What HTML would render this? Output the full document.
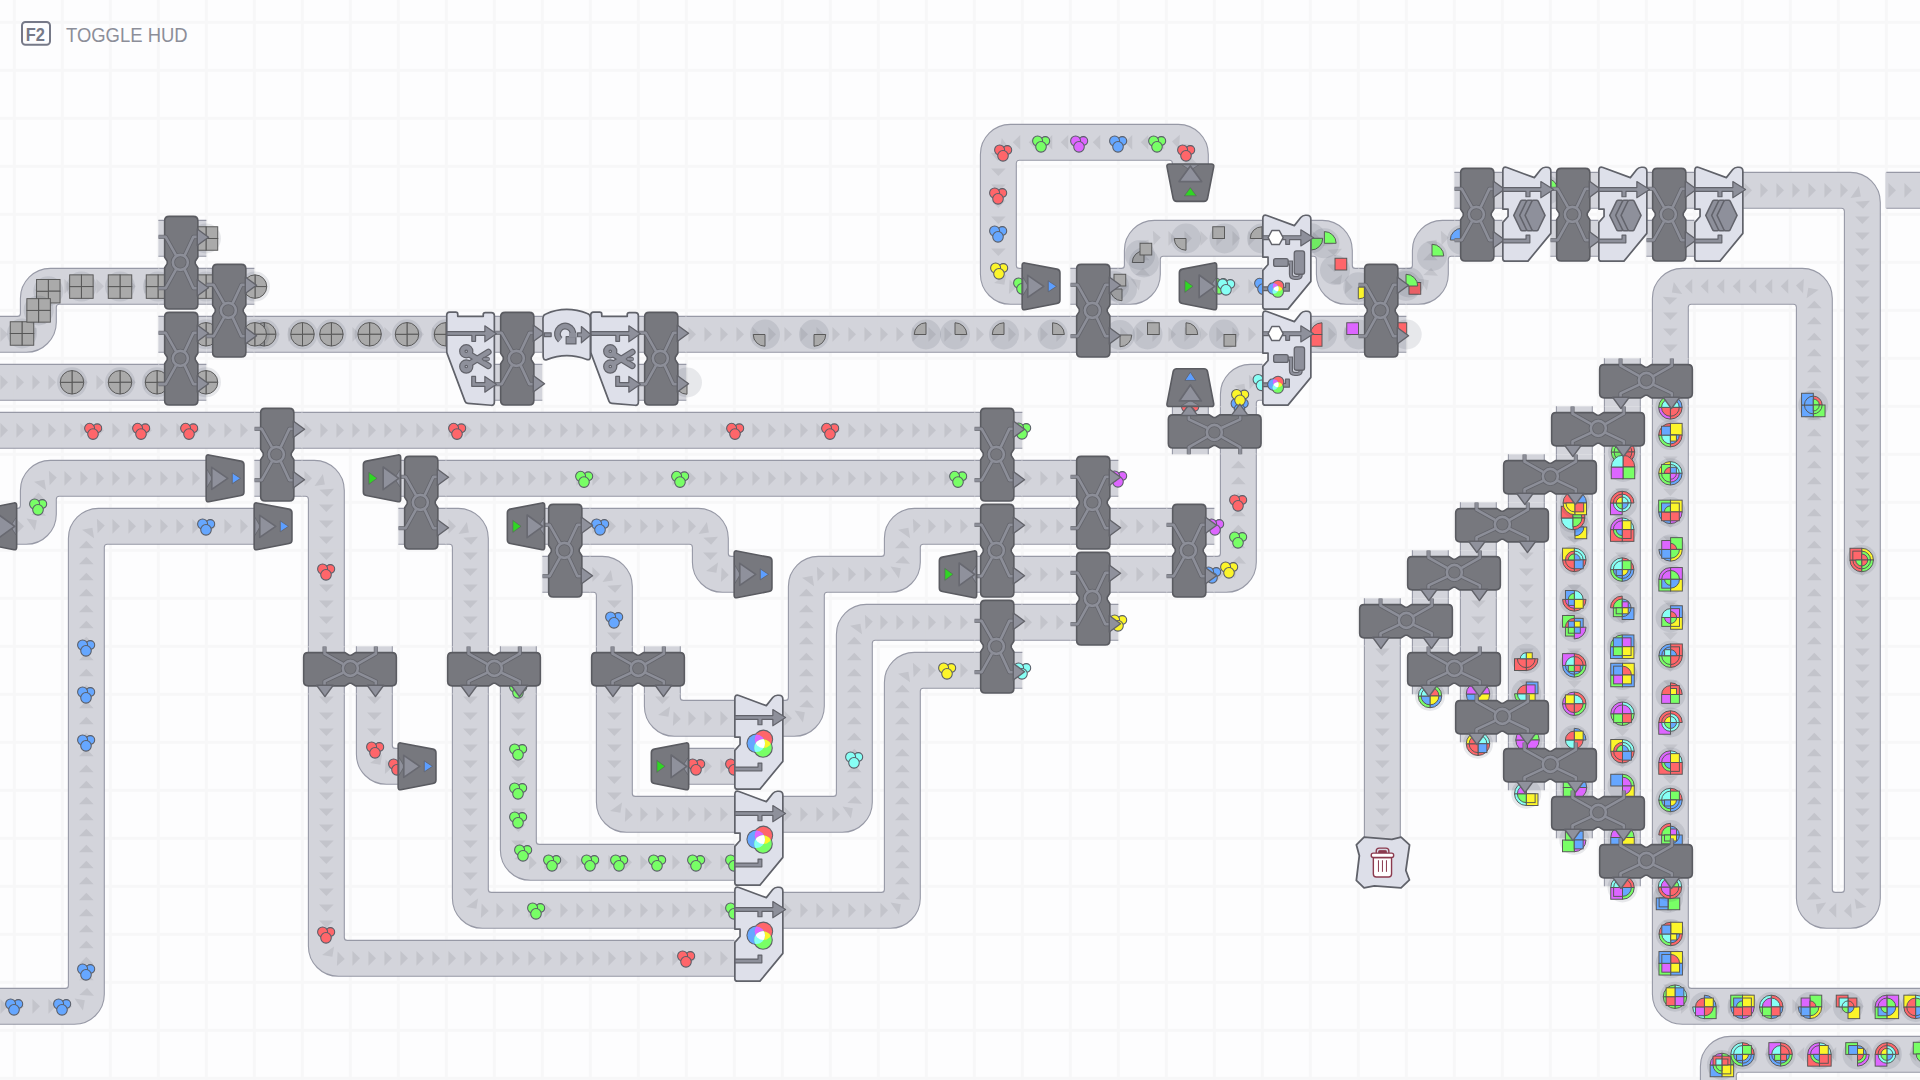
<!DOCTYPE html><html><head><meta charset="utf-8"><title>shapez</title><style>html,body{margin:0;padding:0;background:#fdfdfe;overflow:hidden}svg{display:block}</style></head><body>
<svg width="1920" height="1080" viewBox="0 0 1920 1080">

<defs>
<path id="a1" d="M0,-7.3 L7.5,0 L0,7.3 Z"/>
<g id="a3"><use href="#a1" x="-21.9"/><use href="#a1" x="-5.9"/><use href="#a1" x="10.1"/></g>
<g id="ac">
 <use href="#a1" x="-21.9"/>
 <use href="#a1" transform="translate(-7.65,1.75) rotate(35)"/>
 <use href="#a1" transform="translate(0.35,10.9) rotate(87)"/>
</g>
<g id="bal">
 <path d="M-13.2,-46 H11 Q15.5,-46 15.5,-41.5 V-5.2 L12.9,-1 V1.2 L15.5,5.4 V42.2 Q15.5,46.7 11,46.7 H-13.2 Q-17.7,46.7 -17.7,42.2 V5.4 L-15.1,1.2 V-1 L-17.7,-5.2 V-41.5 Q-17.7,-46 -13.2,-46 Z" fill="#77787e" stroke="#5a5b61" stroke-width="1.6"/>
 <g fill="none" stroke="#606168" stroke-width="4.2" stroke-linecap="butt" stroke-linejoin="round" opacity="0.8">
  <path d="M-23.8,-25.5 H-16.7 L-6.3,-7"/><path d="M-23.8,25.8 H-16.7 L-6.3,7"/>
  <path d="M2.3,-7 L11,-25.5 H15"/><path d="M2.3,7 L11,25.8 H15"/>
  <circle cx="-2" cy="0" r="7.5"/>
 </g>
 <g fill="none" stroke="#8c8e98" stroke-width="2.6" stroke-linecap="butt" stroke-linejoin="round">
  <path d="M-23.8,-25.5 H-16.7 L-6.3,-7"/><path d="M-23.8,25.8 H-16.7 L-6.3,7"/>
  <path d="M2.3,-7 L11,-25.5 H15"/><path d="M2.3,7 L11,25.8 H15"/>
  <circle cx="-2" cy="0" r="7.5"/>
 </g>
 <g fill="#8f919c" stroke="#62636a" stroke-width="1.4" stroke-linejoin="round">
  <path d="M14.9,-33.4 L26.2,-25.1 L14.9,-16.8 Z"/><path d="M14.9,17.1 L26.2,25.4 L14.9,33.7 Z"/>
 </g>
</g>
<g id="fR">
 <path d="M-21.6,-23.4 L10.6,-17.2 Q13.6,-16.6 13.6,-13.6 V13.6 Q13.6,16.6 10.6,17.2 L-21.6,23.4 Q-24.2,23.8 -24.2,21 V-21 Q-24.2,-23.8 -21.6,-23.4 Z" fill="#77787e" stroke="#5a5b61" stroke-width="1.6" stroke-linejoin="round"/>
 <path d="M-23.4,-9 L-18,0 L-23.4,9 Z" fill="#8f919c" stroke="#62636a" stroke-width="0.8"/>
 <path d="M-18.6,-11 V11 L-2.6,0 Z" fill="#8f919c" stroke="#686971" stroke-width="1.7" stroke-linejoin="round"/>
</g>
<path id="fRt" d="M1.9,-5.5 V5.5 L10.2,0 Z" stroke="#62646e" stroke-width="0.9" stroke-linejoin="round"/>
<g id="fL">
 <path d="M23.7,-23.4 L-8,-17.2 Q-11,-16.6 -11,-13.6 V13.6 Q-11,16.6 -8,17.2 L23.7,23.4 Q26.3,23.8 26.3,21 V-21 Q26.3,-23.8 23.7,-23.4 Z" fill="#77787e" stroke="#5a5b61" stroke-width="1.6" stroke-linejoin="round"/>
 <path d="M25.6,-8.5 L20,0 L25.6,8.5 Z" fill="#8f919c" stroke="#62636a" stroke-width="0.8"/>
 <path d="M8.8,-11.3 V11.3 L24.4,0 Z" fill="#8f919c" stroke="#686971" stroke-width="1.7" stroke-linejoin="round"/>
</g>
<path id="fLt" d="M-5.5,-6 V6 L2.7,0 Z" stroke="#5b6a5e" stroke-width="0.8" stroke-linejoin="round"/>
</defs>

<rect width="1920" height="1080" fill="#fdfdfe"/>
<g fill="#f7f7f8"><rect x="12.85" y="0" width="3" height="1080"/><rect x="60.85" y="0" width="3" height="1080"/><rect x="108.85" y="0" width="3" height="1080"/><rect x="156.85" y="0" width="3" height="1080"/><rect x="204.85" y="0" width="3" height="1080"/><rect x="252.85" y="0" width="3" height="1080"/><rect x="300.85" y="0" width="3" height="1080"/><rect x="348.85" y="0" width="3" height="1080"/><rect x="396.85" y="0" width="3" height="1080"/><rect x="444.85" y="0" width="3" height="1080"/><rect x="492.85" y="0" width="3" height="1080"/><rect x="540.85" y="0" width="3" height="1080"/><rect x="588.85" y="0" width="3" height="1080"/><rect x="636.85" y="0" width="3" height="1080"/><rect x="684.85" y="0" width="3" height="1080"/><rect x="732.85" y="0" width="3" height="1080"/><rect x="780.85" y="0" width="3" height="1080"/><rect x="828.85" y="0" width="3" height="1080"/><rect x="876.85" y="0" width="3" height="1080"/><rect x="924.85" y="0" width="3" height="1080"/><rect x="972.85" y="0" width="3" height="1080"/><rect x="1020.85" y="0" width="3" height="1080"/><rect x="1068.85" y="0" width="3" height="1080"/><rect x="1116.85" y="0" width="3" height="1080"/><rect x="1164.85" y="0" width="3" height="1080"/><rect x="1212.85" y="0" width="3" height="1080"/><rect x="1260.85" y="0" width="3" height="1080"/><rect x="1308.85" y="0" width="3" height="1080"/><rect x="1356.85" y="0" width="3" height="1080"/><rect x="1404.85" y="0" width="3" height="1080"/><rect x="1452.85" y="0" width="3" height="1080"/><rect x="1500.85" y="0" width="3" height="1080"/><rect x="1548.85" y="0" width="3" height="1080"/><rect x="1596.85" y="0" width="3" height="1080"/><rect x="1644.85" y="0" width="3" height="1080"/><rect x="1692.85" y="0" width="3" height="1080"/><rect x="1740.85" y="0" width="3" height="1080"/><rect x="1788.85" y="0" width="3" height="1080"/><rect x="1836.85" y="0" width="3" height="1080"/><rect x="1884.85" y="0" width="3" height="1080"/><rect x="1932.85" y="0" width="3" height="1080"/><rect x="0" y="20.85" width="1920" height="3"/><rect x="0" y="68.85" width="1920" height="3"/><rect x="0" y="116.85" width="1920" height="3"/><rect x="0" y="164.85" width="1920" height="3"/><rect x="0" y="212.85" width="1920" height="3"/><rect x="0" y="260.85" width="1920" height="3"/><rect x="0" y="308.85" width="1920" height="3"/><rect x="0" y="356.85" width="1920" height="3"/><rect x="0" y="404.85" width="1920" height="3"/><rect x="0" y="452.85" width="1920" height="3"/><rect x="0" y="500.85" width="1920" height="3"/><rect x="0" y="548.85" width="1920" height="3"/><rect x="0" y="596.85" width="1920" height="3"/><rect x="0" y="644.85" width="1920" height="3"/><rect x="0" y="692.85" width="1920" height="3"/><rect x="0" y="740.85" width="1920" height="3"/><rect x="0" y="788.85" width="1920" height="3"/><rect x="0" y="836.85" width="1920" height="3"/><rect x="0" y="884.85" width="1920" height="3"/><rect x="0" y="932.85" width="1920" height="3"/><rect x="0" y="980.85" width="1920" height="3"/><rect x="0" y="1028.85" width="1920" height="3"/><rect x="0" y="1076.85" width="1920" height="3"/></g>
<g transform="translate(182.35,238.35) rotate(0)"><rect x="-24" y="-17.95" width="48" height="35.9" fill="#d3d4db"/><path d="M-24,-17.95 H24 M-24,17.95 H24" stroke="#9799a6" stroke-width="1.1" fill="none"/></g>
<g transform="translate(182.35,286.35) rotate(0)"><rect x="-24" y="-17.95" width="48" height="35.9" fill="#d3d4db"/><path d="M-24,-17.95 H24 M-24,17.95 H24" stroke="#9799a6" stroke-width="1.1" fill="none"/></g>
<g transform="translate(230.35,286.35) rotate(0)"><rect x="-24" y="-17.95" width="48" height="35.9" fill="#d3d4db"/><path d="M-24,-17.95 H24 M-24,17.95 H24" stroke="#9799a6" stroke-width="1.1" fill="none"/></g>
<g transform="translate(230.35,334.35) rotate(0)"><rect x="-24" y="-17.95" width="48" height="35.9" fill="#d3d4db"/><path d="M-24,-17.95 H24 M-24,17.95 H24" stroke="#9799a6" stroke-width="1.1" fill="none"/></g>
<g transform="translate(182.35,334.35) rotate(0)"><rect x="-24" y="-17.95" width="48" height="35.9" fill="#d3d4db"/><path d="M-24,-17.95 H24 M-24,17.95 H24" stroke="#9799a6" stroke-width="1.1" fill="none"/></g>
<g transform="translate(182.35,382.35) rotate(0)"><rect x="-24" y="-17.95" width="48" height="35.9" fill="#d3d4db"/><path d="M-24,-17.95 H24 M-24,17.95 H24" stroke="#9799a6" stroke-width="1.1" fill="none"/></g>
<g transform="translate(518.35,334.35) rotate(0)"><rect x="-24" y="-17.95" width="48" height="35.9" fill="#d3d4db"/><path d="M-24,-17.95 H24 M-24,17.95 H24" stroke="#9799a6" stroke-width="1.1" fill="none"/></g>
<g transform="translate(518.35,382.35) rotate(0)"><rect x="-24" y="-17.95" width="48" height="35.9" fill="#d3d4db"/><path d="M-24,-17.95 H24 M-24,17.95 H24" stroke="#9799a6" stroke-width="1.1" fill="none"/></g>
<g transform="translate(662.35,334.35) rotate(0)"><rect x="-24" y="-17.95" width="48" height="35.9" fill="#d3d4db"/><path d="M-24,-17.95 H24 M-24,17.95 H24" stroke="#9799a6" stroke-width="1.1" fill="none"/></g>
<g transform="translate(662.35,382.35) rotate(0)"><rect x="-24" y="-17.95" width="48" height="35.9" fill="#d3d4db"/><path d="M-24,-17.95 H24 M-24,17.95 H24" stroke="#9799a6" stroke-width="1.1" fill="none"/></g>
<g transform="translate(278.35,430.35) rotate(0)"><rect x="-24" y="-17.95" width="48" height="35.9" fill="#d3d4db"/><path d="M-24,-17.95 H24 M-24,17.95 H24" stroke="#9799a6" stroke-width="1.1" fill="none"/></g>
<g transform="translate(278.35,478.35) rotate(0)"><rect x="-24" y="-17.95" width="48" height="35.9" fill="#d3d4db"/><path d="M-24,-17.95 H24 M-24,17.95 H24" stroke="#9799a6" stroke-width="1.1" fill="none"/></g>
<g transform="translate(422.35,478.35) rotate(0)"><rect x="-24" y="-17.95" width="48" height="35.9" fill="#d3d4db"/><path d="M-24,-17.95 H24 M-24,17.95 H24" stroke="#9799a6" stroke-width="1.1" fill="none"/></g>
<g transform="translate(422.35,526.35) rotate(0)"><rect x="-24" y="-17.95" width="48" height="35.9" fill="#d3d4db"/><path d="M-24,-17.95 H24 M-24,17.95 H24" stroke="#9799a6" stroke-width="1.1" fill="none"/></g>
<g transform="translate(566.35,526.35) rotate(0)"><rect x="-24" y="-17.95" width="48" height="35.9" fill="#d3d4db"/><path d="M-24,-17.95 H24 M-24,17.95 H24" stroke="#9799a6" stroke-width="1.1" fill="none"/></g>
<g transform="translate(566.35,574.35) rotate(0)"><rect x="-24" y="-17.95" width="48" height="35.9" fill="#d3d4db"/><path d="M-24,-17.95 H24 M-24,17.95 H24" stroke="#9799a6" stroke-width="1.1" fill="none"/></g>
<g transform="translate(998.35,430.35) rotate(0)"><rect x="-24" y="-17.95" width="48" height="35.9" fill="#d3d4db"/><path d="M-24,-17.95 H24 M-24,17.95 H24" stroke="#9799a6" stroke-width="1.1" fill="none"/></g>
<g transform="translate(998.35,478.35) rotate(0)"><rect x="-24" y="-17.95" width="48" height="35.9" fill="#d3d4db"/><path d="M-24,-17.95 H24 M-24,17.95 H24" stroke="#9799a6" stroke-width="1.1" fill="none"/></g>
<g transform="translate(998.35,526.35) rotate(0)"><rect x="-24" y="-17.95" width="48" height="35.9" fill="#d3d4db"/><path d="M-24,-17.95 H24 M-24,17.95 H24" stroke="#9799a6" stroke-width="1.1" fill="none"/></g>
<g transform="translate(998.35,574.35) rotate(0)"><rect x="-24" y="-17.95" width="48" height="35.9" fill="#d3d4db"/><path d="M-24,-17.95 H24 M-24,17.95 H24" stroke="#9799a6" stroke-width="1.1" fill="none"/></g>
<g transform="translate(998.35,622.35) rotate(0)"><rect x="-24" y="-17.95" width="48" height="35.9" fill="#d3d4db"/><path d="M-24,-17.95 H24 M-24,17.95 H24" stroke="#9799a6" stroke-width="1.1" fill="none"/></g>
<g transform="translate(998.35,670.35) rotate(0)"><rect x="-24" y="-17.95" width="48" height="35.9" fill="#d3d4db"/><path d="M-24,-17.95 H24 M-24,17.95 H24" stroke="#9799a6" stroke-width="1.1" fill="none"/></g>
<g transform="translate(1094.35,286.35) rotate(0)"><rect x="-24" y="-17.95" width="48" height="35.9" fill="#d3d4db"/><path d="M-24,-17.95 H24 M-24,17.95 H24" stroke="#9799a6" stroke-width="1.1" fill="none"/></g>
<g transform="translate(1094.35,334.35) rotate(0)"><rect x="-24" y="-17.95" width="48" height="35.9" fill="#d3d4db"/><path d="M-24,-17.95 H24 M-24,17.95 H24" stroke="#9799a6" stroke-width="1.1" fill="none"/></g>
<g transform="translate(1094.35,478.35) rotate(0)"><rect x="-24" y="-17.95" width="48" height="35.9" fill="#d3d4db"/><path d="M-24,-17.95 H24 M-24,17.95 H24" stroke="#9799a6" stroke-width="1.1" fill="none"/></g>
<g transform="translate(1094.35,526.35) rotate(0)"><rect x="-24" y="-17.95" width="48" height="35.9" fill="#d3d4db"/><path d="M-24,-17.95 H24 M-24,17.95 H24" stroke="#9799a6" stroke-width="1.1" fill="none"/></g>
<g transform="translate(1094.35,574.35) rotate(0)"><rect x="-24" y="-17.95" width="48" height="35.9" fill="#d3d4db"/><path d="M-24,-17.95 H24 M-24,17.95 H24" stroke="#9799a6" stroke-width="1.1" fill="none"/></g>
<g transform="translate(1094.35,622.35) rotate(0)"><rect x="-24" y="-17.95" width="48" height="35.9" fill="#d3d4db"/><path d="M-24,-17.95 H24 M-24,17.95 H24" stroke="#9799a6" stroke-width="1.1" fill="none"/></g>
<g transform="translate(1190.35,526.35) rotate(0)"><rect x="-24" y="-17.95" width="48" height="35.9" fill="#d3d4db"/><path d="M-24,-17.95 H24 M-24,17.95 H24" stroke="#9799a6" stroke-width="1.1" fill="none"/></g>
<g transform="translate(1190.35,574.35) rotate(0)"><rect x="-24" y="-17.95" width="48" height="35.9" fill="#d3d4db"/><path d="M-24,-17.95 H24 M-24,17.95 H24" stroke="#9799a6" stroke-width="1.1" fill="none"/></g>
<g transform="translate(1382.35,286.35) rotate(0)"><rect x="-24" y="-17.95" width="48" height="35.9" fill="#d3d4db"/><path d="M-24,-17.95 H24 M-24,17.95 H24" stroke="#9799a6" stroke-width="1.1" fill="none"/></g>
<g transform="translate(1382.35,334.35) rotate(0)"><rect x="-24" y="-17.95" width="48" height="35.9" fill="#d3d4db"/><path d="M-24,-17.95 H24 M-24,17.95 H24" stroke="#9799a6" stroke-width="1.1" fill="none"/></g>
<g transform="translate(1478.35,190.35) rotate(0)"><rect x="-24" y="-17.95" width="48" height="35.9" fill="#d3d4db"/><path d="M-24,-17.95 H24 M-24,17.95 H24" stroke="#9799a6" stroke-width="1.1" fill="none"/></g>
<g transform="translate(1478.35,238.35) rotate(0)"><rect x="-24" y="-17.95" width="48" height="35.9" fill="#d3d4db"/><path d="M-24,-17.95 H24 M-24,17.95 H24" stroke="#9799a6" stroke-width="1.1" fill="none"/></g>
<g transform="translate(1574.35,190.35) rotate(0)"><rect x="-24" y="-17.95" width="48" height="35.9" fill="#d3d4db"/><path d="M-24,-17.95 H24 M-24,17.95 H24" stroke="#9799a6" stroke-width="1.1" fill="none"/></g>
<g transform="translate(1574.35,238.35) rotate(0)"><rect x="-24" y="-17.95" width="48" height="35.9" fill="#d3d4db"/><path d="M-24,-17.95 H24 M-24,17.95 H24" stroke="#9799a6" stroke-width="1.1" fill="none"/></g>
<g transform="translate(1670.35,190.35) rotate(0)"><rect x="-24" y="-17.95" width="48" height="35.9" fill="#d3d4db"/><path d="M-24,-17.95 H24 M-24,17.95 H24" stroke="#9799a6" stroke-width="1.1" fill="none"/></g>
<g transform="translate(1670.35,238.35) rotate(0)"><rect x="-24" y="-17.95" width="48" height="35.9" fill="#d3d4db"/><path d="M-24,-17.95 H24 M-24,17.95 H24" stroke="#9799a6" stroke-width="1.1" fill="none"/></g>
<g transform="translate(326.35,670.35) rotate(90)"><rect x="-24" y="-17.95" width="48" height="35.9" fill="#d3d4db"/><path d="M-24,-17.95 H24 M-24,17.95 H24" stroke="#9799a6" stroke-width="1.1" fill="none"/></g>
<g transform="translate(374.35,670.35) rotate(90)"><rect x="-24" y="-17.95" width="48" height="35.9" fill="#d3d4db"/><path d="M-24,-17.95 H24 M-24,17.95 H24" stroke="#9799a6" stroke-width="1.1" fill="none"/></g>
<g transform="translate(470.35,670.35) rotate(90)"><rect x="-24" y="-17.95" width="48" height="35.9" fill="#d3d4db"/><path d="M-24,-17.95 H24 M-24,17.95 H24" stroke="#9799a6" stroke-width="1.1" fill="none"/></g>
<g transform="translate(518.35,670.35) rotate(90)"><rect x="-24" y="-17.95" width="48" height="35.9" fill="#d3d4db"/><path d="M-24,-17.95 H24 M-24,17.95 H24" stroke="#9799a6" stroke-width="1.1" fill="none"/></g>
<g transform="translate(614.35,670.35) rotate(90)"><rect x="-24" y="-17.95" width="48" height="35.9" fill="#d3d4db"/><path d="M-24,-17.95 H24 M-24,17.95 H24" stroke="#9799a6" stroke-width="1.1" fill="none"/></g>
<g transform="translate(662.35,670.35) rotate(90)"><rect x="-24" y="-17.95" width="48" height="35.9" fill="#d3d4db"/><path d="M-24,-17.95 H24 M-24,17.95 H24" stroke="#9799a6" stroke-width="1.1" fill="none"/></g>
<g transform="translate(1622.35,382.35) rotate(90)"><rect x="-24" y="-17.95" width="48" height="35.9" fill="#d3d4db"/><path d="M-24,-17.95 H24 M-24,17.95 H24" stroke="#9799a6" stroke-width="1.1" fill="none"/></g>
<g transform="translate(1670.35,382.35) rotate(90)"><rect x="-24" y="-17.95" width="48" height="35.9" fill="#d3d4db"/><path d="M-24,-17.95 H24 M-24,17.95 H24" stroke="#9799a6" stroke-width="1.1" fill="none"/></g>
<g transform="translate(1574.35,430.35) rotate(90)"><rect x="-24" y="-17.95" width="48" height="35.9" fill="#d3d4db"/><path d="M-24,-17.95 H24 M-24,17.95 H24" stroke="#9799a6" stroke-width="1.1" fill="none"/></g>
<g transform="translate(1622.35,430.35) rotate(90)"><rect x="-24" y="-17.95" width="48" height="35.9" fill="#d3d4db"/><path d="M-24,-17.95 H24 M-24,17.95 H24" stroke="#9799a6" stroke-width="1.1" fill="none"/></g>
<g transform="translate(1526.35,478.35) rotate(90)"><rect x="-24" y="-17.95" width="48" height="35.9" fill="#d3d4db"/><path d="M-24,-17.95 H24 M-24,17.95 H24" stroke="#9799a6" stroke-width="1.1" fill="none"/></g>
<g transform="translate(1574.35,478.35) rotate(90)"><rect x="-24" y="-17.95" width="48" height="35.9" fill="#d3d4db"/><path d="M-24,-17.95 H24 M-24,17.95 H24" stroke="#9799a6" stroke-width="1.1" fill="none"/></g>
<g transform="translate(1478.35,526.35) rotate(90)"><rect x="-24" y="-17.95" width="48" height="35.9" fill="#d3d4db"/><path d="M-24,-17.95 H24 M-24,17.95 H24" stroke="#9799a6" stroke-width="1.1" fill="none"/></g>
<g transform="translate(1526.35,526.35) rotate(90)"><rect x="-24" y="-17.95" width="48" height="35.9" fill="#d3d4db"/><path d="M-24,-17.95 H24 M-24,17.95 H24" stroke="#9799a6" stroke-width="1.1" fill="none"/></g>
<g transform="translate(1430.35,574.35) rotate(90)"><rect x="-24" y="-17.95" width="48" height="35.9" fill="#d3d4db"/><path d="M-24,-17.95 H24 M-24,17.95 H24" stroke="#9799a6" stroke-width="1.1" fill="none"/></g>
<g transform="translate(1478.35,574.35) rotate(90)"><rect x="-24" y="-17.95" width="48" height="35.9" fill="#d3d4db"/><path d="M-24,-17.95 H24 M-24,17.95 H24" stroke="#9799a6" stroke-width="1.1" fill="none"/></g>
<g transform="translate(1382.35,622.35) rotate(90)"><rect x="-24" y="-17.95" width="48" height="35.9" fill="#d3d4db"/><path d="M-24,-17.95 H24 M-24,17.95 H24" stroke="#9799a6" stroke-width="1.1" fill="none"/></g>
<g transform="translate(1430.35,622.35) rotate(90)"><rect x="-24" y="-17.95" width="48" height="35.9" fill="#d3d4db"/><path d="M-24,-17.95 H24 M-24,17.95 H24" stroke="#9799a6" stroke-width="1.1" fill="none"/></g>
<g transform="translate(1430.35,670.35) rotate(90)"><rect x="-24" y="-17.95" width="48" height="35.9" fill="#d3d4db"/><path d="M-24,-17.95 H24 M-24,17.95 H24" stroke="#9799a6" stroke-width="1.1" fill="none"/></g>
<g transform="translate(1478.35,670.35) rotate(90)"><rect x="-24" y="-17.95" width="48" height="35.9" fill="#d3d4db"/><path d="M-24,-17.95 H24 M-24,17.95 H24" stroke="#9799a6" stroke-width="1.1" fill="none"/></g>
<g transform="translate(1478.35,718.35) rotate(90)"><rect x="-24" y="-17.95" width="48" height="35.9" fill="#d3d4db"/><path d="M-24,-17.95 H24 M-24,17.95 H24" stroke="#9799a6" stroke-width="1.1" fill="none"/></g>
<g transform="translate(1526.35,718.35) rotate(90)"><rect x="-24" y="-17.95" width="48" height="35.9" fill="#d3d4db"/><path d="M-24,-17.95 H24 M-24,17.95 H24" stroke="#9799a6" stroke-width="1.1" fill="none"/></g>
<g transform="translate(1526.35,766.35) rotate(90)"><rect x="-24" y="-17.95" width="48" height="35.9" fill="#d3d4db"/><path d="M-24,-17.95 H24 M-24,17.95 H24" stroke="#9799a6" stroke-width="1.1" fill="none"/></g>
<g transform="translate(1574.35,766.35) rotate(90)"><rect x="-24" y="-17.95" width="48" height="35.9" fill="#d3d4db"/><path d="M-24,-17.95 H24 M-24,17.95 H24" stroke="#9799a6" stroke-width="1.1" fill="none"/></g>
<g transform="translate(1574.35,814.35) rotate(90)"><rect x="-24" y="-17.95" width="48" height="35.9" fill="#d3d4db"/><path d="M-24,-17.95 H24 M-24,17.95 H24" stroke="#9799a6" stroke-width="1.1" fill="none"/></g>
<g transform="translate(1622.35,814.35) rotate(90)"><rect x="-24" y="-17.95" width="48" height="35.9" fill="#d3d4db"/><path d="M-24,-17.95 H24 M-24,17.95 H24" stroke="#9799a6" stroke-width="1.1" fill="none"/></g>
<g transform="translate(1622.35,862.35) rotate(90)"><rect x="-24" y="-17.95" width="48" height="35.9" fill="#d3d4db"/><path d="M-24,-17.95 H24 M-24,17.95 H24" stroke="#9799a6" stroke-width="1.1" fill="none"/></g>
<g transform="translate(1670.35,862.35) rotate(90)"><rect x="-24" y="-17.95" width="48" height="35.9" fill="#d3d4db"/><path d="M-24,-17.95 H24 M-24,17.95 H24" stroke="#9799a6" stroke-width="1.1" fill="none"/></g>
<g transform="translate(1190.35,430.35) rotate(270)"><rect x="-24" y="-17.95" width="48" height="35.9" fill="#d3d4db"/><path d="M-24,-17.95 H24 M-24,17.95 H24" stroke="#9799a6" stroke-width="1.1" fill="none"/></g>
<g transform="translate(1238.35,430.35) rotate(270)"><rect x="-24" y="-17.95" width="48" height="35.9" fill="#d3d4db"/><path d="M-24,-17.95 H24 M-24,17.95 H24" stroke="#9799a6" stroke-width="1.1" fill="none"/></g>
<g fill="#d3d4db"><rect transform="translate(-9.65,334.35) rotate(0)" x="-25" y="-17.95" width="50" height="35.9"/><path transform="translate(38.35,334.35) rotate(0) scale(1,-1)" d="M-25,-17.95 L-12.05,-17.95 A30,30 0 0 1 17.95,12.05 L17.95,25 L-17.95,25 L-17.95,20.95 Q-17.95,17.95 -20.95,17.95 L-25,17.95 Z"/><path transform="translate(38.35,286.35) rotate(270)" d="M-25,-17.95 L-12.05,-17.95 A30,30 0 0 1 17.95,12.05 L17.95,25 L-17.95,25 L-17.95,20.95 Q-17.95,17.95 -20.95,17.95 L-25,17.95 Z"/><rect transform="translate(86.35,286.35) rotate(0)" x="-25" y="-17.95" width="50" height="35.9"/><rect transform="translate(134.35,286.35) rotate(0)" x="-25" y="-17.95" width="50" height="35.9"/><rect transform="translate(-9.65,382.35) rotate(0)" x="-25" y="-17.95" width="50" height="35.9"/><rect transform="translate(38.35,382.35) rotate(0)" x="-25" y="-17.95" width="50" height="35.9"/><rect transform="translate(86.35,382.35) rotate(0)" x="-25" y="-17.95" width="50" height="35.9"/><rect transform="translate(134.35,382.35) rotate(0)" x="-25" y="-17.95" width="50" height="35.9"/><rect transform="translate(278.35,334.35) rotate(0)" x="-25" y="-17.95" width="50" height="35.9"/><rect transform="translate(326.35,334.35) rotate(0)" x="-25" y="-17.95" width="50" height="35.9"/><rect transform="translate(374.35,334.35) rotate(0)" x="-25" y="-17.95" width="50" height="35.9"/><rect transform="translate(422.35,334.35) rotate(0)" x="-25" y="-17.95" width="50" height="35.9"/><rect transform="translate(710.35,334.35) rotate(0)" x="-25" y="-17.95" width="50" height="35.9"/><rect transform="translate(758.35,334.35) rotate(0)" x="-25" y="-17.95" width="50" height="35.9"/><rect transform="translate(806.35,334.35) rotate(0)" x="-25" y="-17.95" width="50" height="35.9"/><rect transform="translate(854.35,334.35) rotate(0)" x="-25" y="-17.95" width="50" height="35.9"/><rect transform="translate(902.35,334.35) rotate(0)" x="-25" y="-17.95" width="50" height="35.9"/><rect transform="translate(950.35,334.35) rotate(0)" x="-25" y="-17.95" width="50" height="35.9"/><rect transform="translate(998.35,334.35) rotate(0)" x="-25" y="-17.95" width="50" height="35.9"/><rect transform="translate(1046.35,334.35) rotate(0)" x="-25" y="-17.95" width="50" height="35.9"/><rect transform="translate(1142.35,334.35) rotate(0)" x="-25" y="-17.95" width="50" height="35.9"/><rect transform="translate(1190.35,334.35) rotate(0)" x="-25" y="-17.95" width="50" height="35.9"/><rect transform="translate(1238.35,334.35) rotate(0)" x="-25" y="-17.95" width="50" height="35.9"/><rect transform="translate(1334.35,334.35) rotate(0)" x="-25" y="-17.95" width="50" height="35.9"/><rect transform="translate(-9.65,430.35) rotate(0)" x="-25" y="-17.95" width="50" height="35.9"/><rect transform="translate(38.35,430.35) rotate(0)" x="-25" y="-17.95" width="50" height="35.9"/><rect transform="translate(86.35,430.35) rotate(0)" x="-25" y="-17.95" width="50" height="35.9"/><rect transform="translate(134.35,430.35) rotate(0)" x="-25" y="-17.95" width="50" height="35.9"/><rect transform="translate(182.35,430.35) rotate(0)" x="-25" y="-17.95" width="50" height="35.9"/><rect transform="translate(230.35,430.35) rotate(0)" x="-25" y="-17.95" width="50" height="35.9"/><rect transform="translate(326.35,430.35) rotate(0)" x="-25" y="-17.95" width="50" height="35.9"/><rect transform="translate(374.35,430.35) rotate(0)" x="-25" y="-17.95" width="50" height="35.9"/><rect transform="translate(422.35,430.35) rotate(0)" x="-25" y="-17.95" width="50" height="35.9"/><rect transform="translate(470.35,430.35) rotate(0)" x="-25" y="-17.95" width="50" height="35.9"/><rect transform="translate(518.35,430.35) rotate(0)" x="-25" y="-17.95" width="50" height="35.9"/><rect transform="translate(566.35,430.35) rotate(0)" x="-25" y="-17.95" width="50" height="35.9"/><rect transform="translate(614.35,430.35) rotate(0)" x="-25" y="-17.95" width="50" height="35.9"/><rect transform="translate(662.35,430.35) rotate(0)" x="-25" y="-17.95" width="50" height="35.9"/><rect transform="translate(710.35,430.35) rotate(0)" x="-25" y="-17.95" width="50" height="35.9"/><rect transform="translate(758.35,430.35) rotate(0)" x="-25" y="-17.95" width="50" height="35.9"/><rect transform="translate(806.35,430.35) rotate(0)" x="-25" y="-17.95" width="50" height="35.9"/><rect transform="translate(854.35,430.35) rotate(0)" x="-25" y="-17.95" width="50" height="35.9"/><rect transform="translate(902.35,430.35) rotate(0)" x="-25" y="-17.95" width="50" height="35.9"/><rect transform="translate(950.35,430.35) rotate(0)" x="-25" y="-17.95" width="50" height="35.9"/><path transform="translate(38.35,526.35) rotate(0) scale(1,-1)" d="M-25,-17.95 L-12.05,-17.95 A30,30 0 0 1 17.95,12.05 L17.95,25 L-17.95,25 L-17.95,20.95 Q-17.95,17.95 -20.95,17.95 L-25,17.95 Z"/><path transform="translate(38.35,478.35) rotate(270)" d="M-25,-17.95 L-12.05,-17.95 A30,30 0 0 1 17.95,12.05 L17.95,25 L-17.95,25 L-17.95,20.95 Q-17.95,17.95 -20.95,17.95 L-25,17.95 Z"/><rect transform="translate(86.35,478.35) rotate(0)" x="-25" y="-17.95" width="50" height="35.9"/><rect transform="translate(134.35,478.35) rotate(0)" x="-25" y="-17.95" width="50" height="35.9"/><rect transform="translate(182.35,478.35) rotate(0)" x="-25" y="-17.95" width="50" height="35.9"/><path transform="translate(326.35,478.35) rotate(0)" d="M-25,-17.95 L-12.05,-17.95 A30,30 0 0 1 17.95,12.05 L17.95,25 L-17.95,25 L-17.95,20.95 Q-17.95,17.95 -20.95,17.95 L-25,17.95 Z"/><rect transform="translate(326.35,526.35) rotate(90)" x="-25" y="-17.95" width="50" height="35.9"/><rect transform="translate(326.35,574.35) rotate(90)" x="-25" y="-17.95" width="50" height="35.9"/><rect transform="translate(326.35,622.35) rotate(90)" x="-25" y="-17.95" width="50" height="35.9"/><rect transform="translate(326.35,718.35) rotate(90)" x="-25" y="-17.95" width="50" height="35.9"/><rect transform="translate(326.35,766.35) rotate(90)" x="-25" y="-17.95" width="50" height="35.9"/><rect transform="translate(326.35,814.35) rotate(90)" x="-25" y="-17.95" width="50" height="35.9"/><rect transform="translate(326.35,862.35) rotate(90)" x="-25" y="-17.95" width="50" height="35.9"/><rect transform="translate(326.35,910.35) rotate(90)" x="-25" y="-17.95" width="50" height="35.9"/><path transform="translate(326.35,958.35) rotate(90) scale(1,-1)" d="M-25,-17.95 L-12.05,-17.95 A30,30 0 0 1 17.95,12.05 L17.95,25 L-17.95,25 L-17.95,20.95 Q-17.95,17.95 -20.95,17.95 L-25,17.95 Z"/><rect transform="translate(374.35,958.35) rotate(0)" x="-25" y="-17.95" width="50" height="35.9"/><rect transform="translate(422.35,958.35) rotate(0)" x="-25" y="-17.95" width="50" height="35.9"/><rect transform="translate(470.35,958.35) rotate(0)" x="-25" y="-17.95" width="50" height="35.9"/><rect transform="translate(518.35,958.35) rotate(0)" x="-25" y="-17.95" width="50" height="35.9"/><rect transform="translate(566.35,958.35) rotate(0)" x="-25" y="-17.95" width="50" height="35.9"/><rect transform="translate(614.35,958.35) rotate(0)" x="-25" y="-17.95" width="50" height="35.9"/><rect transform="translate(662.35,958.35) rotate(0)" x="-25" y="-17.95" width="50" height="35.9"/><rect transform="translate(710.35,958.35) rotate(0)" x="-25" y="-17.95" width="50" height="35.9"/><rect transform="translate(374.35,718.35) rotate(90)" x="-25" y="-17.95" width="50" height="35.9"/><path transform="translate(374.35,766.35) rotate(90) scale(1,-1)" d="M-25,-17.95 L-12.05,-17.95 A30,30 0 0 1 17.95,12.05 L17.95,25 L-17.95,25 L-17.95,20.95 Q-17.95,17.95 -20.95,17.95 L-25,17.95 Z"/><rect transform="translate(-9.65,1006.35) rotate(0)" x="-25" y="-17.95" width="50" height="35.9"/><rect transform="translate(38.35,1006.35) rotate(0)" x="-25" y="-17.95" width="50" height="35.9"/><path transform="translate(86.35,1006.35) rotate(0) scale(1,-1)" d="M-25,-17.95 L-12.05,-17.95 A30,30 0 0 1 17.95,12.05 L17.95,25 L-17.95,25 L-17.95,20.95 Q-17.95,17.95 -20.95,17.95 L-25,17.95 Z"/><rect transform="translate(86.35,958.35) rotate(270)" x="-25" y="-17.95" width="50" height="35.9"/><rect transform="translate(86.35,910.35) rotate(270)" x="-25" y="-17.95" width="50" height="35.9"/><rect transform="translate(86.35,862.35) rotate(270)" x="-25" y="-17.95" width="50" height="35.9"/><rect transform="translate(86.35,814.35) rotate(270)" x="-25" y="-17.95" width="50" height="35.9"/><rect transform="translate(86.35,766.35) rotate(270)" x="-25" y="-17.95" width="50" height="35.9"/><rect transform="translate(86.35,718.35) rotate(270)" x="-25" y="-17.95" width="50" height="35.9"/><rect transform="translate(86.35,670.35) rotate(270)" x="-25" y="-17.95" width="50" height="35.9"/><rect transform="translate(86.35,622.35) rotate(270)" x="-25" y="-17.95" width="50" height="35.9"/><rect transform="translate(86.35,574.35) rotate(270)" x="-25" y="-17.95" width="50" height="35.9"/><path transform="translate(86.35,526.35) rotate(270)" d="M-25,-17.95 L-12.05,-17.95 A30,30 0 0 1 17.95,12.05 L17.95,25 L-17.95,25 L-17.95,20.95 Q-17.95,17.95 -20.95,17.95 L-25,17.95 Z"/><rect transform="translate(134.35,526.35) rotate(0)" x="-25" y="-17.95" width="50" height="35.9"/><rect transform="translate(182.35,526.35) rotate(0)" x="-25" y="-17.95" width="50" height="35.9"/><rect transform="translate(230.35,526.35) rotate(0)" x="-25" y="-17.95" width="50" height="35.9"/><rect transform="translate(470.35,478.35) rotate(0)" x="-25" y="-17.95" width="50" height="35.9"/><rect transform="translate(518.35,478.35) rotate(0)" x="-25" y="-17.95" width="50" height="35.9"/><rect transform="translate(566.35,478.35) rotate(0)" x="-25" y="-17.95" width="50" height="35.9"/><rect transform="translate(614.35,478.35) rotate(0)" x="-25" y="-17.95" width="50" height="35.9"/><rect transform="translate(662.35,478.35) rotate(0)" x="-25" y="-17.95" width="50" height="35.9"/><rect transform="translate(710.35,478.35) rotate(0)" x="-25" y="-17.95" width="50" height="35.9"/><rect transform="translate(758.35,478.35) rotate(0)" x="-25" y="-17.95" width="50" height="35.9"/><rect transform="translate(806.35,478.35) rotate(0)" x="-25" y="-17.95" width="50" height="35.9"/><rect transform="translate(854.35,478.35) rotate(0)" x="-25" y="-17.95" width="50" height="35.9"/><rect transform="translate(902.35,478.35) rotate(0)" x="-25" y="-17.95" width="50" height="35.9"/><rect transform="translate(950.35,478.35) rotate(0)" x="-25" y="-17.95" width="50" height="35.9"/><path transform="translate(470.35,526.35) rotate(0)" d="M-25,-17.95 L-12.05,-17.95 A30,30 0 0 1 17.95,12.05 L17.95,25 L-17.95,25 L-17.95,20.95 Q-17.95,17.95 -20.95,17.95 L-25,17.95 Z"/><rect transform="translate(470.35,574.35) rotate(90)" x="-25" y="-17.95" width="50" height="35.9"/><rect transform="translate(470.35,622.35) rotate(90)" x="-25" y="-17.95" width="50" height="35.9"/><rect transform="translate(470.35,718.35) rotate(90)" x="-25" y="-17.95" width="50" height="35.9"/><rect transform="translate(470.35,766.35) rotate(90)" x="-25" y="-17.95" width="50" height="35.9"/><rect transform="translate(470.35,814.35) rotate(90)" x="-25" y="-17.95" width="50" height="35.9"/><rect transform="translate(470.35,862.35) rotate(90)" x="-25" y="-17.95" width="50" height="35.9"/><path transform="translate(470.35,910.35) rotate(90) scale(1,-1)" d="M-25,-17.95 L-12.05,-17.95 A30,30 0 0 1 17.95,12.05 L17.95,25 L-17.95,25 L-17.95,20.95 Q-17.95,17.95 -20.95,17.95 L-25,17.95 Z"/><rect transform="translate(518.35,910.35) rotate(0)" x="-25" y="-17.95" width="50" height="35.9"/><rect transform="translate(566.35,910.35) rotate(0)" x="-25" y="-17.95" width="50" height="35.9"/><rect transform="translate(614.35,910.35) rotate(0)" x="-25" y="-17.95" width="50" height="35.9"/><rect transform="translate(662.35,910.35) rotate(0)" x="-25" y="-17.95" width="50" height="35.9"/><rect transform="translate(710.35,910.35) rotate(0)" x="-25" y="-17.95" width="50" height="35.9"/><rect transform="translate(518.35,718.35) rotate(90)" x="-25" y="-17.95" width="50" height="35.9"/><rect transform="translate(518.35,766.35) rotate(90)" x="-25" y="-17.95" width="50" height="35.9"/><rect transform="translate(518.35,814.35) rotate(90)" x="-25" y="-17.95" width="50" height="35.9"/><path transform="translate(518.35,862.35) rotate(90) scale(1,-1)" d="M-25,-17.95 L-12.05,-17.95 A30,30 0 0 1 17.95,12.05 L17.95,25 L-17.95,25 L-17.95,20.95 Q-17.95,17.95 -20.95,17.95 L-25,17.95 Z"/><rect transform="translate(566.35,862.35) rotate(0)" x="-25" y="-17.95" width="50" height="35.9"/><rect transform="translate(614.35,862.35) rotate(0)" x="-25" y="-17.95" width="50" height="35.9"/><rect transform="translate(662.35,862.35) rotate(0)" x="-25" y="-17.95" width="50" height="35.9"/><rect transform="translate(710.35,862.35) rotate(0)" x="-25" y="-17.95" width="50" height="35.9"/><rect transform="translate(614.35,526.35) rotate(0)" x="-25" y="-17.95" width="50" height="35.9"/><rect transform="translate(662.35,526.35) rotate(0)" x="-25" y="-17.95" width="50" height="35.9"/><path transform="translate(710.35,526.35) rotate(0)" d="M-25,-17.95 L-12.05,-17.95 A30,30 0 0 1 17.95,12.05 L17.95,25 L-17.95,25 L-17.95,20.95 Q-17.95,17.95 -20.95,17.95 L-25,17.95 Z"/><path transform="translate(710.35,574.35) rotate(90) scale(1,-1)" d="M-25,-17.95 L-12.05,-17.95 A30,30 0 0 1 17.95,12.05 L17.95,25 L-17.95,25 L-17.95,20.95 Q-17.95,17.95 -20.95,17.95 L-25,17.95 Z"/><path transform="translate(614.35,574.35) rotate(0)" d="M-25,-17.95 L-12.05,-17.95 A30,30 0 0 1 17.95,12.05 L17.95,25 L-17.95,25 L-17.95,20.95 Q-17.95,17.95 -20.95,17.95 L-25,17.95 Z"/><rect transform="translate(614.35,622.35) rotate(90)" x="-25" y="-17.95" width="50" height="35.9"/><rect transform="translate(614.35,718.35) rotate(90)" x="-25" y="-17.95" width="50" height="35.9"/><rect transform="translate(614.35,766.35) rotate(90)" x="-25" y="-17.95" width="50" height="35.9"/><path transform="translate(614.35,814.35) rotate(90) scale(1,-1)" d="M-25,-17.95 L-12.05,-17.95 A30,30 0 0 1 17.95,12.05 L17.95,25 L-17.95,25 L-17.95,20.95 Q-17.95,17.95 -20.95,17.95 L-25,17.95 Z"/><rect transform="translate(662.35,814.35) rotate(0)" x="-25" y="-17.95" width="50" height="35.9"/><rect transform="translate(710.35,814.35) rotate(0)" x="-25" y="-17.95" width="50" height="35.9"/><path transform="translate(662.35,718.35) rotate(90) scale(1,-1)" d="M-25,-17.95 L-12.05,-17.95 A30,30 0 0 1 17.95,12.05 L17.95,25 L-17.95,25 L-17.95,20.95 Q-17.95,17.95 -20.95,17.95 L-25,17.95 Z"/><rect transform="translate(710.35,718.35) rotate(0)" x="-25" y="-17.95" width="50" height="35.9"/><rect transform="translate(710.35,766.35) rotate(0)" x="-25" y="-17.95" width="50" height="35.9"/><path transform="translate(806.35,718.35) rotate(0) scale(1,-1)" d="M-25,-17.95 L-12.05,-17.95 A30,30 0 0 1 17.95,12.05 L17.95,25 L-17.95,25 L-17.95,20.95 Q-17.95,17.95 -20.95,17.95 L-25,17.95 Z"/><rect transform="translate(806.35,670.35) rotate(270)" x="-25" y="-17.95" width="50" height="35.9"/><rect transform="translate(806.35,622.35) rotate(270)" x="-25" y="-17.95" width="50" height="35.9"/><path transform="translate(806.35,574.35) rotate(270)" d="M-25,-17.95 L-12.05,-17.95 A30,30 0 0 1 17.95,12.05 L17.95,25 L-17.95,25 L-17.95,20.95 Q-17.95,17.95 -20.95,17.95 L-25,17.95 Z"/><rect transform="translate(854.35,574.35) rotate(0)" x="-25" y="-17.95" width="50" height="35.9"/><path transform="translate(902.35,574.35) rotate(0) scale(1,-1)" d="M-25,-17.95 L-12.05,-17.95 A30,30 0 0 1 17.95,12.05 L17.95,25 L-17.95,25 L-17.95,20.95 Q-17.95,17.95 -20.95,17.95 L-25,17.95 Z"/><path transform="translate(902.35,526.35) rotate(270)" d="M-25,-17.95 L-12.05,-17.95 A30,30 0 0 1 17.95,12.05 L17.95,25 L-17.95,25 L-17.95,20.95 Q-17.95,17.95 -20.95,17.95 L-25,17.95 Z"/><rect transform="translate(950.35,526.35) rotate(0)" x="-25" y="-17.95" width="50" height="35.9"/><rect transform="translate(806.35,814.35) rotate(0)" x="-25" y="-17.95" width="50" height="35.9"/><path transform="translate(854.35,814.35) rotate(0) scale(1,-1)" d="M-25,-17.95 L-12.05,-17.95 A30,30 0 0 1 17.95,12.05 L17.95,25 L-17.95,25 L-17.95,20.95 Q-17.95,17.95 -20.95,17.95 L-25,17.95 Z"/><rect transform="translate(854.35,766.35) rotate(270)" x="-25" y="-17.95" width="50" height="35.9"/><rect transform="translate(854.35,718.35) rotate(270)" x="-25" y="-17.95" width="50" height="35.9"/><rect transform="translate(854.35,670.35) rotate(270)" x="-25" y="-17.95" width="50" height="35.9"/><path transform="translate(854.35,622.35) rotate(270)" d="M-25,-17.95 L-12.05,-17.95 A30,30 0 0 1 17.95,12.05 L17.95,25 L-17.95,25 L-17.95,20.95 Q-17.95,17.95 -20.95,17.95 L-25,17.95 Z"/><rect transform="translate(902.35,622.35) rotate(0)" x="-25" y="-17.95" width="50" height="35.9"/><rect transform="translate(950.35,622.35) rotate(0)" x="-25" y="-17.95" width="50" height="35.9"/><rect transform="translate(806.35,910.35) rotate(0)" x="-25" y="-17.95" width="50" height="35.9"/><rect transform="translate(854.35,910.35) rotate(0)" x="-25" y="-17.95" width="50" height="35.9"/><path transform="translate(902.35,910.35) rotate(0) scale(1,-1)" d="M-25,-17.95 L-12.05,-17.95 A30,30 0 0 1 17.95,12.05 L17.95,25 L-17.95,25 L-17.95,20.95 Q-17.95,17.95 -20.95,17.95 L-25,17.95 Z"/><rect transform="translate(902.35,862.35) rotate(270)" x="-25" y="-17.95" width="50" height="35.9"/><rect transform="translate(902.35,814.35) rotate(270)" x="-25" y="-17.95" width="50" height="35.9"/><rect transform="translate(902.35,766.35) rotate(270)" x="-25" y="-17.95" width="50" height="35.9"/><rect transform="translate(902.35,718.35) rotate(270)" x="-25" y="-17.95" width="50" height="35.9"/><path transform="translate(902.35,670.35) rotate(270)" d="M-25,-17.95 L-12.05,-17.95 A30,30 0 0 1 17.95,12.05 L17.95,25 L-17.95,25 L-17.95,20.95 Q-17.95,17.95 -20.95,17.95 L-25,17.95 Z"/><rect transform="translate(950.35,670.35) rotate(0)" x="-25" y="-17.95" width="50" height="35.9"/><rect transform="translate(1046.35,478.35) rotate(0)" x="-25" y="-17.95" width="50" height="35.9"/><rect transform="translate(1046.35,526.35) rotate(0)" x="-25" y="-17.95" width="50" height="35.9"/><rect transform="translate(1046.35,574.35) rotate(0)" x="-25" y="-17.95" width="50" height="35.9"/><rect transform="translate(1046.35,622.35) rotate(0)" x="-25" y="-17.95" width="50" height="35.9"/><rect transform="translate(1142.35,526.35) rotate(0)" x="-25" y="-17.95" width="50" height="35.9"/><rect transform="translate(1142.35,574.35) rotate(0)" x="-25" y="-17.95" width="50" height="35.9"/><path transform="translate(1238.35,574.35) rotate(0) scale(1,-1)" d="M-25,-17.95 L-12.05,-17.95 A30,30 0 0 1 17.95,12.05 L17.95,25 L-17.95,25 L-17.95,20.95 Q-17.95,17.95 -20.95,17.95 L-25,17.95 Z"/><rect transform="translate(1238.35,526.35) rotate(270)" x="-25" y="-17.95" width="50" height="35.9"/><rect transform="translate(1238.35,478.35) rotate(270)" x="-25" y="-17.95" width="50" height="35.9"/><path transform="translate(1238.35,382.35) rotate(270)" d="M-25,-17.95 L-12.05,-17.95 A30,30 0 0 1 17.95,12.05 L17.95,25 L-17.95,25 L-17.95,20.95 Q-17.95,17.95 -20.95,17.95 L-25,17.95 Z"/><path transform="translate(1190.35,142.35) rotate(270) scale(1,-1)" d="M-25,-17.95 L-12.05,-17.95 A30,30 0 0 1 17.95,12.05 L17.95,25 L-17.95,25 L-17.95,20.95 Q-17.95,17.95 -20.95,17.95 L-25,17.95 Z"/><rect transform="translate(1142.35,142.35) rotate(180)" x="-25" y="-17.95" width="50" height="35.9"/><rect transform="translate(1094.35,142.35) rotate(180)" x="-25" y="-17.95" width="50" height="35.9"/><rect transform="translate(1046.35,142.35) rotate(180)" x="-25" y="-17.95" width="50" height="35.9"/><path transform="translate(998.35,142.35) rotate(180) scale(1,-1)" d="M-25,-17.95 L-12.05,-17.95 A30,30 0 0 1 17.95,12.05 L17.95,25 L-17.95,25 L-17.95,20.95 Q-17.95,17.95 -20.95,17.95 L-25,17.95 Z"/><rect transform="translate(998.35,190.35) rotate(90)" x="-25" y="-17.95" width="50" height="35.9"/><rect transform="translate(998.35,238.35) rotate(90)" x="-25" y="-17.95" width="50" height="35.9"/><path transform="translate(998.35,286.35) rotate(90) scale(1,-1)" d="M-25,-17.95 L-12.05,-17.95 A30,30 0 0 1 17.95,12.05 L17.95,25 L-17.95,25 L-17.95,20.95 Q-17.95,17.95 -20.95,17.95 L-25,17.95 Z"/><path transform="translate(1142.35,286.35) rotate(0) scale(1,-1)" d="M-25,-17.95 L-12.05,-17.95 A30,30 0 0 1 17.95,12.05 L17.95,25 L-17.95,25 L-17.95,20.95 Q-17.95,17.95 -20.95,17.95 L-25,17.95 Z"/><path transform="translate(1142.35,238.35) rotate(270)" d="M-25,-17.95 L-12.05,-17.95 A30,30 0 0 1 17.95,12.05 L17.95,25 L-17.95,25 L-17.95,20.95 Q-17.95,17.95 -20.95,17.95 L-25,17.95 Z"/><rect transform="translate(1190.35,238.35) rotate(0)" x="-25" y="-17.95" width="50" height="35.9"/><rect transform="translate(1238.35,238.35) rotate(0)" x="-25" y="-17.95" width="50" height="35.9"/><rect transform="translate(1238.35,286.35) rotate(0)" x="-25" y="-17.95" width="50" height="35.9"/><path transform="translate(1334.35,238.35) rotate(0)" d="M-25,-17.95 L-12.05,-17.95 A30,30 0 0 1 17.95,12.05 L17.95,25 L-17.95,25 L-17.95,20.95 Q-17.95,17.95 -20.95,17.95 L-25,17.95 Z"/><path transform="translate(1334.35,286.35) rotate(90) scale(1,-1)" d="M-25,-17.95 L-12.05,-17.95 A30,30 0 0 1 17.95,12.05 L17.95,25 L-17.95,25 L-17.95,20.95 Q-17.95,17.95 -20.95,17.95 L-25,17.95 Z"/><path transform="translate(1430.35,286.35) rotate(0) scale(1,-1)" d="M-25,-17.95 L-12.05,-17.95 A30,30 0 0 1 17.95,12.05 L17.95,25 L-17.95,25 L-17.95,20.95 Q-17.95,17.95 -20.95,17.95 L-25,17.95 Z"/><path transform="translate(1430.35,238.35) rotate(270)" d="M-25,-17.95 L-12.05,-17.95 A30,30 0 0 1 17.95,12.05 L17.95,25 L-17.95,25 L-17.95,20.95 Q-17.95,17.95 -20.95,17.95 L-25,17.95 Z"/><rect transform="translate(1766.35,190.35) rotate(0)" x="-25" y="-17.95" width="50" height="35.9"/><rect transform="translate(1814.35,190.35) rotate(0)" x="-25" y="-17.95" width="50" height="35.9"/><path transform="translate(1862.35,190.35) rotate(0)" d="M-25,-17.95 L-12.05,-17.95 A30,30 0 0 1 17.95,12.05 L17.95,25 L-17.95,25 L-17.95,20.95 Q-17.95,17.95 -20.95,17.95 L-25,17.95 Z"/><rect transform="translate(1862.35,238.35) rotate(90)" x="-25" y="-17.95" width="50" height="35.9"/><rect transform="translate(1862.35,286.35) rotate(90)" x="-25" y="-17.95" width="50" height="35.9"/><rect transform="translate(1862.35,334.35) rotate(90)" x="-25" y="-17.95" width="50" height="35.9"/><rect transform="translate(1862.35,382.35) rotate(90)" x="-25" y="-17.95" width="50" height="35.9"/><rect transform="translate(1862.35,430.35) rotate(90)" x="-25" y="-17.95" width="50" height="35.9"/><rect transform="translate(1862.35,478.35) rotate(90)" x="-25" y="-17.95" width="50" height="35.9"/><rect transform="translate(1862.35,526.35) rotate(90)" x="-25" y="-17.95" width="50" height="35.9"/><rect transform="translate(1862.35,574.35) rotate(90)" x="-25" y="-17.95" width="50" height="35.9"/><rect transform="translate(1862.35,622.35) rotate(90)" x="-25" y="-17.95" width="50" height="35.9"/><rect transform="translate(1862.35,670.35) rotate(90)" x="-25" y="-17.95" width="50" height="35.9"/><rect transform="translate(1862.35,718.35) rotate(90)" x="-25" y="-17.95" width="50" height="35.9"/><rect transform="translate(1862.35,766.35) rotate(90)" x="-25" y="-17.95" width="50" height="35.9"/><rect transform="translate(1862.35,814.35) rotate(90)" x="-25" y="-17.95" width="50" height="35.9"/><rect transform="translate(1862.35,862.35) rotate(90)" x="-25" y="-17.95" width="50" height="35.9"/><path transform="translate(1862.35,910.35) rotate(90)" d="M-25,-17.95 L-12.05,-17.95 A30,30 0 0 1 17.95,12.05 L17.95,25 L-17.95,25 L-17.95,20.95 Q-17.95,17.95 -20.95,17.95 L-25,17.95 Z"/><path transform="translate(1814.35,910.35) rotate(180)" d="M-25,-17.95 L-12.05,-17.95 A30,30 0 0 1 17.95,12.05 L17.95,25 L-17.95,25 L-17.95,20.95 Q-17.95,17.95 -20.95,17.95 L-25,17.95 Z"/><rect transform="translate(1814.35,862.35) rotate(270)" x="-25" y="-17.95" width="50" height="35.9"/><rect transform="translate(1814.35,814.35) rotate(270)" x="-25" y="-17.95" width="50" height="35.9"/><rect transform="translate(1814.35,766.35) rotate(270)" x="-25" y="-17.95" width="50" height="35.9"/><rect transform="translate(1814.35,718.35) rotate(270)" x="-25" y="-17.95" width="50" height="35.9"/><rect transform="translate(1814.35,670.35) rotate(270)" x="-25" y="-17.95" width="50" height="35.9"/><rect transform="translate(1814.35,622.35) rotate(270)" x="-25" y="-17.95" width="50" height="35.9"/><rect transform="translate(1814.35,574.35) rotate(270)" x="-25" y="-17.95" width="50" height="35.9"/><rect transform="translate(1814.35,526.35) rotate(270)" x="-25" y="-17.95" width="50" height="35.9"/><rect transform="translate(1814.35,478.35) rotate(270)" x="-25" y="-17.95" width="50" height="35.9"/><rect transform="translate(1814.35,430.35) rotate(270)" x="-25" y="-17.95" width="50" height="35.9"/><rect transform="translate(1814.35,382.35) rotate(270)" x="-25" y="-17.95" width="50" height="35.9"/><rect transform="translate(1814.35,334.35) rotate(270)" x="-25" y="-17.95" width="50" height="35.9"/><path transform="translate(1814.35,286.35) rotate(270) scale(1,-1)" d="M-25,-17.95 L-12.05,-17.95 A30,30 0 0 1 17.95,12.05 L17.95,25 L-17.95,25 L-17.95,20.95 Q-17.95,17.95 -20.95,17.95 L-25,17.95 Z"/><rect transform="translate(1766.35,286.35) rotate(180)" x="-25" y="-17.95" width="50" height="35.9"/><rect transform="translate(1718.35,286.35) rotate(180)" x="-25" y="-17.95" width="50" height="35.9"/><path transform="translate(1670.35,286.35) rotate(180) scale(1,-1)" d="M-25,-17.95 L-12.05,-17.95 A30,30 0 0 1 17.95,12.05 L17.95,25 L-17.95,25 L-17.95,20.95 Q-17.95,17.95 -20.95,17.95 L-25,17.95 Z"/><rect transform="translate(1670.35,334.35) rotate(90)" x="-25" y="-17.95" width="50" height="35.9"/><rect transform="translate(1670.35,430.35) rotate(90)" x="-25" y="-17.95" width="50" height="35.9"/><rect transform="translate(1670.35,478.35) rotate(90)" x="-25" y="-17.95" width="50" height="35.9"/><rect transform="translate(1670.35,526.35) rotate(90)" x="-25" y="-17.95" width="50" height="35.9"/><rect transform="translate(1670.35,574.35) rotate(90)" x="-25" y="-17.95" width="50" height="35.9"/><rect transform="translate(1670.35,622.35) rotate(90)" x="-25" y="-17.95" width="50" height="35.9"/><rect transform="translate(1670.35,670.35) rotate(90)" x="-25" y="-17.95" width="50" height="35.9"/><rect transform="translate(1670.35,718.35) rotate(90)" x="-25" y="-17.95" width="50" height="35.9"/><rect transform="translate(1670.35,766.35) rotate(90)" x="-25" y="-17.95" width="50" height="35.9"/><rect transform="translate(1670.35,814.35) rotate(90)" x="-25" y="-17.95" width="50" height="35.9"/><rect transform="translate(1670.35,910.35) rotate(90)" x="-25" y="-17.95" width="50" height="35.9"/><rect transform="translate(1670.35,958.35) rotate(90)" x="-25" y="-17.95" width="50" height="35.9"/><path transform="translate(1670.35,1006.35) rotate(90) scale(1,-1)" d="M-25,-17.95 L-12.05,-17.95 A30,30 0 0 1 17.95,12.05 L17.95,25 L-17.95,25 L-17.95,20.95 Q-17.95,17.95 -20.95,17.95 L-25,17.95 Z"/><rect transform="translate(1718.35,1006.35) rotate(0)" x="-25" y="-17.95" width="50" height="35.9"/><rect transform="translate(1766.35,1006.35) rotate(0)" x="-25" y="-17.95" width="50" height="35.9"/><rect transform="translate(1814.35,1006.35) rotate(0)" x="-25" y="-17.95" width="50" height="35.9"/><rect transform="translate(1862.35,1006.35) rotate(0)" x="-25" y="-17.95" width="50" height="35.9"/><rect transform="translate(1910.35,1006.35) rotate(0)" x="-25" y="-17.95" width="50" height="35.9"/><rect transform="translate(1622.35,478.35) rotate(90)" x="-25" y="-17.95" width="50" height="35.9"/><rect transform="translate(1622.35,526.35) rotate(90)" x="-25" y="-17.95" width="50" height="35.9"/><rect transform="translate(1622.35,574.35) rotate(90)" x="-25" y="-17.95" width="50" height="35.9"/><rect transform="translate(1622.35,622.35) rotate(90)" x="-25" y="-17.95" width="50" height="35.9"/><rect transform="translate(1622.35,670.35) rotate(90)" x="-25" y="-17.95" width="50" height="35.9"/><rect transform="translate(1622.35,718.35) rotate(90)" x="-25" y="-17.95" width="50" height="35.9"/><rect transform="translate(1622.35,766.35) rotate(90)" x="-25" y="-17.95" width="50" height="35.9"/><rect transform="translate(1574.35,526.35) rotate(90)" x="-25" y="-17.95" width="50" height="35.9"/><rect transform="translate(1574.35,574.35) rotate(90)" x="-25" y="-17.95" width="50" height="35.9"/><rect transform="translate(1574.35,622.35) rotate(90)" x="-25" y="-17.95" width="50" height="35.9"/><rect transform="translate(1574.35,670.35) rotate(90)" x="-25" y="-17.95" width="50" height="35.9"/><rect transform="translate(1574.35,718.35) rotate(90)" x="-25" y="-17.95" width="50" height="35.9"/><rect transform="translate(1526.35,574.35) rotate(90)" x="-25" y="-17.95" width="50" height="35.9"/><rect transform="translate(1526.35,622.35) rotate(90)" x="-25" y="-17.95" width="50" height="35.9"/><rect transform="translate(1526.35,670.35) rotate(90)" x="-25" y="-17.95" width="50" height="35.9"/><rect transform="translate(1478.35,622.35) rotate(90)" x="-25" y="-17.95" width="50" height="35.9"/><rect transform="translate(1382.35,670.35) rotate(90)" x="-25" y="-17.95" width="50" height="35.9"/><rect transform="translate(1382.35,718.35) rotate(90)" x="-25" y="-17.95" width="50" height="35.9"/><rect transform="translate(1382.35,766.35) rotate(90)" x="-25" y="-17.95" width="50" height="35.9"/><rect transform="translate(1382.35,814.35) rotate(90)" x="-25" y="-17.95" width="50" height="35.9"/><rect transform="translate(1910.35,190.35) rotate(0)" x="-25" y="-17.95" width="50" height="35.9"/><rect transform="translate(1958.35,1054.35) rotate(180)" x="-25" y="-17.95" width="50" height="35.9"/><rect transform="translate(1910.35,1054.35) rotate(180)" x="-25" y="-17.95" width="50" height="35.9"/><rect transform="translate(1862.35,1054.35) rotate(180)" x="-25" y="-17.95" width="50" height="35.9"/><rect transform="translate(1814.35,1054.35) rotate(180)" x="-25" y="-17.95" width="50" height="35.9"/><rect transform="translate(1766.35,1054.35) rotate(180)" x="-25" y="-17.95" width="50" height="35.9"/><path transform="translate(1718.35,1054.35) rotate(180) scale(1,-1)" d="M-25,-17.95 L-12.05,-17.95 A30,30 0 0 1 17.95,12.05 L17.95,25 L-17.95,25 L-17.95,20.95 Q-17.95,17.95 -20.95,17.95 L-25,17.95 Z"/><rect transform="translate(1718.35,1102.35) rotate(90)" x="-25" y="-17.95" width="50" height="35.9"/></g>
<g fill="#c3c4cb"><use href="#a3" transform="translate(-9.65,334.35) rotate(0)"/><use href="#ac" transform="translate(38.35,334.35) rotate(0) scale(1,-1)"/><use href="#ac" transform="translate(38.35,286.35) rotate(270)"/><use href="#a3" transform="translate(86.35,286.35) rotate(0)"/><use href="#a3" transform="translate(134.35,286.35) rotate(0)"/><use href="#a3" transform="translate(-9.65,382.35) rotate(0)"/><use href="#a3" transform="translate(38.35,382.35) rotate(0)"/><use href="#a3" transform="translate(86.35,382.35) rotate(0)"/><use href="#a3" transform="translate(134.35,382.35) rotate(0)"/><use href="#a3" transform="translate(278.35,334.35) rotate(0)"/><use href="#a3" transform="translate(326.35,334.35) rotate(0)"/><use href="#a3" transform="translate(374.35,334.35) rotate(0)"/><use href="#a3" transform="translate(422.35,334.35) rotate(0)"/><use href="#a3" transform="translate(710.35,334.35) rotate(0)"/><use href="#a3" transform="translate(758.35,334.35) rotate(0)"/><use href="#a3" transform="translate(806.35,334.35) rotate(0)"/><use href="#a3" transform="translate(854.35,334.35) rotate(0)"/><use href="#a3" transform="translate(902.35,334.35) rotate(0)"/><use href="#a3" transform="translate(950.35,334.35) rotate(0)"/><use href="#a3" transform="translate(998.35,334.35) rotate(0)"/><use href="#a3" transform="translate(1046.35,334.35) rotate(0)"/><use href="#a3" transform="translate(1142.35,334.35) rotate(0)"/><use href="#a3" transform="translate(1190.35,334.35) rotate(0)"/><use href="#a3" transform="translate(1238.35,334.35) rotate(0)"/><use href="#a3" transform="translate(1334.35,334.35) rotate(0)"/><use href="#a3" transform="translate(-9.65,430.35) rotate(0)"/><use href="#a3" transform="translate(38.35,430.35) rotate(0)"/><use href="#a3" transform="translate(86.35,430.35) rotate(0)"/><use href="#a3" transform="translate(134.35,430.35) rotate(0)"/><use href="#a3" transform="translate(182.35,430.35) rotate(0)"/><use href="#a3" transform="translate(230.35,430.35) rotate(0)"/><use href="#a3" transform="translate(326.35,430.35) rotate(0)"/><use href="#a3" transform="translate(374.35,430.35) rotate(0)"/><use href="#a3" transform="translate(422.35,430.35) rotate(0)"/><use href="#a3" transform="translate(470.35,430.35) rotate(0)"/><use href="#a3" transform="translate(518.35,430.35) rotate(0)"/><use href="#a3" transform="translate(566.35,430.35) rotate(0)"/><use href="#a3" transform="translate(614.35,430.35) rotate(0)"/><use href="#a3" transform="translate(662.35,430.35) rotate(0)"/><use href="#a3" transform="translate(710.35,430.35) rotate(0)"/><use href="#a3" transform="translate(758.35,430.35) rotate(0)"/><use href="#a3" transform="translate(806.35,430.35) rotate(0)"/><use href="#a3" transform="translate(854.35,430.35) rotate(0)"/><use href="#a3" transform="translate(902.35,430.35) rotate(0)"/><use href="#a3" transform="translate(950.35,430.35) rotate(0)"/><use href="#ac" transform="translate(38.35,526.35) rotate(0) scale(1,-1)"/><use href="#ac" transform="translate(38.35,478.35) rotate(270)"/><use href="#a3" transform="translate(86.35,478.35) rotate(0)"/><use href="#a3" transform="translate(134.35,478.35) rotate(0)"/><use href="#a3" transform="translate(182.35,478.35) rotate(0)"/><use href="#ac" transform="translate(326.35,478.35) rotate(0)"/><use href="#a3" transform="translate(326.35,526.35) rotate(90)"/><use href="#a3" transform="translate(326.35,574.35) rotate(90)"/><use href="#a3" transform="translate(326.35,622.35) rotate(90)"/><use href="#a3" transform="translate(326.35,718.35) rotate(90)"/><use href="#a3" transform="translate(326.35,766.35) rotate(90)"/><use href="#a3" transform="translate(326.35,814.35) rotate(90)"/><use href="#a3" transform="translate(326.35,862.35) rotate(90)"/><use href="#a3" transform="translate(326.35,910.35) rotate(90)"/><use href="#ac" transform="translate(326.35,958.35) rotate(90) scale(1,-1)"/><use href="#a3" transform="translate(374.35,958.35) rotate(0)"/><use href="#a3" transform="translate(422.35,958.35) rotate(0)"/><use href="#a3" transform="translate(470.35,958.35) rotate(0)"/><use href="#a3" transform="translate(518.35,958.35) rotate(0)"/><use href="#a3" transform="translate(566.35,958.35) rotate(0)"/><use href="#a3" transform="translate(614.35,958.35) rotate(0)"/><use href="#a3" transform="translate(662.35,958.35) rotate(0)"/><use href="#a3" transform="translate(710.35,958.35) rotate(0)"/><use href="#a3" transform="translate(374.35,718.35) rotate(90)"/><use href="#ac" transform="translate(374.35,766.35) rotate(90) scale(1,-1)"/><use href="#a3" transform="translate(-9.65,1006.35) rotate(0)"/><use href="#a3" transform="translate(38.35,1006.35) rotate(0)"/><use href="#ac" transform="translate(86.35,1006.35) rotate(0) scale(1,-1)"/><use href="#a3" transform="translate(86.35,958.35) rotate(270)"/><use href="#a3" transform="translate(86.35,910.35) rotate(270)"/><use href="#a3" transform="translate(86.35,862.35) rotate(270)"/><use href="#a3" transform="translate(86.35,814.35) rotate(270)"/><use href="#a3" transform="translate(86.35,766.35) rotate(270)"/><use href="#a3" transform="translate(86.35,718.35) rotate(270)"/><use href="#a3" transform="translate(86.35,670.35) rotate(270)"/><use href="#a3" transform="translate(86.35,622.35) rotate(270)"/><use href="#a3" transform="translate(86.35,574.35) rotate(270)"/><use href="#ac" transform="translate(86.35,526.35) rotate(270)"/><use href="#a3" transform="translate(134.35,526.35) rotate(0)"/><use href="#a3" transform="translate(182.35,526.35) rotate(0)"/><use href="#a3" transform="translate(230.35,526.35) rotate(0)"/><use href="#a3" transform="translate(470.35,478.35) rotate(0)"/><use href="#a3" transform="translate(518.35,478.35) rotate(0)"/><use href="#a3" transform="translate(566.35,478.35) rotate(0)"/><use href="#a3" transform="translate(614.35,478.35) rotate(0)"/><use href="#a3" transform="translate(662.35,478.35) rotate(0)"/><use href="#a3" transform="translate(710.35,478.35) rotate(0)"/><use href="#a3" transform="translate(758.35,478.35) rotate(0)"/><use href="#a3" transform="translate(806.35,478.35) rotate(0)"/><use href="#a3" transform="translate(854.35,478.35) rotate(0)"/><use href="#a3" transform="translate(902.35,478.35) rotate(0)"/><use href="#a3" transform="translate(950.35,478.35) rotate(0)"/><use href="#ac" transform="translate(470.35,526.35) rotate(0)"/><use href="#a3" transform="translate(470.35,574.35) rotate(90)"/><use href="#a3" transform="translate(470.35,622.35) rotate(90)"/><use href="#a3" transform="translate(470.35,718.35) rotate(90)"/><use href="#a3" transform="translate(470.35,766.35) rotate(90)"/><use href="#a3" transform="translate(470.35,814.35) rotate(90)"/><use href="#a3" transform="translate(470.35,862.35) rotate(90)"/><use href="#ac" transform="translate(470.35,910.35) rotate(90) scale(1,-1)"/><use href="#a3" transform="translate(518.35,910.35) rotate(0)"/><use href="#a3" transform="translate(566.35,910.35) rotate(0)"/><use href="#a3" transform="translate(614.35,910.35) rotate(0)"/><use href="#a3" transform="translate(662.35,910.35) rotate(0)"/><use href="#a3" transform="translate(710.35,910.35) rotate(0)"/><use href="#a3" transform="translate(518.35,718.35) rotate(90)"/><use href="#a3" transform="translate(518.35,766.35) rotate(90)"/><use href="#a3" transform="translate(518.35,814.35) rotate(90)"/><use href="#ac" transform="translate(518.35,862.35) rotate(90) scale(1,-1)"/><use href="#a3" transform="translate(566.35,862.35) rotate(0)"/><use href="#a3" transform="translate(614.35,862.35) rotate(0)"/><use href="#a3" transform="translate(662.35,862.35) rotate(0)"/><use href="#a3" transform="translate(710.35,862.35) rotate(0)"/><use href="#a3" transform="translate(614.35,526.35) rotate(0)"/><use href="#a3" transform="translate(662.35,526.35) rotate(0)"/><use href="#ac" transform="translate(710.35,526.35) rotate(0)"/><use href="#ac" transform="translate(710.35,574.35) rotate(90) scale(1,-1)"/><use href="#ac" transform="translate(614.35,574.35) rotate(0)"/><use href="#a3" transform="translate(614.35,622.35) rotate(90)"/><use href="#a3" transform="translate(614.35,718.35) rotate(90)"/><use href="#a3" transform="translate(614.35,766.35) rotate(90)"/><use href="#ac" transform="translate(614.35,814.35) rotate(90) scale(1,-1)"/><use href="#a3" transform="translate(662.35,814.35) rotate(0)"/><use href="#a3" transform="translate(710.35,814.35) rotate(0)"/><use href="#ac" transform="translate(662.35,718.35) rotate(90) scale(1,-1)"/><use href="#a3" transform="translate(710.35,718.35) rotate(0)"/><use href="#a3" transform="translate(710.35,766.35) rotate(0)"/><use href="#ac" transform="translate(806.35,718.35) rotate(0) scale(1,-1)"/><use href="#a3" transform="translate(806.35,670.35) rotate(270)"/><use href="#a3" transform="translate(806.35,622.35) rotate(270)"/><use href="#ac" transform="translate(806.35,574.35) rotate(270)"/><use href="#a3" transform="translate(854.35,574.35) rotate(0)"/><use href="#ac" transform="translate(902.35,574.35) rotate(0) scale(1,-1)"/><use href="#ac" transform="translate(902.35,526.35) rotate(270)"/><use href="#a3" transform="translate(950.35,526.35) rotate(0)"/><use href="#a3" transform="translate(806.35,814.35) rotate(0)"/><use href="#ac" transform="translate(854.35,814.35) rotate(0) scale(1,-1)"/><use href="#a3" transform="translate(854.35,766.35) rotate(270)"/><use href="#a3" transform="translate(854.35,718.35) rotate(270)"/><use href="#a3" transform="translate(854.35,670.35) rotate(270)"/><use href="#ac" transform="translate(854.35,622.35) rotate(270)"/><use href="#a3" transform="translate(902.35,622.35) rotate(0)"/><use href="#a3" transform="translate(950.35,622.35) rotate(0)"/><use href="#a3" transform="translate(806.35,910.35) rotate(0)"/><use href="#a3" transform="translate(854.35,910.35) rotate(0)"/><use href="#ac" transform="translate(902.35,910.35) rotate(0) scale(1,-1)"/><use href="#a3" transform="translate(902.35,862.35) rotate(270)"/><use href="#a3" transform="translate(902.35,814.35) rotate(270)"/><use href="#a3" transform="translate(902.35,766.35) rotate(270)"/><use href="#a3" transform="translate(902.35,718.35) rotate(270)"/><use href="#ac" transform="translate(902.35,670.35) rotate(270)"/><use href="#a3" transform="translate(950.35,670.35) rotate(0)"/><use href="#a3" transform="translate(1046.35,478.35) rotate(0)"/><use href="#a3" transform="translate(1046.35,526.35) rotate(0)"/><use href="#a3" transform="translate(1046.35,574.35) rotate(0)"/><use href="#a3" transform="translate(1046.35,622.35) rotate(0)"/><use href="#a3" transform="translate(1142.35,526.35) rotate(0)"/><use href="#a3" transform="translate(1142.35,574.35) rotate(0)"/><use href="#ac" transform="translate(1238.35,574.35) rotate(0) scale(1,-1)"/><use href="#a3" transform="translate(1238.35,526.35) rotate(270)"/><use href="#a3" transform="translate(1238.35,478.35) rotate(270)"/><use href="#ac" transform="translate(1238.35,382.35) rotate(270)"/><use href="#ac" transform="translate(1190.35,142.35) rotate(270) scale(1,-1)"/><use href="#a3" transform="translate(1142.35,142.35) rotate(180)"/><use href="#a3" transform="translate(1094.35,142.35) rotate(180)"/><use href="#a3" transform="translate(1046.35,142.35) rotate(180)"/><use href="#ac" transform="translate(998.35,142.35) rotate(180) scale(1,-1)"/><use href="#a3" transform="translate(998.35,190.35) rotate(90)"/><use href="#a3" transform="translate(998.35,238.35) rotate(90)"/><use href="#ac" transform="translate(998.35,286.35) rotate(90) scale(1,-1)"/><use href="#ac" transform="translate(1142.35,286.35) rotate(0) scale(1,-1)"/><use href="#ac" transform="translate(1142.35,238.35) rotate(270)"/><use href="#a3" transform="translate(1190.35,238.35) rotate(0)"/><use href="#a3" transform="translate(1238.35,238.35) rotate(0)"/><use href="#a3" transform="translate(1238.35,286.35) rotate(0)"/><use href="#ac" transform="translate(1334.35,238.35) rotate(0)"/><use href="#ac" transform="translate(1334.35,286.35) rotate(90) scale(1,-1)"/><use href="#ac" transform="translate(1430.35,286.35) rotate(0) scale(1,-1)"/><use href="#ac" transform="translate(1430.35,238.35) rotate(270)"/><use href="#a3" transform="translate(1766.35,190.35) rotate(0)"/><use href="#a3" transform="translate(1814.35,190.35) rotate(0)"/><use href="#ac" transform="translate(1862.35,190.35) rotate(0)"/><use href="#a3" transform="translate(1862.35,238.35) rotate(90)"/><use href="#a3" transform="translate(1862.35,286.35) rotate(90)"/><use href="#a3" transform="translate(1862.35,334.35) rotate(90)"/><use href="#a3" transform="translate(1862.35,382.35) rotate(90)"/><use href="#a3" transform="translate(1862.35,430.35) rotate(90)"/><use href="#a3" transform="translate(1862.35,478.35) rotate(90)"/><use href="#a3" transform="translate(1862.35,526.35) rotate(90)"/><use href="#a3" transform="translate(1862.35,574.35) rotate(90)"/><use href="#a3" transform="translate(1862.35,622.35) rotate(90)"/><use href="#a3" transform="translate(1862.35,670.35) rotate(90)"/><use href="#a3" transform="translate(1862.35,718.35) rotate(90)"/><use href="#a3" transform="translate(1862.35,766.35) rotate(90)"/><use href="#a3" transform="translate(1862.35,814.35) rotate(90)"/><use href="#a3" transform="translate(1862.35,862.35) rotate(90)"/><use href="#ac" transform="translate(1862.35,910.35) rotate(90)"/><use href="#ac" transform="translate(1814.35,910.35) rotate(180)"/><use href="#a3" transform="translate(1814.35,862.35) rotate(270)"/><use href="#a3" transform="translate(1814.35,814.35) rotate(270)"/><use href="#a3" transform="translate(1814.35,766.35) rotate(270)"/><use href="#a3" transform="translate(1814.35,718.35) rotate(270)"/><use href="#a3" transform="translate(1814.35,670.35) rotate(270)"/><use href="#a3" transform="translate(1814.35,622.35) rotate(270)"/><use href="#a3" transform="translate(1814.35,574.35) rotate(270)"/><use href="#a3" transform="translate(1814.35,526.35) rotate(270)"/><use href="#a3" transform="translate(1814.35,478.35) rotate(270)"/><use href="#a3" transform="translate(1814.35,430.35) rotate(270)"/><use href="#a3" transform="translate(1814.35,382.35) rotate(270)"/><use href="#a3" transform="translate(1814.35,334.35) rotate(270)"/><use href="#ac" transform="translate(1814.35,286.35) rotate(270) scale(1,-1)"/><use href="#a3" transform="translate(1766.35,286.35) rotate(180)"/><use href="#a3" transform="translate(1718.35,286.35) rotate(180)"/><use href="#ac" transform="translate(1670.35,286.35) rotate(180) scale(1,-1)"/><use href="#a3" transform="translate(1670.35,334.35) rotate(90)"/><use href="#a3" transform="translate(1670.35,430.35) rotate(90)"/><use href="#a3" transform="translate(1670.35,478.35) rotate(90)"/><use href="#a3" transform="translate(1670.35,526.35) rotate(90)"/><use href="#a3" transform="translate(1670.35,574.35) rotate(90)"/><use href="#a3" transform="translate(1670.35,622.35) rotate(90)"/><use href="#a3" transform="translate(1670.35,670.35) rotate(90)"/><use href="#a3" transform="translate(1670.35,718.35) rotate(90)"/><use href="#a3" transform="translate(1670.35,766.35) rotate(90)"/><use href="#a3" transform="translate(1670.35,814.35) rotate(90)"/><use href="#a3" transform="translate(1670.35,910.35) rotate(90)"/><use href="#a3" transform="translate(1670.35,958.35) rotate(90)"/><use href="#ac" transform="translate(1670.35,1006.35) rotate(90) scale(1,-1)"/><use href="#a3" transform="translate(1718.35,1006.35) rotate(0)"/><use href="#a3" transform="translate(1766.35,1006.35) rotate(0)"/><use href="#a3" transform="translate(1814.35,1006.35) rotate(0)"/><use href="#a3" transform="translate(1862.35,1006.35) rotate(0)"/><use href="#a3" transform="translate(1910.35,1006.35) rotate(0)"/><use href="#a3" transform="translate(1622.35,478.35) rotate(90)"/><use href="#a3" transform="translate(1622.35,526.35) rotate(90)"/><use href="#a3" transform="translate(1622.35,574.35) rotate(90)"/><use href="#a3" transform="translate(1622.35,622.35) rotate(90)"/><use href="#a3" transform="translate(1622.35,670.35) rotate(90)"/><use href="#a3" transform="translate(1622.35,718.35) rotate(90)"/><use href="#a3" transform="translate(1622.35,766.35) rotate(90)"/><use href="#a3" transform="translate(1574.35,526.35) rotate(90)"/><use href="#a3" transform="translate(1574.35,574.35) rotate(90)"/><use href="#a3" transform="translate(1574.35,622.35) rotate(90)"/><use href="#a3" transform="translate(1574.35,670.35) rotate(90)"/><use href="#a3" transform="translate(1574.35,718.35) rotate(90)"/><use href="#a3" transform="translate(1526.35,574.35) rotate(90)"/><use href="#a3" transform="translate(1526.35,622.35) rotate(90)"/><use href="#a3" transform="translate(1526.35,670.35) rotate(90)"/><use href="#a3" transform="translate(1478.35,622.35) rotate(90)"/><use href="#a3" transform="translate(1382.35,670.35) rotate(90)"/><use href="#a3" transform="translate(1382.35,718.35) rotate(90)"/><use href="#a3" transform="translate(1382.35,766.35) rotate(90)"/><use href="#a3" transform="translate(1382.35,814.35) rotate(90)"/><use href="#a3" transform="translate(1910.35,190.35) rotate(0)"/><use href="#a3" transform="translate(1958.35,1054.35) rotate(180)"/><use href="#a3" transform="translate(1910.35,1054.35) rotate(180)"/><use href="#a3" transform="translate(1862.35,1054.35) rotate(180)"/><use href="#a3" transform="translate(1814.35,1054.35) rotate(180)"/><use href="#a3" transform="translate(1766.35,1054.35) rotate(180)"/><use href="#ac" transform="translate(1718.35,1054.35) rotate(180) scale(1,-1)"/><use href="#a3" transform="translate(1718.35,1102.35) rotate(90)"/></g>
<g fill="none" stroke="#9799a6" stroke-width="1.1" stroke-linejoin="round"><path d="M-33.65,316.40L14.35,316.40L17.40,316.40Q20.40,316.40 20.40,313.40L20.40,310.35L20.40,298.40A30,30 0 0 1 50.40,268.40L62.35,268.40L110.35,268.40L158.35,268.40"/><path d="M-33.65,352.30L14.35,352.30L26.30,352.30A30,30 0 0 0 56.30,322.30L56.30,310.35L56.30,307.30Q56.30,304.30 59.30,304.30L62.35,304.30L110.35,304.30L158.35,304.30"/><path d="M-33.65,364.40L14.35,364.40L62.35,364.40L110.35,364.40L158.35,364.40"/><path d="M-33.65,400.30L14.35,400.30L62.35,400.30L110.35,400.30L158.35,400.30"/><path d="M254.35,316.40L302.35,316.40L350.35,316.40L398.35,316.40L446.35,316.40"/><path d="M254.35,352.30L302.35,352.30L350.35,352.30L398.35,352.30L446.35,352.30"/><path d="M686.35,316.40L734.35,316.40L782.35,316.40L830.35,316.40L878.35,316.40L926.35,316.40L974.35,316.40L1022.35,316.40L1070.35,316.40"/><path d="M686.35,352.30L734.35,352.30L782.35,352.30L830.35,352.30L878.35,352.30L926.35,352.30L974.35,352.30L1022.35,352.30L1070.35,352.30"/><path d="M1118.35,316.40L1166.35,316.40L1214.35,316.40L1262.35,316.40"/><path d="M1118.35,352.30L1166.35,352.30L1214.35,352.30L1262.35,352.30"/><path d="M1310.35,316.40L1358.35,316.40"/><path d="M1310.35,352.30L1358.35,352.30"/><path d="M-33.65,412.40L14.35,412.40L62.35,412.40L110.35,412.40L158.35,412.40L206.35,412.40L254.35,412.40"/><path d="M-33.65,448.30L14.35,448.30L62.35,448.30L110.35,448.30L158.35,448.30L206.35,448.30L254.35,448.30"/><path d="M302.35,412.40L350.35,412.40L398.35,412.40L446.35,412.40L494.35,412.40L542.35,412.40L590.35,412.40L638.35,412.40L686.35,412.40L734.35,412.40L782.35,412.40L830.35,412.40L878.35,412.40L926.35,412.40L974.35,412.40"/><path d="M302.35,448.30L350.35,448.30L398.35,448.30L446.35,448.30L494.35,448.30L542.35,448.30L590.35,448.30L638.35,448.30L686.35,448.30L734.35,448.30L782.35,448.30L830.35,448.30L878.35,448.30L926.35,448.30L974.35,448.30"/><path d="M14.35,508.40L17.40,508.40Q20.40,508.40 20.40,505.40L20.40,502.35L20.40,490.40A30,30 0 0 1 50.40,460.40L62.35,460.40L110.35,460.40L158.35,460.40L206.35,460.40"/><path d="M14.35,544.30L26.30,544.30A30,30 0 0 0 56.30,514.30L56.30,502.35L56.30,499.30Q56.30,496.30 59.30,496.30L62.35,496.30L110.35,496.30L158.35,496.30L206.35,496.30"/><path d="M302.35,460.40L314.30,460.40A30,30 0 0 1 344.30,490.40L344.30,502.35L344.30,550.35L344.30,598.35L344.30,646.35"/><path d="M302.35,496.30L305.40,496.30Q308.40,496.30 308.40,499.30L308.40,502.35L308.40,550.35L308.40,598.35L308.40,646.35"/><path d="M344.30,694.35L344.30,742.35L344.30,790.35L344.30,838.35L344.30,886.35L344.30,934.35L344.30,937.40Q344.30,940.40 347.30,940.40L350.35,940.40L398.35,940.40L446.35,940.40L494.35,940.40L542.35,940.40L590.35,940.40L638.35,940.40L686.35,940.40L734.35,940.40"/><path d="M308.40,694.35L308.40,742.35L308.40,790.35L308.40,838.35L308.40,886.35L308.40,934.35L308.40,946.30A30,30 0 0 0 338.40,976.30L350.35,976.30L398.35,976.30L446.35,976.30L494.35,976.30L542.35,976.30L590.35,976.30L638.35,976.30L686.35,976.30L734.35,976.30"/><path d="M392.30,694.35L392.30,742.35L392.30,745.40Q392.30,748.40 395.30,748.40L398.35,748.40"/><path d="M356.40,694.35L356.40,742.35L356.40,754.30A30,30 0 0 0 386.40,784.30L398.35,784.30"/><path d="M-33.65,988.40L14.35,988.40L62.35,988.40L65.40,988.40Q68.40,988.40 68.40,985.40L68.40,982.35L68.40,934.35L68.40,886.35L68.40,838.35L68.40,790.35L68.40,742.35L68.40,694.35L68.40,646.35L68.40,598.35L68.40,550.35L68.40,538.40A30,30 0 0 1 98.40,508.40L110.35,508.40L158.35,508.40L206.35,508.40L254.35,508.40"/><path d="M-33.65,1024.30L14.35,1024.30L62.35,1024.30L74.30,1024.30A30,30 0 0 0 104.30,994.30L104.30,982.35L104.30,934.35L104.30,886.35L104.30,838.35L104.30,790.35L104.30,742.35L104.30,694.35L104.30,646.35L104.30,598.35L104.30,550.35L104.30,547.30Q104.30,544.30 107.30,544.30L110.35,544.30L158.35,544.30L206.35,544.30L254.35,544.30"/><path d="M446.35,460.40L494.35,460.40L542.35,460.40L590.35,460.40L638.35,460.40L686.35,460.40L734.35,460.40L782.35,460.40L830.35,460.40L878.35,460.40L926.35,460.40L974.35,460.40"/><path d="M446.35,496.30L494.35,496.30L542.35,496.30L590.35,496.30L638.35,496.30L686.35,496.30L734.35,496.30L782.35,496.30L830.35,496.30L878.35,496.30L926.35,496.30L974.35,496.30"/><path d="M446.35,508.40L458.30,508.40A30,30 0 0 1 488.30,538.40L488.30,550.35L488.30,598.35L488.30,646.35"/><path d="M446.35,544.30L449.40,544.30Q452.40,544.30 452.40,547.30L452.40,550.35L452.40,598.35L452.40,646.35"/><path d="M488.30,694.35L488.30,742.35L488.30,790.35L488.30,838.35L488.30,886.35L488.30,889.40Q488.30,892.40 491.30,892.40L494.35,892.40L542.35,892.40L590.35,892.40L638.35,892.40L686.35,892.40L734.35,892.40"/><path d="M452.40,694.35L452.40,742.35L452.40,790.35L452.40,838.35L452.40,886.35L452.40,898.30A30,30 0 0 0 482.40,928.30L494.35,928.30L542.35,928.30L590.35,928.30L638.35,928.30L686.35,928.30L734.35,928.30"/><path d="M536.30,694.35L536.30,742.35L536.30,790.35L536.30,838.35L536.30,841.40Q536.30,844.40 539.30,844.40L542.35,844.40L590.35,844.40L638.35,844.40L686.35,844.40L734.35,844.40"/><path d="M500.40,694.35L500.40,742.35L500.40,790.35L500.40,838.35L500.40,850.30A30,30 0 0 0 530.40,880.30L542.35,880.30L590.35,880.30L638.35,880.30L686.35,880.30L734.35,880.30"/><path d="M590.35,508.40L638.35,508.40L686.35,508.40L698.30,508.40A30,30 0 0 1 728.30,538.40L728.30,550.35L728.30,553.40Q728.30,556.40 731.30,556.40L734.35,556.40"/><path d="M590.35,544.30L638.35,544.30L686.35,544.30L689.40,544.30Q692.40,544.30 692.40,547.30L692.40,550.35L692.40,562.30A30,30 0 0 0 722.40,592.30L734.35,592.30"/><path d="M590.35,556.40L602.30,556.40A30,30 0 0 1 632.30,586.40L632.30,598.35L632.30,646.35"/><path d="M590.35,592.30L593.40,592.30Q596.40,592.30 596.40,595.30L596.40,598.35L596.40,646.35"/><path d="M632.30,694.35L632.30,742.35L632.30,790.35L632.30,793.40Q632.30,796.40 635.30,796.40L638.35,796.40L686.35,796.40L734.35,796.40"/><path d="M596.40,694.35L596.40,742.35L596.40,790.35L596.40,802.30A30,30 0 0 0 626.40,832.30L638.35,832.30L686.35,832.30L734.35,832.30"/><path d="M680.30,694.35L680.30,697.40Q680.30,700.40 683.30,700.40L686.35,700.40L734.35,700.40"/><path d="M644.40,694.35L644.40,706.30A30,30 0 0 0 674.40,736.30L686.35,736.30L734.35,736.30"/><path d="M686.35,748.40L734.35,748.40"/><path d="M686.35,784.30L734.35,784.30"/><path d="M782.35,700.40L785.40,700.40Q788.40,700.40 788.40,697.40L788.40,694.35L788.40,646.35L788.40,598.35L788.40,586.40A30,30 0 0 1 818.40,556.40L830.35,556.40L878.35,556.40L881.40,556.40Q884.40,556.40 884.40,553.40L884.40,550.35L884.40,538.40A30,30 0 0 1 914.40,508.40L926.35,508.40L974.35,508.40"/><path d="M782.35,736.30L794.30,736.30A30,30 0 0 0 824.30,706.30L824.30,694.35L824.30,646.35L824.30,598.35L824.30,595.30Q824.30,592.30 827.30,592.30L830.35,592.30L878.35,592.30L890.30,592.30A30,30 0 0 0 920.30,562.30L920.30,550.35L920.30,547.30Q920.30,544.30 923.30,544.30L926.35,544.30L974.35,544.30"/><path d="M782.35,796.40L830.35,796.40L833.40,796.40Q836.40,796.40 836.40,793.40L836.40,790.35L836.40,742.35L836.40,694.35L836.40,646.35L836.40,634.40A30,30 0 0 1 866.40,604.40L878.35,604.40L926.35,604.40L974.35,604.40"/><path d="M782.35,832.30L830.35,832.30L842.30,832.30A30,30 0 0 0 872.30,802.30L872.30,790.35L872.30,742.35L872.30,694.35L872.30,646.35L872.30,643.30Q872.30,640.30 875.30,640.30L878.35,640.30L926.35,640.30L974.35,640.30"/><path d="M782.35,892.40L830.35,892.40L878.35,892.40L881.40,892.40Q884.40,892.40 884.40,889.40L884.40,886.35L884.40,838.35L884.40,790.35L884.40,742.35L884.40,694.35L884.40,682.40A30,30 0 0 1 914.40,652.40L926.35,652.40L974.35,652.40"/><path d="M782.35,928.30L830.35,928.30L878.35,928.30L890.30,928.30A30,30 0 0 0 920.30,898.30L920.30,886.35L920.30,838.35L920.30,790.35L920.30,742.35L920.30,694.35L920.30,691.30Q920.30,688.30 923.30,688.30L926.35,688.30L974.35,688.30"/><path d="M1022.35,460.40L1070.35,460.40"/><path d="M1022.35,496.30L1070.35,496.30"/><path d="M1022.35,508.40L1070.35,508.40"/><path d="M1022.35,544.30L1070.35,544.30"/><path d="M1022.35,556.40L1070.35,556.40"/><path d="M1022.35,592.30L1070.35,592.30"/><path d="M1022.35,604.40L1070.35,604.40"/><path d="M1022.35,640.30L1070.35,640.30"/><path d="M1118.35,508.40L1166.35,508.40"/><path d="M1118.35,544.30L1166.35,544.30"/><path d="M1118.35,556.40L1166.35,556.40"/><path d="M1118.35,592.30L1166.35,592.30"/><path d="M1214.35,556.40L1217.40,556.40Q1220.40,556.40 1220.40,553.40L1220.40,550.35L1220.40,502.35L1220.40,454.35"/><path d="M1214.35,592.30L1226.30,592.30A30,30 0 0 0 1256.30,562.30L1256.30,550.35L1256.30,502.35L1256.30,454.35"/><path d="M1220.40,406.35L1220.40,394.40A30,30 0 0 1 1250.40,364.40L1262.35,364.40"/><path d="M1256.30,406.35L1256.30,403.30Q1256.30,400.30 1259.30,400.30L1262.35,400.30"/><path d="M1172.40,166.35L1172.40,163.30Q1172.40,160.30 1169.40,160.30L1166.35,160.30L1118.35,160.30L1070.35,160.30L1022.35,160.30L1019.30,160.30Q1016.30,160.30 1016.30,163.30L1016.30,166.35L1016.30,214.35L1016.30,262.35L1016.30,265.40Q1016.30,268.40 1019.30,268.40L1022.35,268.40"/><path d="M1208.30,166.35L1208.30,154.40A30,30 0 0 0 1178.30,124.40L1166.35,124.40L1118.35,124.40L1070.35,124.40L1022.35,124.40L1010.40,124.40A30,30 0 0 0 980.40,154.40L980.40,166.35L980.40,214.35L980.40,262.35L980.40,274.30A30,30 0 0 0 1010.40,304.30L1022.35,304.30"/><path d="M1118.35,268.40L1121.40,268.40Q1124.40,268.40 1124.40,265.40L1124.40,262.35L1124.40,250.40A30,30 0 0 1 1154.40,220.40L1166.35,220.40L1214.35,220.40L1262.35,220.40"/><path d="M1118.35,304.30L1130.30,304.30A30,30 0 0 0 1160.30,274.30L1160.30,262.35L1160.30,259.30Q1160.30,256.30 1163.30,256.30L1166.35,256.30L1214.35,256.30L1262.35,256.30"/><path d="M1214.35,268.40L1262.35,268.40"/><path d="M1214.35,304.30L1262.35,304.30"/><path d="M1310.35,220.40L1322.30,220.40A30,30 0 0 1 1352.30,250.40L1352.30,262.35L1352.30,265.40Q1352.30,268.40 1355.30,268.40L1358.35,268.40"/><path d="M1310.35,256.30L1313.40,256.30Q1316.40,256.30 1316.40,259.30L1316.40,262.35L1316.40,274.30A30,30 0 0 0 1346.40,304.30L1358.35,304.30"/><path d="M1406.35,268.40L1409.40,268.40Q1412.40,268.40 1412.40,265.40L1412.40,262.35L1412.40,250.40A30,30 0 0 1 1442.40,220.40L1454.35,220.40"/><path d="M1406.35,304.30L1418.30,304.30A30,30 0 0 0 1448.30,274.30L1448.30,262.35L1448.30,259.30Q1448.30,256.30 1451.30,256.30L1454.35,256.30"/><path d="M1742.35,172.40L1790.35,172.40L1838.35,172.40L1850.30,172.40A30,30 0 0 1 1880.30,202.40L1880.30,214.35L1880.30,262.35L1880.30,310.35L1880.30,358.35L1880.30,406.35L1880.30,454.35L1880.30,502.35L1880.30,550.35L1880.30,598.35L1880.30,646.35L1880.30,694.35L1880.30,742.35L1880.30,790.35L1880.30,838.35L1880.30,886.35L1880.30,898.30A30,30 0 0 1 1850.30,928.30L1838.35,928.30L1826.40,928.30A30,30 0 0 1 1796.40,898.30L1796.40,886.35L1796.40,838.35L1796.40,790.35L1796.40,742.35L1796.40,694.35L1796.40,646.35L1796.40,598.35L1796.40,550.35L1796.40,502.35L1796.40,454.35L1796.40,406.35L1796.40,358.35L1796.40,310.35L1796.40,307.30Q1796.40,304.30 1793.40,304.30L1790.35,304.30L1742.35,304.30L1694.35,304.30L1691.30,304.30Q1688.30,304.30 1688.30,307.30L1688.30,310.35L1688.30,358.35"/><path d="M1742.35,208.30L1790.35,208.30L1838.35,208.30L1841.40,208.30Q1844.40,208.30 1844.40,211.30L1844.40,214.35L1844.40,262.35L1844.40,310.35L1844.40,358.35L1844.40,406.35L1844.40,454.35L1844.40,502.35L1844.40,550.35L1844.40,598.35L1844.40,646.35L1844.40,694.35L1844.40,742.35L1844.40,790.35L1844.40,838.35L1844.40,886.35L1844.40,889.40Q1844.40,892.40 1841.40,892.40L1838.35,892.40L1835.30,892.40Q1832.30,892.40 1832.30,889.40L1832.30,886.35L1832.30,838.35L1832.30,790.35L1832.30,742.35L1832.30,694.35L1832.30,646.35L1832.30,598.35L1832.30,550.35L1832.30,502.35L1832.30,454.35L1832.30,406.35L1832.30,358.35L1832.30,310.35L1832.30,298.40A30,30 0 0 0 1802.30,268.40L1790.35,268.40L1742.35,268.40L1694.35,268.40L1682.40,268.40A30,30 0 0 0 1652.40,298.40L1652.40,310.35L1652.40,358.35"/><path d="M1688.30,406.35L1688.30,454.35L1688.30,502.35L1688.30,550.35L1688.30,598.35L1688.30,646.35L1688.30,694.35L1688.30,742.35L1688.30,790.35L1688.30,838.35"/><path d="M1652.40,406.35L1652.40,454.35L1652.40,502.35L1652.40,550.35L1652.40,598.35L1652.40,646.35L1652.40,694.35L1652.40,742.35L1652.40,790.35L1652.40,838.35"/><path d="M1688.30,886.35L1688.30,934.35L1688.30,982.35L1688.30,985.40Q1688.30,988.40 1691.30,988.40L1694.35,988.40L1742.35,988.40L1790.35,988.40L1838.35,988.40L1886.35,988.40L1934.35,988.40"/><path d="M1652.40,886.35L1652.40,934.35L1652.40,982.35L1652.40,994.30A30,30 0 0 0 1682.40,1024.30L1694.35,1024.30L1742.35,1024.30L1790.35,1024.30L1838.35,1024.30L1886.35,1024.30L1934.35,1024.30"/><path d="M1640.30,454.35L1640.30,502.35L1640.30,550.35L1640.30,598.35L1640.30,646.35L1640.30,694.35L1640.30,742.35L1640.30,790.35"/><path d="M1604.40,454.35L1604.40,502.35L1604.40,550.35L1604.40,598.35L1604.40,646.35L1604.40,694.35L1604.40,742.35L1604.40,790.35"/><path d="M1592.30,502.35L1592.30,550.35L1592.30,598.35L1592.30,646.35L1592.30,694.35L1592.30,742.35"/><path d="M1556.40,502.35L1556.40,550.35L1556.40,598.35L1556.40,646.35L1556.40,694.35L1556.40,742.35"/><path d="M1544.30,550.35L1544.30,598.35L1544.30,646.35L1544.30,694.35"/><path d="M1508.40,550.35L1508.40,598.35L1508.40,646.35L1508.40,694.35"/><path d="M1496.30,598.35L1496.30,646.35"/><path d="M1460.40,598.35L1460.40,646.35"/><path d="M1400.30,646.35L1400.30,694.35L1400.30,742.35L1400.30,790.35L1400.30,838.35"/><path d="M1364.40,646.35L1364.40,694.35L1364.40,742.35L1364.40,790.35L1364.40,838.35"/><path d="M1886.35,172.40L1934.35,172.40"/><path d="M1886.35,208.30L1934.35,208.30"/><path d="M1982.35,1072.30L1934.35,1072.30L1886.35,1072.30L1838.35,1072.30L1790.35,1072.30L1742.35,1072.30L1739.30,1072.30Q1736.30,1072.30 1736.30,1075.30L1736.30,1078.35L1736.30,1126.35"/><path d="M1982.35,1036.40L1934.35,1036.40L1886.35,1036.40L1838.35,1036.40L1790.35,1036.40L1742.35,1036.40L1730.40,1036.40A30,30 0 0 0 1700.40,1066.40L1700.40,1078.35L1700.40,1126.35"/></g>
<g transform="translate(22,333.5)"><circle r="15" fill="rgba(40,50,65,0.1)"/><g stroke="#555" stroke-width="0.95" stroke-linejoin="miter"><rect transform="rotate(0)" x="0" y="-11.74" width="11.74" height="11.74" fill="#aaaaaa"/><rect transform="rotate(90)" x="0" y="-11.74" width="11.74" height="11.74" fill="#aaaaaa"/><rect transform="rotate(180)" x="0" y="-11.74" width="11.74" height="11.74" fill="#aaaaaa"/><rect transform="rotate(270)" x="0" y="-11.74" width="11.74" height="11.74" fill="#aaaaaa"/></g></g>
<g transform="translate(48.3,291.2)"><circle r="15" fill="rgba(40,50,65,0.1)"/><g stroke="#555" stroke-width="0.95" stroke-linejoin="miter"><rect transform="rotate(0)" x="0" y="-11.74" width="11.74" height="11.74" fill="#aaaaaa"/><rect transform="rotate(90)" x="0" y="-11.74" width="11.74" height="11.74" fill="#aaaaaa"/><rect transform="rotate(180)" x="0" y="-11.74" width="11.74" height="11.74" fill="#aaaaaa"/><rect transform="rotate(270)" x="0" y="-11.74" width="11.74" height="11.74" fill="#aaaaaa"/></g></g>
<g transform="translate(38.6,310.4)"><circle r="15" fill="rgba(40,50,65,0.1)"/><g stroke="#555" stroke-width="0.95" stroke-linejoin="miter"><rect transform="rotate(0)" x="0" y="-11.74" width="11.74" height="11.74" fill="#aaaaaa"/><rect transform="rotate(90)" x="0" y="-11.74" width="11.74" height="11.74" fill="#aaaaaa"/><rect transform="rotate(180)" x="0" y="-11.74" width="11.74" height="11.74" fill="#aaaaaa"/><rect transform="rotate(270)" x="0" y="-11.74" width="11.74" height="11.74" fill="#aaaaaa"/></g></g>
<g transform="translate(81.4,286.6)"><circle r="15" fill="rgba(40,50,65,0.1)"/><g stroke="#555" stroke-width="0.95" stroke-linejoin="miter"><rect transform="rotate(0)" x="0" y="-11.74" width="11.74" height="11.74" fill="#aaaaaa"/><rect transform="rotate(90)" x="0" y="-11.74" width="11.74" height="11.74" fill="#aaaaaa"/><rect transform="rotate(180)" x="0" y="-11.74" width="11.74" height="11.74" fill="#aaaaaa"/><rect transform="rotate(270)" x="0" y="-11.74" width="11.74" height="11.74" fill="#aaaaaa"/></g></g>
<g transform="translate(120,286.6)"><circle r="15" fill="rgba(40,50,65,0.1)"/><g stroke="#555" stroke-width="0.95" stroke-linejoin="miter"><rect transform="rotate(0)" x="0" y="-11.74" width="11.74" height="11.74" fill="#aaaaaa"/><rect transform="rotate(90)" x="0" y="-11.74" width="11.74" height="11.74" fill="#aaaaaa"/><rect transform="rotate(180)" x="0" y="-11.74" width="11.74" height="11.74" fill="#aaaaaa"/><rect transform="rotate(270)" x="0" y="-11.74" width="11.74" height="11.74" fill="#aaaaaa"/></g></g>
<g transform="translate(158,286.6)"><circle r="15" fill="rgba(40,50,65,0.1)"/><g stroke="#555" stroke-width="0.95" stroke-linejoin="miter"><rect transform="rotate(0)" x="0" y="-11.74" width="11.74" height="11.74" fill="#aaaaaa"/><rect transform="rotate(90)" x="0" y="-11.74" width="11.74" height="11.74" fill="#aaaaaa"/><rect transform="rotate(180)" x="0" y="-11.74" width="11.74" height="11.74" fill="#aaaaaa"/><rect transform="rotate(270)" x="0" y="-11.74" width="11.74" height="11.74" fill="#aaaaaa"/></g></g>
<g transform="translate(206,238.5)"><circle r="15" fill="rgba(40,50,65,0.1)"/><g stroke="#555" stroke-width="0.95" stroke-linejoin="miter"><rect transform="rotate(0)" x="0" y="-11.74" width="11.74" height="11.74" fill="#aaaaaa"/><rect transform="rotate(90)" x="0" y="-11.74" width="11.74" height="11.74" fill="#aaaaaa"/><rect transform="rotate(180)" x="0" y="-11.74" width="11.74" height="11.74" fill="#aaaaaa"/><rect transform="rotate(270)" x="0" y="-11.74" width="11.74" height="11.74" fill="#aaaaaa"/></g></g>
<g transform="translate(206,286.6)"><circle r="15" fill="rgba(40,50,65,0.1)"/><g stroke="#555" stroke-width="0.95" stroke-linejoin="miter"><rect transform="rotate(0)" x="0" y="-11.74" width="11.74" height="11.74" fill="#aaaaaa"/><rect transform="rotate(90)" x="0" y="-11.74" width="11.74" height="11.74" fill="#aaaaaa"/><rect transform="rotate(180)" x="0" y="-11.74" width="11.74" height="11.74" fill="#aaaaaa"/><rect transform="rotate(270)" x="0" y="-11.74" width="11.74" height="11.74" fill="#aaaaaa"/></g></g>
<g transform="translate(255,286.6)"><circle r="15" fill="rgba(40,50,65,0.1)"/><g stroke="#555" stroke-width="0.95" stroke-linejoin="miter"><path transform="rotate(0)" d="M0,0 L0,-11.74 A11.74,11.74 0 0 1 11.74,0 Z" fill="#aaaaaa"/><path transform="rotate(90)" d="M0,0 L0,-11.74 A11.74,11.74 0 0 1 11.74,0 Z" fill="#aaaaaa"/><path transform="rotate(180)" d="M0,0 L0,-11.74 A11.74,11.74 0 0 1 11.74,0 Z" fill="#aaaaaa"/><path transform="rotate(270)" d="M0,0 L0,-11.74 A11.74,11.74 0 0 1 11.74,0 Z" fill="#aaaaaa"/></g></g>
<g transform="translate(206,334.3)"><circle r="15" fill="rgba(40,50,65,0.1)"/><g stroke="#555" stroke-width="0.95" stroke-linejoin="miter"><path transform="rotate(0)" d="M0,0 L0,-11.74 A11.74,11.74 0 0 1 11.74,0 Z" fill="#aaaaaa"/><path transform="rotate(90)" d="M0,0 L0,-11.74 A11.74,11.74 0 0 1 11.74,0 Z" fill="#aaaaaa"/><path transform="rotate(180)" d="M0,0 L0,-11.74 A11.74,11.74 0 0 1 11.74,0 Z" fill="#aaaaaa"/><path transform="rotate(270)" d="M0,0 L0,-11.74 A11.74,11.74 0 0 1 11.74,0 Z" fill="#aaaaaa"/></g></g>
<g transform="translate(264.2,334.3)"><circle r="15" fill="rgba(40,50,65,0.1)"/><g stroke="#555" stroke-width="0.95" stroke-linejoin="miter"><path transform="rotate(0)" d="M0,0 L0,-11.74 A11.74,11.74 0 0 1 11.74,0 Z" fill="#aaaaaa"/><path transform="rotate(90)" d="M0,0 L0,-11.74 A11.74,11.74 0 0 1 11.74,0 Z" fill="#aaaaaa"/><path transform="rotate(180)" d="M0,0 L0,-11.74 A11.74,11.74 0 0 1 11.74,0 Z" fill="#aaaaaa"/><path transform="rotate(270)" d="M0,0 L0,-11.74 A11.74,11.74 0 0 1 11.74,0 Z" fill="#aaaaaa"/></g></g>
<g transform="translate(254.8,334.3)"><circle r="15" fill="rgba(40,50,65,0.1)"/><g stroke="#555" stroke-width="0.95" stroke-linejoin="miter"><path transform="rotate(0)" d="M0,0 L0,-11.74 A11.74,11.74 0 0 1 11.74,0 Z" fill="#aaaaaa"/><path transform="rotate(90)" d="M0,0 L0,-11.74 A11.74,11.74 0 0 1 11.74,0 Z" fill="#aaaaaa"/><path transform="rotate(180)" d="M0,0 L0,-11.74 A11.74,11.74 0 0 1 11.74,0 Z" fill="#aaaaaa"/><path transform="rotate(270)" d="M0,0 L0,-11.74 A11.74,11.74 0 0 1 11.74,0 Z" fill="#aaaaaa"/></g></g>
<g transform="translate(302.5,334.3)"><circle r="15" fill="rgba(40,50,65,0.1)"/><g stroke="#555" stroke-width="0.95" stroke-linejoin="miter"><path transform="rotate(0)" d="M0,0 L0,-11.74 A11.74,11.74 0 0 1 11.74,0 Z" fill="#aaaaaa"/><path transform="rotate(90)" d="M0,0 L0,-11.74 A11.74,11.74 0 0 1 11.74,0 Z" fill="#aaaaaa"/><path transform="rotate(180)" d="M0,0 L0,-11.74 A11.74,11.74 0 0 1 11.74,0 Z" fill="#aaaaaa"/><path transform="rotate(270)" d="M0,0 L0,-11.74 A11.74,11.74 0 0 1 11.74,0 Z" fill="#aaaaaa"/></g></g>
<g transform="translate(331.4,334.3)"><circle r="15" fill="rgba(40,50,65,0.1)"/><g stroke="#555" stroke-width="0.95" stroke-linejoin="miter"><path transform="rotate(0)" d="M0,0 L0,-11.74 A11.74,11.74 0 0 1 11.74,0 Z" fill="#aaaaaa"/><path transform="rotate(90)" d="M0,0 L0,-11.74 A11.74,11.74 0 0 1 11.74,0 Z" fill="#aaaaaa"/><path transform="rotate(180)" d="M0,0 L0,-11.74 A11.74,11.74 0 0 1 11.74,0 Z" fill="#aaaaaa"/><path transform="rotate(270)" d="M0,0 L0,-11.74 A11.74,11.74 0 0 1 11.74,0 Z" fill="#aaaaaa"/></g></g>
<g transform="translate(369.6,334.3)"><circle r="15" fill="rgba(40,50,65,0.1)"/><g stroke="#555" stroke-width="0.95" stroke-linejoin="miter"><path transform="rotate(0)" d="M0,0 L0,-11.74 A11.74,11.74 0 0 1 11.74,0 Z" fill="#aaaaaa"/><path transform="rotate(90)" d="M0,0 L0,-11.74 A11.74,11.74 0 0 1 11.74,0 Z" fill="#aaaaaa"/><path transform="rotate(180)" d="M0,0 L0,-11.74 A11.74,11.74 0 0 1 11.74,0 Z" fill="#aaaaaa"/><path transform="rotate(270)" d="M0,0 L0,-11.74 A11.74,11.74 0 0 1 11.74,0 Z" fill="#aaaaaa"/></g></g>
<g transform="translate(407,334.3)"><circle r="15" fill="rgba(40,50,65,0.1)"/><g stroke="#555" stroke-width="0.95" stroke-linejoin="miter"><path transform="rotate(0)" d="M0,0 L0,-11.74 A11.74,11.74 0 0 1 11.74,0 Z" fill="#aaaaaa"/><path transform="rotate(90)" d="M0,0 L0,-11.74 A11.74,11.74 0 0 1 11.74,0 Z" fill="#aaaaaa"/><path transform="rotate(180)" d="M0,0 L0,-11.74 A11.74,11.74 0 0 1 11.74,0 Z" fill="#aaaaaa"/><path transform="rotate(270)" d="M0,0 L0,-11.74 A11.74,11.74 0 0 1 11.74,0 Z" fill="#aaaaaa"/></g></g>
<g transform="translate(446,334.3)"><circle r="15" fill="rgba(40,50,65,0.1)"/><g stroke="#555" stroke-width="0.95" stroke-linejoin="miter"><path transform="rotate(0)" d="M0,0 L0,-11.74 A11.74,11.74 0 0 1 11.74,0 Z" fill="#aaaaaa"/><path transform="rotate(90)" d="M0,0 L0,-11.74 A11.74,11.74 0 0 1 11.74,0 Z" fill="#aaaaaa"/><path transform="rotate(180)" d="M0,0 L0,-11.74 A11.74,11.74 0 0 1 11.74,0 Z" fill="#aaaaaa"/><path transform="rotate(270)" d="M0,0 L0,-11.74 A11.74,11.74 0 0 1 11.74,0 Z" fill="#aaaaaa"/></g></g>
<g transform="translate(72,382.3)"><circle r="15" fill="rgba(40,50,65,0.1)"/><g stroke="#555" stroke-width="0.95" stroke-linejoin="miter"><path transform="rotate(0)" d="M0,0 L0,-11.74 A11.74,11.74 0 0 1 11.74,0 Z" fill="#aaaaaa"/><path transform="rotate(90)" d="M0,0 L0,-11.74 A11.74,11.74 0 0 1 11.74,0 Z" fill="#aaaaaa"/><path transform="rotate(180)" d="M0,0 L0,-11.74 A11.74,11.74 0 0 1 11.74,0 Z" fill="#aaaaaa"/><path transform="rotate(270)" d="M0,0 L0,-11.74 A11.74,11.74 0 0 1 11.74,0 Z" fill="#aaaaaa"/></g></g>
<g transform="translate(120,382.3)"><circle r="15" fill="rgba(40,50,65,0.1)"/><g stroke="#555" stroke-width="0.95" stroke-linejoin="miter"><path transform="rotate(0)" d="M0,0 L0,-11.74 A11.74,11.74 0 0 1 11.74,0 Z" fill="#aaaaaa"/><path transform="rotate(90)" d="M0,0 L0,-11.74 A11.74,11.74 0 0 1 11.74,0 Z" fill="#aaaaaa"/><path transform="rotate(180)" d="M0,0 L0,-11.74 A11.74,11.74 0 0 1 11.74,0 Z" fill="#aaaaaa"/><path transform="rotate(270)" d="M0,0 L0,-11.74 A11.74,11.74 0 0 1 11.74,0 Z" fill="#aaaaaa"/></g></g>
<g transform="translate(157,382.3)"><circle r="15" fill="rgba(40,50,65,0.1)"/><g stroke="#555" stroke-width="0.95" stroke-linejoin="miter"><path transform="rotate(0)" d="M0,0 L0,-11.74 A11.74,11.74 0 0 1 11.74,0 Z" fill="#aaaaaa"/><path transform="rotate(90)" d="M0,0 L0,-11.74 A11.74,11.74 0 0 1 11.74,0 Z" fill="#aaaaaa"/><path transform="rotate(180)" d="M0,0 L0,-11.74 A11.74,11.74 0 0 1 11.74,0 Z" fill="#aaaaaa"/><path transform="rotate(270)" d="M0,0 L0,-11.74 A11.74,11.74 0 0 1 11.74,0 Z" fill="#aaaaaa"/></g></g>
<g transform="translate(206,382.3)"><circle r="15" fill="rgba(40,50,65,0.1)"/><g stroke="#555" stroke-width="0.95" stroke-linejoin="miter"><path transform="rotate(0)" d="M0,0 L0,-11.74 A11.74,11.74 0 0 1 11.74,0 Z" fill="#aaaaaa"/><path transform="rotate(90)" d="M0,0 L0,-11.74 A11.74,11.74 0 0 1 11.74,0 Z" fill="#aaaaaa"/><path transform="rotate(180)" d="M0,0 L0,-11.74 A11.74,11.74 0 0 1 11.74,0 Z" fill="#aaaaaa"/><path transform="rotate(270)" d="M0,0 L0,-11.74 A11.74,11.74 0 0 1 11.74,0 Z" fill="#aaaaaa"/></g></g>
<g transform="translate(765,334.5)"><circle r="15" fill="rgba(40,50,65,0.1)"/><g stroke="#555" stroke-width="0.95" stroke-linejoin="miter"><path transform="rotate(180)" d="M0,0 L0,-11.74 A11.74,11.74 0 0 1 11.74,0 Z" fill="#aaaaaa"/></g></g>
<g transform="translate(814,334.5)"><circle r="15" fill="rgba(40,50,65,0.1)"/><g stroke="#555" stroke-width="0.95" stroke-linejoin="miter"><path transform="rotate(90)" d="M0,0 L0,-11.74 A11.74,11.74 0 0 1 11.74,0 Z" fill="#aaaaaa"/></g></g>
<g transform="translate(926,334.5)"><circle r="15" fill="rgba(40,50,65,0.1)"/><g stroke="#555" stroke-width="0.95" stroke-linejoin="miter"><path transform="rotate(270)" d="M0,0 L0,-11.74 A11.74,11.74 0 0 1 11.74,0 Z" fill="#aaaaaa"/></g></g>
<g transform="translate(955,334.5)"><circle r="15" fill="rgba(40,50,65,0.1)"/><g stroke="#555" stroke-width="0.95" stroke-linejoin="miter"><path transform="rotate(0)" d="M0,0 L0,-11.74 A11.74,11.74 0 0 1 11.74,0 Z" fill="#aaaaaa"/></g></g>
<g transform="translate(1004,334.5)"><circle r="15" fill="rgba(40,50,65,0.1)"/><g stroke="#555" stroke-width="0.95" stroke-linejoin="miter"><path transform="rotate(270)" d="M0,0 L0,-11.74 A11.74,11.74 0 0 1 11.74,0 Z" fill="#aaaaaa"/></g></g>
<g transform="translate(1052.6,334.5)"><circle r="15" fill="rgba(40,50,65,0.1)"/><g stroke="#555" stroke-width="0.95" stroke-linejoin="miter"><path transform="rotate(0)" d="M0,0 L0,-11.74 A11.74,11.74 0 0 1 11.74,0 Z" fill="#aaaaaa"/></g></g>
<g transform="translate(1120,335)"><circle r="15" fill="rgba(40,50,65,0.1)"/><g stroke="#555" stroke-width="0.95" stroke-linejoin="miter"><path transform="rotate(90)" d="M0,0 L0,-11.74 A11.74,11.74 0 0 1 11.74,0 Z" fill="#aaaaaa"/></g></g>
<g transform="translate(1147.5,334.5)"><circle r="15" fill="rgba(40,50,65,0.1)"/><g stroke="#555" stroke-width="0.95" stroke-linejoin="miter"><rect transform="rotate(0)" x="0" y="-11.74" width="11.74" height="11.74" fill="#aaaaaa"/></g></g>
<g transform="translate(1186,334.5)"><circle r="15" fill="rgba(40,50,65,0.1)"/><g stroke="#555" stroke-width="0.95" stroke-linejoin="miter"><path transform="rotate(0)" d="M0,0 L0,-11.74 A11.74,11.74 0 0 1 11.74,0 Z" fill="#aaaaaa"/></g></g>
<g transform="translate(1224,334.5)"><circle r="15" fill="rgba(40,50,65,0.1)"/><g stroke="#555" stroke-width="0.95" stroke-linejoin="miter"><rect transform="rotate(90)" x="0" y="-11.74" width="11.74" height="11.74" fill="#aaaaaa"/></g></g>
<g transform="translate(1322,334.5)"><circle r="15" fill="rgba(40,50,65,0.1)"/><g stroke="#555" stroke-width="0.95" stroke-linejoin="miter"><rect transform="rotate(180)" x="0" y="-11.74" width="11.74" height="11.74" fill="#ff666a"/><path transform="rotate(270)" d="M0,0 L0,-11.74 A11.74,11.74 0 0 1 11.74,0 Z" fill="#ff666a"/></g></g>
<g transform="translate(1358.5,334.5)"><circle r="15" fill="rgba(40,50,65,0.1)"/><g stroke="#555" stroke-width="0.95" stroke-linejoin="miter"><rect transform="rotate(270)" x="0" y="-11.74" width="11.74" height="11.74" fill="#dd66ff"/></g></g>
<g transform="translate(1406.7,334.5)"><circle r="15" fill="rgba(40,50,65,0.1)"/><g stroke="#555" stroke-width="0.95" stroke-linejoin="miter"><rect transform="rotate(270)" x="0" y="-11.74" width="11.74" height="11.74" fill="#ff666a"/></g></g>
<g transform="translate(687,382.5)"><circle r="15" fill="rgba(40,50,65,0.1)"/><g stroke="#555" stroke-width="0.95" stroke-linejoin="miter"><path transform="rotate(180)" d="M0,0 L0,-11.74 A11.74,11.74 0 0 1 11.74,0 Z" fill="#aaaaaa"/></g></g>
<g transform="translate(1122,289)"><circle r="15" fill="rgba(40,50,65,0.1)"/><g stroke="#555" stroke-width="0.95" stroke-linejoin="miter"><path transform="rotate(180)" d="M0,0 L0,-11.74 A11.74,11.74 0 0 1 11.74,0 Z" fill="#aaaaaa"/></g></g>
<g transform="translate(1114,286)"><circle r="15" fill="rgba(40,50,65,0.1)"/><g stroke="#555" stroke-width="0.95" stroke-linejoin="miter"><rect transform="rotate(0)" x="0" y="-11.74" width="11.74" height="11.74" fill="#aaaaaa"/></g></g>
<g transform="translate(1144,262.5)"><circle r="15" fill="rgba(40,50,65,0.1)"/><g stroke="#555" stroke-width="0.95" stroke-linejoin="miter"><path transform="rotate(270)" d="M0,0 L0,-11.74 A11.74,11.74 0 0 1 11.74,0 Z" fill="#aaaaaa"/></g></g>
<g transform="translate(1140,255)"><circle r="15" fill="rgba(40,50,65,0.1)"/><g stroke="#555" stroke-width="0.95" stroke-linejoin="miter"><rect transform="rotate(0)" x="0" y="-11.74" width="11.74" height="11.74" fill="#aaaaaa"/></g></g>
<g transform="translate(1186,238.5)"><circle r="15" fill="rgba(40,50,65,0.1)"/><g stroke="#555" stroke-width="0.95" stroke-linejoin="miter"><path transform="rotate(180)" d="M0,0 L0,-11.74 A11.74,11.74 0 0 1 11.74,0 Z" fill="#aaaaaa"/></g></g>
<g transform="translate(1224.5,238.5)"><circle r="15" fill="rgba(40,50,65,0.1)"/><g stroke="#555" stroke-width="0.95" stroke-linejoin="miter"><rect transform="rotate(270)" x="0" y="-11.74" width="11.74" height="11.74" fill="#aaaaaa"/></g></g>
<g transform="translate(1262,238.5)"><circle r="15" fill="rgba(40,50,65,0.1)"/><g stroke="#555" stroke-width="0.95" stroke-linejoin="miter"><path transform="rotate(270)" d="M0,0 L0,-11.74 A11.74,11.74 0 0 1 11.74,0 Z" fill="#aaaaaa"/></g></g>
<g transform="translate(1311,238.3)"><circle r="15" fill="rgba(40,50,65,0.1)"/><g stroke="#555" stroke-width="0.95" stroke-linejoin="miter"><path transform="rotate(90)" d="M0,0 L0,-11.74 A11.74,11.74 0 0 1 11.74,0 Z" fill="#78ff66"/></g></g>
<g transform="translate(1324.4,243.3)"><circle r="15" fill="rgba(40,50,65,0.1)"/><g stroke="#555" stroke-width="0.95" stroke-linejoin="miter"><path transform="rotate(0)" d="M0,0 L0,-11.74 A11.74,11.74 0 0 1 11.74,0 Z" fill="#78ff66"/></g></g>
<g transform="translate(1335,270)"><circle r="15" fill="rgba(40,50,65,0.1)"/><g stroke="#555" stroke-width="0.95" stroke-linejoin="miter"><rect transform="rotate(0)" x="0" y="-11.74" width="11.74" height="11.74" fill="#ff666a"/></g></g>
<g transform="translate(1358.3,287.2)"><circle r="15" fill="rgba(40,50,65,0.1)"/><g stroke="#555" stroke-width="0.95" stroke-linejoin="miter"><path transform="rotate(90)" d="M0,0 L0,-11.74 A11.74,11.74 0 0 1 11.74,0 Z" fill="#fcf52a"/></g></g>
<g transform="translate(1409,282.5)"><circle r="15" fill="rgba(40,50,65,0.1)"/><g stroke="#555" stroke-width="0.95" stroke-linejoin="miter"><rect transform="rotate(90)" x="0" y="-11.74" width="11.74" height="11.74" fill="#ff666a"/></g></g>
<g transform="translate(1406,286)"><circle r="15" fill="rgba(40,50,65,0.1)"/><g stroke="#555" stroke-width="0.95" stroke-linejoin="miter"><path transform="rotate(0)" d="M0,0 L0,-11.74 A11.74,11.74 0 0 1 11.74,0 Z" fill="#78ff66"/></g></g>
<g transform="translate(1432,256)"><circle r="15" fill="rgba(40,50,65,0.1)"/><g stroke="#555" stroke-width="0.95" stroke-linejoin="miter"><path transform="rotate(0)" d="M0,0 L0,-11.74 A11.74,11.74 0 0 1 11.74,0 Z" fill="#78ff66"/></g></g>
<g transform="translate(1462,240)"><circle r="15" fill="rgba(40,50,65,0.1)"/><g stroke="#555" stroke-width="0.95" stroke-linejoin="miter"><path transform="rotate(270)" d="M0,0 L0,-11.74 A11.74,11.74 0 0 1 11.74,0 Z" fill="#66a7ff"/></g></g>
<g transform="translate(1546,190)"><circle r="15" fill="rgba(40,50,65,0.1)"/><g stroke="#555" stroke-width="0.95" stroke-linejoin="miter"><path transform="rotate(0)" d="M0,0 L0,-11.74 A11.74,11.74 0 0 1 11.74,0 Z" fill="#78ff66"/></g></g>
<g transform="translate(93,431.3)" fill="#ff666a" stroke="#5a5e68" stroke-width="1.05"><circle cx="4.3" cy="-3" r="4.4"/><circle cx="-3.4" cy="-3" r="5"/><circle cx="0" cy="2.8" r="5.3"/></g>
<g transform="translate(141,431.3)" fill="#ff666a" stroke="#5a5e68" stroke-width="1.05"><circle cx="4.3" cy="-3" r="4.4"/><circle cx="-3.4" cy="-3" r="5"/><circle cx="0" cy="2.8" r="5.3"/></g>
<g transform="translate(189,431.3)" fill="#ff666a" stroke="#5a5e68" stroke-width="1.05"><circle cx="4.3" cy="-3" r="4.4"/><circle cx="-3.4" cy="-3" r="5"/><circle cx="0" cy="2.8" r="5.3"/></g>
<g transform="translate(457,431.3)" fill="#ff666a" stroke="#5a5e68" stroke-width="1.05"><circle cx="4.3" cy="-3" r="4.4"/><circle cx="-3.4" cy="-3" r="5"/><circle cx="0" cy="2.8" r="5.3"/></g>
<g transform="translate(735,431.3)" fill="#ff666a" stroke="#5a5e68" stroke-width="1.05"><circle cx="4.3" cy="-3" r="4.4"/><circle cx="-3.4" cy="-3" r="5"/><circle cx="0" cy="2.8" r="5.3"/></g>
<g transform="translate(830,431.3)" fill="#ff666a" stroke="#5a5e68" stroke-width="1.05"><circle cx="4.3" cy="-3" r="4.4"/><circle cx="-3.4" cy="-3" r="5"/><circle cx="0" cy="2.8" r="5.3"/></g>
<g transform="translate(1022,431)" fill="#78ff66" stroke="#5a5e68" stroke-width="1.05"><circle cx="4.3" cy="-3" r="4.4"/><circle cx="-3.4" cy="-3" r="5"/><circle cx="0" cy="2.8" r="5.3"/></g>
<g transform="translate(38,507)" fill="#78ff66" stroke="#5a5e68" stroke-width="1.05"><circle cx="4.3" cy="-3" r="4.4"/><circle cx="-3.4" cy="-3" r="5"/><circle cx="0" cy="2.8" r="5.3"/></g>
<g transform="translate(206,527)" fill="#66a7ff" stroke="#5a5e68" stroke-width="1.05"><circle cx="4.3" cy="-3" r="4.4"/><circle cx="-3.4" cy="-3" r="5"/><circle cx="0" cy="2.8" r="5.3"/></g>
<g transform="translate(326,572)" fill="#ff666a" stroke="#5a5e68" stroke-width="1.05"><circle cx="4.3" cy="-3" r="4.4"/><circle cx="-3.4" cy="-3" r="5"/><circle cx="0" cy="2.8" r="5.3"/></g>
<g transform="translate(86,648)" fill="#66a7ff" stroke="#5a5e68" stroke-width="1.05"><circle cx="4.3" cy="-3" r="4.4"/><circle cx="-3.4" cy="-3" r="5"/><circle cx="0" cy="2.8" r="5.3"/></g>
<g transform="translate(86,695)" fill="#66a7ff" stroke="#5a5e68" stroke-width="1.05"><circle cx="4.3" cy="-3" r="4.4"/><circle cx="-3.4" cy="-3" r="5"/><circle cx="0" cy="2.8" r="5.3"/></g>
<g transform="translate(86,743)" fill="#66a7ff" stroke="#5a5e68" stroke-width="1.05"><circle cx="4.3" cy="-3" r="4.4"/><circle cx="-3.4" cy="-3" r="5"/><circle cx="0" cy="2.8" r="5.3"/></g>
<g transform="translate(86,972)" fill="#66a7ff" stroke="#5a5e68" stroke-width="1.05"><circle cx="4.3" cy="-3" r="4.4"/><circle cx="-3.4" cy="-3" r="5"/><circle cx="0" cy="2.8" r="5.3"/></g>
<g transform="translate(14,1007)" fill="#66a7ff" stroke="#5a5e68" stroke-width="1.05"><circle cx="4.3" cy="-3" r="4.4"/><circle cx="-3.4" cy="-3" r="5"/><circle cx="0" cy="2.8" r="5.3"/></g>
<g transform="translate(62,1007)" fill="#66a7ff" stroke="#5a5e68" stroke-width="1.05"><circle cx="4.3" cy="-3" r="4.4"/><circle cx="-3.4" cy="-3" r="5"/><circle cx="0" cy="2.8" r="5.3"/></g>
<g transform="translate(584,479.3)" fill="#78ff66" stroke="#5a5e68" stroke-width="1.05"><circle cx="4.3" cy="-3" r="4.4"/><circle cx="-3.4" cy="-3" r="5"/><circle cx="0" cy="2.8" r="5.3"/></g>
<g transform="translate(680,479.3)" fill="#78ff66" stroke="#5a5e68" stroke-width="1.05"><circle cx="4.3" cy="-3" r="4.4"/><circle cx="-3.4" cy="-3" r="5"/><circle cx="0" cy="2.8" r="5.3"/></g>
<g transform="translate(958,479.3)" fill="#78ff66" stroke="#5a5e68" stroke-width="1.05"><circle cx="4.3" cy="-3" r="4.4"/><circle cx="-3.4" cy="-3" r="5"/><circle cx="0" cy="2.8" r="5.3"/></g>
<g transform="translate(1118,479)" fill="#dd66ff" stroke="#5a5e68" stroke-width="1.05"><circle cx="4.3" cy="-3" r="4.4"/><circle cx="-3.4" cy="-3" r="5"/><circle cx="0" cy="2.8" r="5.3"/></g>
<g transform="translate(600,527)" fill="#66a7ff" stroke="#5a5e68" stroke-width="1.05"><circle cx="4.3" cy="-3" r="4.4"/><circle cx="-3.4" cy="-3" r="5"/><circle cx="0" cy="2.8" r="5.3"/></g>
<g transform="translate(614,620)" fill="#66a7ff" stroke="#5a5e68" stroke-width="1.05"><circle cx="4.3" cy="-3" r="4.4"/><circle cx="-3.4" cy="-3" r="5"/><circle cx="0" cy="2.8" r="5.3"/></g>
<g transform="translate(518,690)" fill="#78ff66" stroke="#5a5e68" stroke-width="1.05"><circle cx="4.3" cy="-3" r="4.4"/><circle cx="-3.4" cy="-3" r="5"/><circle cx="0" cy="2.8" r="5.3"/></g>
<g transform="translate(518,752)" fill="#78ff66" stroke="#5a5e68" stroke-width="1.05"><circle cx="4.3" cy="-3" r="4.4"/><circle cx="-3.4" cy="-3" r="5"/><circle cx="0" cy="2.8" r="5.3"/></g>
<g transform="translate(518,791)" fill="#78ff66" stroke="#5a5e68" stroke-width="1.05"><circle cx="4.3" cy="-3" r="4.4"/><circle cx="-3.4" cy="-3" r="5"/><circle cx="0" cy="2.8" r="5.3"/></g>
<g transform="translate(518,820)" fill="#78ff66" stroke="#5a5e68" stroke-width="1.05"><circle cx="4.3" cy="-3" r="4.4"/><circle cx="-3.4" cy="-3" r="5"/><circle cx="0" cy="2.8" r="5.3"/></g>
<g transform="translate(523,853)" fill="#78ff66" stroke="#5a5e68" stroke-width="1.05"><circle cx="4.3" cy="-3" r="4.4"/><circle cx="-3.4" cy="-3" r="5"/><circle cx="0" cy="2.8" r="5.3"/></g>
<g transform="translate(552,863)" fill="#78ff66" stroke="#5a5e68" stroke-width="1.05"><circle cx="4.3" cy="-3" r="4.4"/><circle cx="-3.4" cy="-3" r="5"/><circle cx="0" cy="2.8" r="5.3"/></g>
<g transform="translate(590,863)" fill="#78ff66" stroke="#5a5e68" stroke-width="1.05"><circle cx="4.3" cy="-3" r="4.4"/><circle cx="-3.4" cy="-3" r="5"/><circle cx="0" cy="2.8" r="5.3"/></g>
<g transform="translate(619,863)" fill="#78ff66" stroke="#5a5e68" stroke-width="1.05"><circle cx="4.3" cy="-3" r="4.4"/><circle cx="-3.4" cy="-3" r="5"/><circle cx="0" cy="2.8" r="5.3"/></g>
<g transform="translate(657,863)" fill="#78ff66" stroke="#5a5e68" stroke-width="1.05"><circle cx="4.3" cy="-3" r="4.4"/><circle cx="-3.4" cy="-3" r="5"/><circle cx="0" cy="2.8" r="5.3"/></g>
<g transform="translate(696,863)" fill="#78ff66" stroke="#5a5e68" stroke-width="1.05"><circle cx="4.3" cy="-3" r="4.4"/><circle cx="-3.4" cy="-3" r="5"/><circle cx="0" cy="2.8" r="5.3"/></g>
<g transform="translate(734,863)" fill="#78ff66" stroke="#5a5e68" stroke-width="1.05"><circle cx="4.3" cy="-3" r="4.4"/><circle cx="-3.4" cy="-3" r="5"/><circle cx="0" cy="2.8" r="5.3"/></g>
<g transform="translate(375,750)" fill="#ff666a" stroke="#5a5e68" stroke-width="1.05"><circle cx="4.3" cy="-3" r="4.4"/><circle cx="-3.4" cy="-3" r="5"/><circle cx="0" cy="2.8" r="5.3"/></g>
<g transform="translate(397,767)" fill="#ff666a" stroke="#5a5e68" stroke-width="1.05"><circle cx="4.3" cy="-3" r="4.4"/><circle cx="-3.4" cy="-3" r="5"/><circle cx="0" cy="2.8" r="5.3"/></g>
<g transform="translate(536,911)" fill="#78ff66" stroke="#5a5e68" stroke-width="1.05"><circle cx="4.3" cy="-3" r="4.4"/><circle cx="-3.4" cy="-3" r="5"/><circle cx="0" cy="2.8" r="5.3"/></g>
<g transform="translate(734,911)" fill="#78ff66" stroke="#5a5e68" stroke-width="1.05"><circle cx="4.3" cy="-3" r="4.4"/><circle cx="-3.4" cy="-3" r="5"/><circle cx="0" cy="2.8" r="5.3"/></g>
<g transform="translate(326,935)" fill="#ff666a" stroke="#5a5e68" stroke-width="1.05"><circle cx="4.3" cy="-3" r="4.4"/><circle cx="-3.4" cy="-3" r="5"/><circle cx="0" cy="2.8" r="5.3"/></g>
<g transform="translate(686,959)" fill="#ff666a" stroke="#5a5e68" stroke-width="1.05"><circle cx="4.3" cy="-3" r="4.4"/><circle cx="-3.4" cy="-3" r="5"/><circle cx="0" cy="2.8" r="5.3"/></g>
<g transform="translate(696,767)" fill="#ff666a" stroke="#5a5e68" stroke-width="1.05"><circle cx="4.3" cy="-3" r="4.4"/><circle cx="-3.4" cy="-3" r="5"/><circle cx="0" cy="2.8" r="5.3"/></g>
<g transform="translate(734,767)" fill="#ff666a" stroke="#5a5e68" stroke-width="1.05"><circle cx="4.3" cy="-3" r="4.4"/><circle cx="-3.4" cy="-3" r="5"/><circle cx="0" cy="2.8" r="5.3"/></g>
<g transform="translate(854,760)" fill="#87fff5" stroke="#5a5e68" stroke-width="1.05"><circle cx="4.3" cy="-3" r="4.4"/><circle cx="-3.4" cy="-3" r="5"/><circle cx="0" cy="2.8" r="5.3"/></g>
<g transform="translate(947,671)" fill="#fcf52a" stroke="#5a5e68" stroke-width="1.05"><circle cx="4.3" cy="-3" r="4.4"/><circle cx="-3.4" cy="-3" r="5"/><circle cx="0" cy="2.8" r="5.3"/></g>
<g transform="translate(1022,671)" fill="#87fff5" stroke="#5a5e68" stroke-width="1.05"><circle cx="4.3" cy="-3" r="4.4"/><circle cx="-3.4" cy="-3" r="5"/><circle cx="0" cy="2.8" r="5.3"/></g>
<g transform="translate(1118,623)" fill="#fcf52a" stroke="#5a5e68" stroke-width="1.05"><circle cx="4.3" cy="-3" r="4.4"/><circle cx="-3.4" cy="-3" r="5"/><circle cx="0" cy="2.8" r="5.3"/></g>
<g transform="translate(1215,527)" fill="#dd66ff" stroke="#5a5e68" stroke-width="1.05"><circle cx="4.3" cy="-3" r="4.4"/><circle cx="-3.4" cy="-3" r="5"/><circle cx="0" cy="2.8" r="5.3"/></g>
<g transform="translate(1212,575)" fill="#66a7ff" stroke="#5a5e68" stroke-width="1.05"><circle cx="4.3" cy="-3" r="4.4"/><circle cx="-3.4" cy="-3" r="5"/><circle cx="0" cy="2.8" r="5.3"/></g>
<g transform="translate(1229,570)" fill="#fcf52a" stroke="#5a5e68" stroke-width="1.05"><circle cx="4.3" cy="-3" r="4.4"/><circle cx="-3.4" cy="-3" r="5"/><circle cx="0" cy="2.8" r="5.3"/></g>
<g transform="translate(1238,540)" fill="#78ff66" stroke="#5a5e68" stroke-width="1.05"><circle cx="4.3" cy="-3" r="4.4"/><circle cx="-3.4" cy="-3" r="5"/><circle cx="0" cy="2.8" r="5.3"/></g>
<g transform="translate(1238,503)" fill="#ff666a" stroke="#5a5e68" stroke-width="1.05"><circle cx="4.3" cy="-3" r="4.4"/><circle cx="-3.4" cy="-3" r="5"/><circle cx="0" cy="2.8" r="5.3"/></g>
<g transform="translate(1239.5,406.5)" fill="#66a7ff" stroke="#5a5e68" stroke-width="1.05"><circle cx="4.3" cy="-3" r="4.4"/><circle cx="-3.4" cy="-3" r="5"/><circle cx="0" cy="2.8" r="5.3"/></g>
<g transform="translate(1240,397.5)" fill="#fcf52a" stroke="#5a5e68" stroke-width="1.05"><circle cx="4.3" cy="-3" r="4.4"/><circle cx="-3.4" cy="-3" r="5"/><circle cx="0" cy="2.8" r="5.3"/></g>
<g transform="translate(1261.5,382.5)" fill="#87fff5" stroke="#5a5e68" stroke-width="1.05"><circle cx="4.3" cy="-3" r="4.4"/><circle cx="-3.4" cy="-3" r="5"/><circle cx="0" cy="2.8" r="5.3"/></g>
<g transform="translate(1190,410)" fill="#ff666a" stroke="#5a5e68" stroke-width="1.05"><circle cx="4.3" cy="-3" r="4.4"/><circle cx="-3.4" cy="-3" r="5"/><circle cx="0" cy="2.8" r="5.3"/></g>
<g transform="translate(1003,153)" fill="#ff666a" stroke="#5a5e68" stroke-width="1.05"><circle cx="4.3" cy="-3" r="4.4"/><circle cx="-3.4" cy="-3" r="5"/><circle cx="0" cy="2.8" r="5.3"/></g>
<g transform="translate(1041,144)" fill="#78ff66" stroke="#5a5e68" stroke-width="1.05"><circle cx="4.3" cy="-3" r="4.4"/><circle cx="-3.4" cy="-3" r="5"/><circle cx="0" cy="2.8" r="5.3"/></g>
<g transform="translate(1079,144)" fill="#dd66ff" stroke="#5a5e68" stroke-width="1.05"><circle cx="4.3" cy="-3" r="4.4"/><circle cx="-3.4" cy="-3" r="5"/><circle cx="0" cy="2.8" r="5.3"/></g>
<g transform="translate(1118,144)" fill="#66a7ff" stroke="#5a5e68" stroke-width="1.05"><circle cx="4.3" cy="-3" r="4.4"/><circle cx="-3.4" cy="-3" r="5"/><circle cx="0" cy="2.8" r="5.3"/></g>
<g transform="translate(1157,144)" fill="#78ff66" stroke="#5a5e68" stroke-width="1.05"><circle cx="4.3" cy="-3" r="4.4"/><circle cx="-3.4" cy="-3" r="5"/><circle cx="0" cy="2.8" r="5.3"/></g>
<g transform="translate(1186,153)" fill="#ff666a" stroke="#5a5e68" stroke-width="1.05"><circle cx="4.3" cy="-3" r="4.4"/><circle cx="-3.4" cy="-3" r="5"/><circle cx="0" cy="2.8" r="5.3"/></g>
<g transform="translate(998,196)" fill="#ff666a" stroke="#5a5e68" stroke-width="1.05"><circle cx="4.3" cy="-3" r="4.4"/><circle cx="-3.4" cy="-3" r="5"/><circle cx="0" cy="2.8" r="5.3"/></g>
<g transform="translate(998,234)" fill="#66a7ff" stroke="#5a5e68" stroke-width="1.05"><circle cx="4.3" cy="-3" r="4.4"/><circle cx="-3.4" cy="-3" r="5"/><circle cx="0" cy="2.8" r="5.3"/></g>
<g transform="translate(999,271)" fill="#fcf52a" stroke="#5a5e68" stroke-width="1.05"><circle cx="4.3" cy="-3" r="4.4"/><circle cx="-3.4" cy="-3" r="5"/><circle cx="0" cy="2.8" r="5.3"/></g>
<g transform="translate(1022,286)" fill="#78ff66" stroke="#5a5e68" stroke-width="1.05"><circle cx="4.3" cy="-3" r="4.4"/><circle cx="-3.4" cy="-3" r="5"/><circle cx="0" cy="2.8" r="5.3"/></g>
<g transform="translate(1219,286)" fill="#78ff66" stroke="#5a5e68" stroke-width="1.05"><circle cx="4.3" cy="-3" r="4.4"/><circle cx="-3.4" cy="-3" r="5"/><circle cx="0" cy="2.8" r="5.3"/></g>
<g transform="translate(1226,287)" fill="#87fff5" stroke="#5a5e68" stroke-width="1.05"><circle cx="4.3" cy="-3" r="4.4"/><circle cx="-3.4" cy="-3" r="5"/><circle cx="0" cy="2.8" r="5.3"/></g>
<g transform="translate(1263,286.3)" fill="#66a7ff" stroke="#5a5e68" stroke-width="1.05"><circle cx="4.3" cy="-3" r="4.4"/><circle cx="-3.4" cy="-3" r="5"/><circle cx="0" cy="2.8" r="5.3"/></g>
<g transform="translate(1670.4,407.4)"><circle r="15" fill="rgba(40,50,65,0.1)"/><g stroke="#555" stroke-width="0.95" stroke-linejoin="miter"><path transform="rotate(0)" d="M0,0 L0,-11.74 A11.74,11.74 0 0 1 11.74,0 Z" fill="#66a7ff"/><path transform="rotate(90)" d="M0,0 L0,-11.74 A11.74,11.74 0 0 1 11.74,0 Z" fill="#ff666a"/><path transform="rotate(180)" d="M0,0 L0,-11.74 A11.74,11.74 0 0 1 11.74,0 Z" fill="#dd66ff"/><path transform="rotate(270)" d="M0,0 L0,-11.74 A11.74,11.74 0 0 1 11.74,0 Z" fill="#78ff66"/><path transform="rotate(0)" d="M0,0 L0,-8.87 A8.87,8.87 0 0 1 8.87,0 Z" fill="#87fff5"/><path transform="rotate(90)" d="M0,0 L0,-8.87 A8.87,8.87 0 0 1 8.87,0 Z" fill="#ff666a"/><path transform="rotate(180)" d="M0,0 L0,-8.87 A8.87,8.87 0 0 1 8.87,0 Z" fill="#ff666a"/><path transform="rotate(270)" d="M0,0 L0,-8.87 A8.87,8.87 0 0 1 8.87,0 Z" fill="#87fff5"/></g></g>
<g transform="translate(1670.4,435.1)"><circle r="15" fill="rgba(40,50,65,0.1)"/><g stroke="#555" stroke-width="0.95" stroke-linejoin="miter"><rect transform="rotate(0)" x="0" y="-11.74" width="11.74" height="11.74" fill="#fcf52a"/><path transform="rotate(90)" d="M0,0 L0,-11.74 A11.74,11.74 0 0 1 11.74,0 Z" fill="#ff666a"/><path transform="rotate(180)" d="M0,0 L0,-11.74 A11.74,11.74 0 0 1 11.74,0 Z" fill="#78ff66"/><path transform="rotate(270)" d="M0,0 L0,-11.74 A11.74,11.74 0 0 1 11.74,0 Z" fill="#ff666a"/><path transform="rotate(90)" d="M0,0 L0,-8.87 A8.87,8.87 0 0 1 8.87,0 Z" fill="#66a7ff"/><path transform="rotate(180)" d="M0,0 L0,-8.87 A8.87,8.87 0 0 1 8.87,0 Z" fill="#87fff5"/><rect transform="rotate(270)" x="0" y="-8.87" width="8.87" height="8.87" fill="#66a7ff"/><rect transform="rotate(90)" x="0" y="-6.00" width="6.00" height="6.00" fill="#fcf52a"/></g></g>
<g transform="translate(1670.4,473.3)"><circle r="15" fill="rgba(40,50,65,0.1)"/><g stroke="#555" stroke-width="0.95" stroke-linejoin="miter"><path transform="rotate(0)" d="M0,0 L0,-11.74 A11.74,11.74 0 0 1 11.74,0 Z" fill="#87fff5"/><path transform="rotate(90)" d="M0,0 L0,-11.74 A11.74,11.74 0 0 1 11.74,0 Z" fill="#66a7ff"/><path transform="rotate(180)" d="M0,0 L0,-11.74 A11.74,11.74 0 0 1 11.74,0 Z" fill="#78ff66"/><path transform="rotate(270)" d="M0,0 L0,-11.74 A11.74,11.74 0 0 1 11.74,0 Z" fill="#fcf52a"/><path transform="rotate(0)" d="M0,0 L0,-8.87 A8.87,8.87 0 0 1 8.87,0 Z" fill="#87fff5"/><path transform="rotate(90)" d="M0,0 L0,-8.87 A8.87,8.87 0 0 1 8.87,0 Z" fill="#dd66ff"/><path transform="rotate(180)" d="M0,0 L0,-8.87 A8.87,8.87 0 0 1 8.87,0 Z" fill="#78ff66"/><rect transform="rotate(270)" x="0" y="-8.87" width="8.87" height="8.87" fill="#78ff66"/><rect transform="rotate(0)" x="0" y="-6.00" width="6.00" height="6.00" fill="#66a7ff"/><path transform="rotate(90)" d="M0,0 L0,-6.00 A6.00,6.00 0 0 1 6.00,0 Z" fill="#dd66ff"/><path transform="rotate(270)" d="M0,0 L0,-6.00 A6.00,6.00 0 0 1 6.00,0 Z" fill="#ff666a"/></g></g>
<g transform="translate(1670.4,511.9)"><circle r="15" fill="rgba(40,50,65,0.1)"/><g stroke="#555" stroke-width="0.95" stroke-linejoin="miter"><rect transform="rotate(0)" x="0" y="-11.74" width="11.74" height="11.74" fill="#fcf52a"/><path transform="rotate(90)" d="M0,0 L0,-11.74 A11.74,11.74 0 0 1 11.74,0 Z" fill="#dd66ff"/><path transform="rotate(180)" d="M0,0 L0,-11.74 A11.74,11.74 0 0 1 11.74,0 Z" fill="#66a7ff"/><rect transform="rotate(270)" x="0" y="-11.74" width="11.74" height="11.74" fill="#78ff66"/><rect transform="rotate(0)" x="0" y="-8.87" width="8.87" height="8.87" fill="#fcf52a"/><rect transform="rotate(90)" x="0" y="-8.87" width="8.87" height="8.87" fill="#ff666a"/><rect transform="rotate(180)" x="0" y="-8.87" width="8.87" height="8.87" fill="#ff666a"/><rect transform="rotate(270)" x="0" y="-8.87" width="8.87" height="8.87" fill="#66a7ff"/><path transform="rotate(270)" d="M0,0 L0,-6.00 A6.00,6.00 0 0 1 6.00,0 Z" fill="#78ff66"/></g></g>
<g transform="translate(1670.6,549.4)"><circle r="15" fill="rgba(40,50,65,0.1)"/><g stroke="#555" stroke-width="0.95" stroke-linejoin="miter"><rect transform="rotate(0)" x="0" y="-11.74" width="11.74" height="11.74" fill="#78ff66"/><path transform="rotate(90)" d="M0,0 L0,-11.74 A11.74,11.74 0 0 1 11.74,0 Z" fill="#fcf52a"/><path transform="rotate(180)" d="M0,0 L0,-11.74 A11.74,11.74 0 0 1 11.74,0 Z" fill="#66a7ff"/><path transform="rotate(90)" d="M0,0 L0,-8.87 A8.87,8.87 0 0 1 8.87,0 Z" fill="#78ff66"/><rect transform="rotate(180)" x="0" y="-8.87" width="8.87" height="8.87" fill="#66a7ff"/><rect transform="rotate(270)" x="0" y="-8.87" width="8.87" height="8.87" fill="#dd66ff"/><path transform="rotate(0)" d="M0,0 L0,-6.00 A6.00,6.00 0 0 1 6.00,0 Z" fill="#ff666a"/></g></g>
<g transform="translate(1670.6,579.3)"><circle r="15" fill="rgba(40,50,65,0.1)"/><g stroke="#555" stroke-width="0.95" stroke-linejoin="miter"><rect transform="rotate(0)" x="0" y="-11.74" width="11.74" height="11.74" fill="#dd66ff"/><rect transform="rotate(90)" x="0" y="-11.74" width="11.74" height="11.74" fill="#fcf52a"/><rect transform="rotate(180)" x="0" y="-11.74" width="11.74" height="11.74" fill="#78ff66"/><path transform="rotate(270)" d="M0,0 L0,-11.74 A11.74,11.74 0 0 1 11.74,0 Z" fill="#dd66ff"/><path transform="rotate(0)" d="M0,0 L0,-8.87 A8.87,8.87 0 0 1 8.87,0 Z" fill="#78ff66"/><path transform="rotate(90)" d="M0,0 L0,-8.87 A8.87,8.87 0 0 1 8.87,0 Z" fill="#66a7ff"/><rect transform="rotate(180)" x="0" y="-8.87" width="8.87" height="8.87" fill="#66a7ff"/><path transform="rotate(270)" d="M0,0 L0,-8.87 A8.87,8.87 0 0 1 8.87,0 Z" fill="#dd66ff"/><path transform="rotate(180)" d="M0,0 L0,-6.00 A6.00,6.00 0 0 1 6.00,0 Z" fill="#78ff66"/></g></g>
<g transform="translate(1670.6,617.5)"><circle r="15" fill="rgba(40,50,65,0.1)"/><g stroke="#555" stroke-width="0.95" stroke-linejoin="miter"><rect transform="rotate(0)" x="0" y="-11.74" width="11.74" height="11.74" fill="#66a7ff"/><rect transform="rotate(90)" x="0" y="-11.74" width="11.74" height="11.74" fill="#fcf52a"/><rect transform="rotate(0)" x="0" y="-8.87" width="8.87" height="8.87" fill="#dd66ff"/><rect transform="rotate(90)" x="0" y="-8.87" width="8.87" height="8.87" fill="#fcf52a"/><rect transform="rotate(180)" x="0" y="-8.87" width="8.87" height="8.87" fill="#78ff66"/><path transform="rotate(270)" d="M0,0 L0,-8.87 A8.87,8.87 0 0 1 8.87,0 Z" fill="#87fff5"/><path transform="rotate(0)" d="M0,0 L0,-6.00 A6.00,6.00 0 0 1 6.00,0 Z" fill="#ff666a"/><path transform="rotate(90)" d="M0,0 L0,-6.00 A6.00,6.00 0 0 1 6.00,0 Z" fill="#78ff66"/><path transform="rotate(180)" d="M0,0 L0,-6.00 A6.00,6.00 0 0 1 6.00,0 Z" fill="#dd66ff"/></g></g>
<g transform="translate(1670.6,655.7)"><circle r="15" fill="rgba(40,50,65,0.1)"/><g stroke="#555" stroke-width="0.95" stroke-linejoin="miter"><rect transform="rotate(0)" x="0" y="-11.74" width="11.74" height="11.74" fill="#ff666a"/><path transform="rotate(90)" d="M0,0 L0,-11.74 A11.74,11.74 0 0 1 11.74,0 Z" fill="#ff666a"/><path transform="rotate(180)" d="M0,0 L0,-11.74 A11.74,11.74 0 0 1 11.74,0 Z" fill="#78ff66"/><path transform="rotate(270)" d="M0,0 L0,-11.74 A11.74,11.74 0 0 1 11.74,0 Z" fill="#66a7ff"/><rect transform="rotate(0)" x="0" y="-8.87" width="8.87" height="8.87" fill="#ff666a"/><path transform="rotate(90)" d="M0,0 L0,-8.87 A8.87,8.87 0 0 1 8.87,0 Z" fill="#ff666a"/><path transform="rotate(180)" d="M0,0 L0,-8.87 A8.87,8.87 0 0 1 8.87,0 Z" fill="#78ff66"/><path transform="rotate(270)" d="M0,0 L0,-8.87 A8.87,8.87 0 0 1 8.87,0 Z" fill="#66a7ff"/><path transform="rotate(0)" d="M0,0 L0,-6.00 A6.00,6.00 0 0 1 6.00,0 Z" fill="#66a7ff"/><rect transform="rotate(270)" x="0" y="-6.00" width="6.00" height="6.00" fill="#87fff5"/></g></g>
<g transform="translate(1670.5,694.5)"><circle r="15" fill="rgba(40,50,65,0.1)"/><g stroke="#555" stroke-width="0.95" stroke-linejoin="miter"><path transform="rotate(0)" d="M0,0 L0,-11.74 A11.74,11.74 0 0 1 11.74,0 Z" fill="#ff666a"/><rect transform="rotate(0)" x="0" y="-8.87" width="8.87" height="8.87" fill="#ff666a"/><rect transform="rotate(90)" x="0" y="-8.87" width="8.87" height="8.87" fill="#78ff66"/><rect transform="rotate(180)" x="0" y="-8.87" width="8.87" height="8.87" fill="#dd66ff"/><path transform="rotate(270)" d="M0,0 L0,-8.87 A8.87,8.87 0 0 1 8.87,0 Z" fill="#ff666a"/><rect transform="rotate(0)" x="0" y="-6.00" width="6.00" height="6.00" fill="#fcf52a"/></g></g>
<g transform="translate(1670.5,722.5)"><circle r="15" fill="rgba(40,50,65,0.1)"/><g stroke="#555" stroke-width="0.95" stroke-linejoin="miter"><path transform="rotate(0)" d="M0,0 L0,-11.74 A11.74,11.74 0 0 1 11.74,0 Z" fill="#ff666a"/><rect transform="rotate(180)" x="0" y="-11.74" width="11.74" height="11.74" fill="#dd66ff"/><path transform="rotate(270)" d="M0,0 L0,-11.74 A11.74,11.74 0 0 1 11.74,0 Z" fill="#ff666a"/><path transform="rotate(0)" d="M0,0 L0,-8.87 A8.87,8.87 0 0 1 8.87,0 Z" fill="#87fff5"/><path transform="rotate(90)" d="M0,0 L0,-8.87 A8.87,8.87 0 0 1 8.87,0 Z" fill="#87fff5"/><path transform="rotate(180)" d="M0,0 L0,-8.87 A8.87,8.87 0 0 1 8.87,0 Z" fill="#87fff5"/><path transform="rotate(270)" d="M0,0 L0,-8.87 A8.87,8.87 0 0 1 8.87,0 Z" fill="#ff666a"/><path transform="rotate(0)" d="M0,0 L0,-6.00 A6.00,6.00 0 0 1 6.00,0 Z" fill="#87fff5"/><path transform="rotate(90)" d="M0,0 L0,-6.00 A6.00,6.00 0 0 1 6.00,0 Z" fill="#66a7ff"/><path transform="rotate(180)" d="M0,0 L0,-6.00 A6.00,6.00 0 0 1 6.00,0 Z" fill="#78ff66"/><path transform="rotate(270)" d="M0,0 L0,-6.00 A6.00,6.00 0 0 1 6.00,0 Z" fill="#fcf52a"/></g></g>
<g transform="translate(1670.5,762.5)"><circle r="15" fill="rgba(40,50,65,0.1)"/><g stroke="#555" stroke-width="0.95" stroke-linejoin="miter"><path transform="rotate(0)" d="M0,0 L0,-11.74 A11.74,11.74 0 0 1 11.74,0 Z" fill="#87fff5"/><rect transform="rotate(90)" x="0" y="-11.74" width="11.74" height="11.74" fill="#ff666a"/><rect transform="rotate(180)" x="0" y="-11.74" width="11.74" height="11.74" fill="#ff666a"/><path transform="rotate(270)" d="M0,0 L0,-11.74 A11.74,11.74 0 0 1 11.74,0 Z" fill="#dd66ff"/><rect transform="rotate(0)" x="0" y="-8.87" width="8.87" height="8.87" fill="#fcf52a"/><rect transform="rotate(90)" x="0" y="-8.87" width="8.87" height="8.87" fill="#ff666a"/><path transform="rotate(180)" d="M0,0 L0,-8.87 A8.87,8.87 0 0 1 8.87,0 Z" fill="#78ff66"/><path transform="rotate(270)" d="M0,0 L0,-8.87 A8.87,8.87 0 0 1 8.87,0 Z" fill="#dd66ff"/><path transform="rotate(180)" d="M0,0 L0,-6.00 A6.00,6.00 0 0 1 6.00,0 Z" fill="#66a7ff"/></g></g>
<g transform="translate(1670.5,800)"><circle r="15" fill="rgba(40,50,65,0.1)"/><g stroke="#555" stroke-width="0.95" stroke-linejoin="miter"><path transform="rotate(0)" d="M0,0 L0,-11.74 A11.74,11.74 0 0 1 11.74,0 Z" fill="#ff666a"/><path transform="rotate(90)" d="M0,0 L0,-11.74 A11.74,11.74 0 0 1 11.74,0 Z" fill="#66a7ff"/><path transform="rotate(180)" d="M0,0 L0,-11.74 A11.74,11.74 0 0 1 11.74,0 Z" fill="#78ff66"/><path transform="rotate(270)" d="M0,0 L0,-11.74 A11.74,11.74 0 0 1 11.74,0 Z" fill="#87fff5"/><rect transform="rotate(0)" x="0" y="-8.87" width="8.87" height="8.87" fill="#78ff66"/><path transform="rotate(90)" d="M0,0 L0,-8.87 A8.87,8.87 0 0 1 8.87,0 Z" fill="#66a7ff"/><path transform="rotate(180)" d="M0,0 L0,-8.87 A8.87,8.87 0 0 1 8.87,0 Z" fill="#66a7ff"/><path transform="rotate(270)" d="M0,0 L0,-8.87 A8.87,8.87 0 0 1 8.87,0 Z" fill="#87fff5"/><path transform="rotate(90)" d="M0,0 L0,-6.00 A6.00,6.00 0 0 1 6.00,0 Z" fill="#fcf52a"/><rect transform="rotate(180)" x="0" y="-6.00" width="6.00" height="6.00" fill="#66a7ff"/></g></g>
<g transform="translate(1670.5,835)"><circle r="15" fill="rgba(40,50,65,0.1)"/><g stroke="#555" stroke-width="0.95" stroke-linejoin="miter"><rect transform="rotate(90)" x="0" y="-11.74" width="11.74" height="11.74" fill="#66a7ff"/><path transform="rotate(270)" d="M0,0 L0,-11.74 A11.74,11.74 0 0 1 11.74,0 Z" fill="#ff666a"/><path transform="rotate(0)" d="M0,0 L0,-8.87 A8.87,8.87 0 0 1 8.87,0 Z" fill="#66a7ff"/><path transform="rotate(90)" d="M0,0 L0,-8.87 A8.87,8.87 0 0 1 8.87,0 Z" fill="#66a7ff"/><rect transform="rotate(180)" x="0" y="-8.87" width="8.87" height="8.87" fill="#78ff66"/><path transform="rotate(270)" d="M0,0 L0,-8.87 A8.87,8.87 0 0 1 8.87,0 Z" fill="#78ff66"/><rect transform="rotate(0)" x="0" y="-6.00" width="6.00" height="6.00" fill="#dd66ff"/><rect transform="rotate(90)" x="0" y="-6.00" width="6.00" height="6.00" fill="#fcf52a"/><rect transform="rotate(180)" x="0" y="-6.00" width="6.00" height="6.00" fill="#78ff66"/></g></g>
<g transform="translate(1668,898)"><circle r="15" fill="rgba(40,50,65,0.1)"/><g stroke="#555" stroke-width="0.95" stroke-linejoin="miter"><rect transform="rotate(90)" x="0" y="-11.74" width="11.74" height="11.74" fill="#78ff66"/><rect transform="rotate(180)" x="0" y="-11.74" width="11.74" height="11.74" fill="#66a7ff"/><rect transform="rotate(180)" x="0" y="-8.87" width="8.87" height="8.87" fill="#66a7ff"/></g></g>
<g transform="translate(1670,887)"><circle r="15" fill="rgba(40,50,65,0.1)"/><g stroke="#555" stroke-width="0.95" stroke-linejoin="miter"><path transform="rotate(0)" d="M0,0 L0,-11.74 A11.74,11.74 0 0 1 11.74,0 Z" fill="#87fff5"/><path transform="rotate(90)" d="M0,0 L0,-11.74 A11.74,11.74 0 0 1 11.74,0 Z" fill="#ff666a"/><path transform="rotate(180)" d="M0,0 L0,-11.74 A11.74,11.74 0 0 1 11.74,0 Z" fill="#ff666a"/><path transform="rotate(270)" d="M0,0 L0,-11.74 A11.74,11.74 0 0 1 11.74,0 Z" fill="#87fff5"/><path transform="rotate(0)" d="M0,0 L0,-8.87 A8.87,8.87 0 0 1 8.87,0 Z" fill="#78ff66"/><path transform="rotate(90)" d="M0,0 L0,-8.87 A8.87,8.87 0 0 1 8.87,0 Z" fill="#ff666a"/><path transform="rotate(180)" d="M0,0 L0,-8.87 A8.87,8.87 0 0 1 8.87,0 Z" fill="#dd66ff"/><path transform="rotate(270)" d="M0,0 L0,-8.87 A8.87,8.87 0 0 1 8.87,0 Z" fill="#dd66ff"/></g></g>
<g transform="translate(1670.7,934)"><circle r="15" fill="rgba(40,50,65,0.1)"/><g stroke="#555" stroke-width="0.95" stroke-linejoin="miter"><rect transform="rotate(0)" x="0" y="-11.74" width="11.74" height="11.74" fill="#fcf52a"/><path transform="rotate(90)" d="M0,0 L0,-11.74 A11.74,11.74 0 0 1 11.74,0 Z" fill="#ff666a"/><path transform="rotate(180)" d="M0,0 L0,-11.74 A11.74,11.74 0 0 1 11.74,0 Z" fill="#78ff66"/><path transform="rotate(270)" d="M0,0 L0,-11.74 A11.74,11.74 0 0 1 11.74,0 Z" fill="#ff666a"/><path transform="rotate(90)" d="M0,0 L0,-8.87 A8.87,8.87 0 0 1 8.87,0 Z" fill="#66a7ff"/><path transform="rotate(180)" d="M0,0 L0,-8.87 A8.87,8.87 0 0 1 8.87,0 Z" fill="#87fff5"/><rect transform="rotate(270)" x="0" y="-8.87" width="8.87" height="8.87" fill="#66a7ff"/><rect transform="rotate(90)" x="0" y="-6.00" width="6.00" height="6.00" fill="#fcf52a"/></g></g>
<g transform="translate(1670.7,963.3)"><circle r="15" fill="rgba(40,50,65,0.1)"/><g stroke="#555" stroke-width="0.95" stroke-linejoin="miter"><rect transform="rotate(0)" x="0" y="-11.74" width="11.74" height="11.74" fill="#fcf52a"/><rect transform="rotate(90)" x="0" y="-11.74" width="11.74" height="11.74" fill="#66a7ff"/><rect transform="rotate(180)" x="0" y="-11.74" width="11.74" height="11.74" fill="#78ff66"/><rect transform="rotate(270)" x="0" y="-11.74" width="11.74" height="11.74" fill="#66a7ff"/><path transform="rotate(0)" d="M0,0 L0,-8.87 A8.87,8.87 0 0 1 8.87,0 Z" fill="#ff666a"/><rect transform="rotate(90)" x="0" y="-8.87" width="8.87" height="8.87" fill="#fcf52a"/><rect transform="rotate(180)" x="0" y="-8.87" width="8.87" height="8.87" fill="#dd66ff"/><rect transform="rotate(270)" x="0" y="-8.87" width="8.87" height="8.87" fill="#66a7ff"/></g></g>
<g transform="translate(1675,996.7)"><circle r="15" fill="rgba(40,50,65,0.1)"/><g stroke="#555" stroke-width="0.95" stroke-linejoin="miter"><path transform="rotate(0)" d="M0,0 L0,-11.74 A11.74,11.74 0 0 1 11.74,0 Z" fill="#87fff5"/><path transform="rotate(90)" d="M0,0 L0,-11.74 A11.74,11.74 0 0 1 11.74,0 Z" fill="#78ff66"/><path transform="rotate(180)" d="M0,0 L0,-11.74 A11.74,11.74 0 0 1 11.74,0 Z" fill="#78ff66"/><path transform="rotate(270)" d="M0,0 L0,-11.74 A11.74,11.74 0 0 1 11.74,0 Z" fill="#78ff66"/><rect transform="rotate(0)" x="0" y="-8.87" width="8.87" height="8.87" fill="#66a7ff"/><rect transform="rotate(90)" x="0" y="-8.87" width="8.87" height="8.87" fill="#dd66ff"/><rect transform="rotate(180)" x="0" y="-8.87" width="8.87" height="8.87" fill="#ff666a"/><rect transform="rotate(270)" x="0" y="-8.87" width="8.87" height="8.87" fill="#fcf52a"/></g></g>
<g transform="translate(1623,452)"><circle r="15" fill="rgba(40,50,65,0.1)"/><g stroke="#555" stroke-width="0.95" stroke-linejoin="miter"><path transform="rotate(0)" d="M0,0 L0,-11.74 A11.74,11.74 0 0 1 11.74,0 Z" fill="#ff666a"/><path transform="rotate(90)" d="M0,0 L0,-11.74 A11.74,11.74 0 0 1 11.74,0 Z" fill="#ff666a"/><path transform="rotate(180)" d="M0,0 L0,-11.74 A11.74,11.74 0 0 1 11.74,0 Z" fill="#78ff66"/><path transform="rotate(270)" d="M0,0 L0,-11.74 A11.74,11.74 0 0 1 11.74,0 Z" fill="#78ff66"/><path transform="rotate(0)" d="M0,0 L0,-8.87 A8.87,8.87 0 0 1 8.87,0 Z" fill="#ff666a"/><path transform="rotate(90)" d="M0,0 L0,-8.87 A8.87,8.87 0 0 1 8.87,0 Z" fill="#ff666a"/><path transform="rotate(180)" d="M0,0 L0,-8.87 A8.87,8.87 0 0 1 8.87,0 Z" fill="#78ff66"/><path transform="rotate(270)" d="M0,0 L0,-8.87 A8.87,8.87 0 0 1 8.87,0 Z" fill="#78ff66"/></g></g>
<g transform="translate(1623,467)"><circle r="15" fill="rgba(40,50,65,0.1)"/><g stroke="#555" stroke-width="0.95" stroke-linejoin="miter"><path transform="rotate(0)" d="M0,0 L0,-11.74 A11.74,11.74 0 0 1 11.74,0 Z" fill="#ff666a"/><rect transform="rotate(90)" x="0" y="-11.74" width="11.74" height="11.74" fill="#78ff66"/><rect transform="rotate(180)" x="0" y="-11.74" width="11.74" height="11.74" fill="#dd66ff"/><path transform="rotate(270)" d="M0,0 L0,-11.74 A11.74,11.74 0 0 1 11.74,0 Z" fill="#87fff5"/></g></g>
<g transform="translate(1622.2,503)"><circle r="15" fill="rgba(40,50,65,0.1)"/><g stroke="#555" stroke-width="0.95" stroke-linejoin="miter"><path transform="rotate(0)" d="M0,0 L0,-11.74 A11.74,11.74 0 0 1 11.74,0 Z" fill="#ff666a"/><rect transform="rotate(180)" x="0" y="-11.74" width="11.74" height="11.74" fill="#dd66ff"/><path transform="rotate(270)" d="M0,0 L0,-11.74 A11.74,11.74 0 0 1 11.74,0 Z" fill="#ff666a"/><path transform="rotate(0)" d="M0,0 L0,-8.87 A8.87,8.87 0 0 1 8.87,0 Z" fill="#87fff5"/><path transform="rotate(90)" d="M0,0 L0,-8.87 A8.87,8.87 0 0 1 8.87,0 Z" fill="#87fff5"/><path transform="rotate(180)" d="M0,0 L0,-8.87 A8.87,8.87 0 0 1 8.87,0 Z" fill="#87fff5"/><path transform="rotate(270)" d="M0,0 L0,-8.87 A8.87,8.87 0 0 1 8.87,0 Z" fill="#ff666a"/><path transform="rotate(0)" d="M0,0 L0,-6.00 A6.00,6.00 0 0 1 6.00,0 Z" fill="#87fff5"/><path transform="rotate(90)" d="M0,0 L0,-6.00 A6.00,6.00 0 0 1 6.00,0 Z" fill="#66a7ff"/><path transform="rotate(180)" d="M0,0 L0,-6.00 A6.00,6.00 0 0 1 6.00,0 Z" fill="#78ff66"/><path transform="rotate(270)" d="M0,0 L0,-6.00 A6.00,6.00 0 0 1 6.00,0 Z" fill="#fcf52a"/></g></g>
<g transform="translate(1622.2,529.6)"><circle r="15" fill="rgba(40,50,65,0.1)"/><g stroke="#555" stroke-width="0.95" stroke-linejoin="miter"><path transform="rotate(0)" d="M0,0 L0,-11.74 A11.74,11.74 0 0 1 11.74,0 Z" fill="#87fff5"/><rect transform="rotate(90)" x="0" y="-11.74" width="11.74" height="11.74" fill="#ff666a"/><rect transform="rotate(180)" x="0" y="-11.74" width="11.74" height="11.74" fill="#ff666a"/><path transform="rotate(270)" d="M0,0 L0,-11.74 A11.74,11.74 0 0 1 11.74,0 Z" fill="#dd66ff"/><rect transform="rotate(0)" x="0" y="-8.87" width="8.87" height="8.87" fill="#fcf52a"/><rect transform="rotate(90)" x="0" y="-8.87" width="8.87" height="8.87" fill="#ff666a"/><path transform="rotate(180)" d="M0,0 L0,-8.87 A8.87,8.87 0 0 1 8.87,0 Z" fill="#78ff66"/><path transform="rotate(270)" d="M0,0 L0,-8.87 A8.87,8.87 0 0 1 8.87,0 Z" fill="#dd66ff"/><path transform="rotate(180)" d="M0,0 L0,-6.00 A6.00,6.00 0 0 1 6.00,0 Z" fill="#66a7ff"/></g></g>
<g transform="translate(1622.2,569.6)"><circle r="15" fill="rgba(40,50,65,0.1)"/><g stroke="#555" stroke-width="0.95" stroke-linejoin="miter"><path transform="rotate(0)" d="M0,0 L0,-11.74 A11.74,11.74 0 0 1 11.74,0 Z" fill="#ff666a"/><path transform="rotate(90)" d="M0,0 L0,-11.74 A11.74,11.74 0 0 1 11.74,0 Z" fill="#66a7ff"/><path transform="rotate(180)" d="M0,0 L0,-11.74 A11.74,11.74 0 0 1 11.74,0 Z" fill="#78ff66"/><path transform="rotate(270)" d="M0,0 L0,-11.74 A11.74,11.74 0 0 1 11.74,0 Z" fill="#87fff5"/><rect transform="rotate(0)" x="0" y="-8.87" width="8.87" height="8.87" fill="#78ff66"/><path transform="rotate(90)" d="M0,0 L0,-8.87 A8.87,8.87 0 0 1 8.87,0 Z" fill="#66a7ff"/><path transform="rotate(180)" d="M0,0 L0,-8.87 A8.87,8.87 0 0 1 8.87,0 Z" fill="#66a7ff"/><path transform="rotate(270)" d="M0,0 L0,-8.87 A8.87,8.87 0 0 1 8.87,0 Z" fill="#87fff5"/><path transform="rotate(90)" d="M0,0 L0,-6.00 A6.00,6.00 0 0 1 6.00,0 Z" fill="#fcf52a"/><rect transform="rotate(180)" x="0" y="-6.00" width="6.00" height="6.00" fill="#66a7ff"/></g></g>
<g transform="translate(1622.2,607.8)"><circle r="15" fill="rgba(40,50,65,0.1)"/><g stroke="#555" stroke-width="0.95" stroke-linejoin="miter"><rect transform="rotate(90)" x="0" y="-11.74" width="11.74" height="11.74" fill="#66a7ff"/><path transform="rotate(270)" d="M0,0 L0,-11.74 A11.74,11.74 0 0 1 11.74,0 Z" fill="#ff666a"/><path transform="rotate(0)" d="M0,0 L0,-8.87 A8.87,8.87 0 0 1 8.87,0 Z" fill="#66a7ff"/><path transform="rotate(90)" d="M0,0 L0,-8.87 A8.87,8.87 0 0 1 8.87,0 Z" fill="#66a7ff"/><rect transform="rotate(180)" x="0" y="-8.87" width="8.87" height="8.87" fill="#78ff66"/><path transform="rotate(270)" d="M0,0 L0,-8.87 A8.87,8.87 0 0 1 8.87,0 Z" fill="#78ff66"/><rect transform="rotate(0)" x="0" y="-6.00" width="6.00" height="6.00" fill="#dd66ff"/><rect transform="rotate(90)" x="0" y="-6.00" width="6.00" height="6.00" fill="#fcf52a"/><rect transform="rotate(180)" x="0" y="-6.00" width="6.00" height="6.00" fill="#78ff66"/></g></g>
<g transform="translate(1622.2,646.7)"><circle r="15" fill="rgba(40,50,65,0.1)"/><g stroke="#555" stroke-width="0.95" stroke-linejoin="miter"><rect transform="rotate(0)" x="0" y="-11.74" width="11.74" height="11.74" fill="#66a7ff"/><rect transform="rotate(90)" x="0" y="-11.74" width="11.74" height="11.74" fill="#fcf52a"/><rect transform="rotate(180)" x="0" y="-11.74" width="11.74" height="11.74" fill="#66a7ff"/><path transform="rotate(270)" d="M0,0 L0,-11.74 A11.74,11.74 0 0 1 11.74,0 Z" fill="#78ff66"/><rect transform="rotate(0)" x="0" y="-8.87" width="8.87" height="8.87" fill="#dd66ff"/><rect transform="rotate(90)" x="0" y="-8.87" width="8.87" height="8.87" fill="#fcf52a"/><rect transform="rotate(180)" x="0" y="-8.87" width="8.87" height="8.87" fill="#78ff66"/><rect transform="rotate(270)" x="0" y="-8.87" width="8.87" height="8.87" fill="#66a7ff"/></g></g>
<g transform="translate(1622.5,675)"><circle r="15" fill="rgba(40,50,65,0.1)"/><g stroke="#555" stroke-width="0.95" stroke-linejoin="miter"><rect transform="rotate(0)" x="0" y="-11.74" width="11.74" height="11.74" fill="#fcf52a"/><rect transform="rotate(90)" x="0" y="-11.74" width="11.74" height="11.74" fill="#66a7ff"/><rect transform="rotate(180)" x="0" y="-11.74" width="11.74" height="11.74" fill="#78ff66"/><rect transform="rotate(270)" x="0" y="-11.74" width="11.74" height="11.74" fill="#66a7ff"/><path transform="rotate(0)" d="M0,0 L0,-8.87 A8.87,8.87 0 0 1 8.87,0 Z" fill="#ff666a"/><rect transform="rotate(90)" x="0" y="-8.87" width="8.87" height="8.87" fill="#fcf52a"/><rect transform="rotate(180)" x="0" y="-8.87" width="8.87" height="8.87" fill="#dd66ff"/><rect transform="rotate(270)" x="0" y="-8.87" width="8.87" height="8.87" fill="#66a7ff"/></g></g>
<g transform="translate(1622.5,713.75)"><circle r="15" fill="rgba(40,50,65,0.1)"/><g stroke="#555" stroke-width="0.95" stroke-linejoin="miter"><path transform="rotate(0)" d="M0,0 L0,-11.74 A11.74,11.74 0 0 1 11.74,0 Z" fill="#87fff5"/><path transform="rotate(90)" d="M0,0 L0,-11.74 A11.74,11.74 0 0 1 11.74,0 Z" fill="#78ff66"/><path transform="rotate(180)" d="M0,0 L0,-11.74 A11.74,11.74 0 0 1 11.74,0 Z" fill="#78ff66"/><path transform="rotate(270)" d="M0,0 L0,-11.74 A11.74,11.74 0 0 1 11.74,0 Z" fill="#dd66ff"/><path transform="rotate(0)" d="M0,0 L0,-8.87 A8.87,8.87 0 0 1 8.87,0 Z" fill="#dd66ff"/><rect transform="rotate(90)" x="0" y="-8.87" width="8.87" height="8.87" fill="#ff666a"/><rect transform="rotate(180)" x="0" y="-8.87" width="8.87" height="8.87" fill="#78ff66"/><path transform="rotate(270)" d="M0,0 L0,-8.87 A8.87,8.87 0 0 1 8.87,0 Z" fill="#dd66ff"/></g></g>
<g transform="translate(1622.5,751.25)"><circle r="15" fill="rgba(40,50,65,0.1)"/><g stroke="#555" stroke-width="0.95" stroke-linejoin="miter"><path transform="rotate(0)" d="M0,0 L0,-11.74 A11.74,11.74 0 0 1 11.74,0 Z" fill="#87fff5"/><path transform="rotate(90)" d="M0,0 L0,-11.74 A11.74,11.74 0 0 1 11.74,0 Z" fill="#ff666a"/><path transform="rotate(180)" d="M0,0 L0,-11.74 A11.74,11.74 0 0 1 11.74,0 Z" fill="#ff666a"/><rect transform="rotate(270)" x="0" y="-11.74" width="11.74" height="11.74" fill="#fcf52a"/><path transform="rotate(0)" d="M0,0 L0,-8.87 A8.87,8.87 0 0 1 8.87,0 Z" fill="#87fff5"/><rect transform="rotate(90)" x="0" y="-8.87" width="8.87" height="8.87" fill="#66a7ff"/><path transform="rotate(180)" d="M0,0 L0,-8.87 A8.87,8.87 0 0 1 8.87,0 Z" fill="#ff666a"/><path transform="rotate(270)" d="M0,0 L0,-8.87 A8.87,8.87 0 0 1 8.87,0 Z" fill="#ff666a"/><path transform="rotate(0)" d="M0,0 L0,-6.00 A6.00,6.00 0 0 1 6.00,0 Z" fill="#66a7ff"/><path transform="rotate(270)" d="M0,0 L0,-6.00 A6.00,6.00 0 0 1 6.00,0 Z" fill="#78ff66"/></g></g>
<g transform="translate(1622.5,786)"><circle r="15" fill="rgba(40,50,65,0.1)"/><g stroke="#555" stroke-width="0.95" stroke-linejoin="miter"><path transform="rotate(0)" d="M0,0 L0,-11.74 A11.74,11.74 0 0 1 11.74,0 Z" fill="#78ff66"/><rect transform="rotate(90)" x="0" y="-11.74" width="11.74" height="11.74" fill="#fcf52a"/><rect transform="rotate(270)" x="0" y="-11.74" width="11.74" height="11.74" fill="#66a7ff"/><path transform="rotate(0)" d="M0,0 L0,-8.87 A8.87,8.87 0 0 1 8.87,0 Z" fill="#dd66ff"/><path transform="rotate(90)" d="M0,0 L0,-8.87 A8.87,8.87 0 0 1 8.87,0 Z" fill="#dd66ff"/></g></g>
<g transform="translate(1622.5,837.5)"><circle r="15" fill="rgba(40,50,65,0.1)"/><g stroke="#555" stroke-width="0.95" stroke-linejoin="miter"><path transform="rotate(0)" d="M0,0 L0,-11.74 A11.74,11.74 0 0 1 11.74,0 Z" fill="#78ff66"/><rect transform="rotate(90)" x="0" y="-11.74" width="11.74" height="11.74" fill="#fcf52a"/><rect transform="rotate(180)" x="0" y="-11.74" width="11.74" height="11.74" fill="#66a7ff"/><path transform="rotate(270)" d="M0,0 L0,-11.74 A11.74,11.74 0 0 1 11.74,0 Z" fill="#dd66ff"/></g></g>
<g transform="translate(1622.5,887.5)"><circle r="15" fill="rgba(40,50,65,0.1)"/><g stroke="#555" stroke-width="0.95" stroke-linejoin="miter"><path transform="rotate(0)" d="M0,0 L0,-11.74 A11.74,11.74 0 0 1 11.74,0 Z" fill="#ff666a"/><path transform="rotate(90)" d="M0,0 L0,-11.74 A11.74,11.74 0 0 1 11.74,0 Z" fill="#78ff66"/><rect transform="rotate(180)" x="0" y="-11.74" width="11.74" height="11.74" fill="#dd66ff"/><path transform="rotate(270)" d="M0,0 L0,-11.74 A11.74,11.74 0 0 1 11.74,0 Z" fill="#87fff5"/><path transform="rotate(0)" d="M0,0 L0,-8.87 A8.87,8.87 0 0 1 8.87,0 Z" fill="#ff666a"/><path transform="rotate(90)" d="M0,0 L0,-8.87 A8.87,8.87 0 0 1 8.87,0 Z" fill="#66a7ff"/><rect transform="rotate(180)" x="0" y="-8.87" width="8.87" height="8.87" fill="#dd66ff"/><path transform="rotate(270)" d="M0,0 L0,-8.87 A8.87,8.87 0 0 1 8.87,0 Z" fill="#87fff5"/></g></g>
<g transform="translate(1575,527)"><circle r="15" fill="rgba(40,50,65,0.1)"/><g stroke="#555" stroke-width="0.95" stroke-linejoin="miter"><rect transform="rotate(90)" x="0" y="-11.74" width="11.74" height="11.74" fill="#fcf52a"/><path transform="rotate(90)" d="M0,0 L0,-8.87 A8.87,8.87 0 0 1 8.87,0 Z" fill="#66a7ff"/></g></g>
<g transform="translate(1573,518)"><circle r="15" fill="rgba(40,50,65,0.1)"/><g stroke="#555" stroke-width="0.95" stroke-linejoin="miter"><rect transform="rotate(0)" x="0" y="-11.74" width="11.74" height="11.74" fill="#ff666a"/><path transform="rotate(90)" d="M0,0 L0,-11.74 A11.74,11.74 0 0 1 11.74,0 Z" fill="#ff666a"/><path transform="rotate(180)" d="M0,0 L0,-11.74 A11.74,11.74 0 0 1 11.74,0 Z" fill="#87fff5"/><rect transform="rotate(270)" x="0" y="-11.74" width="11.74" height="11.74" fill="#ff666a"/><path transform="rotate(0)" d="M0,0 L0,-8.87 A8.87,8.87 0 0 1 8.87,0 Z" fill="#78ff66"/><path transform="rotate(90)" d="M0,0 L0,-8.87 A8.87,8.87 0 0 1 8.87,0 Z" fill="#78ff66"/></g></g>
<g transform="translate(1574.8,503)"><circle r="15" fill="rgba(40,50,65,0.1)"/><g stroke="#555" stroke-width="0.95" stroke-linejoin="miter"><path transform="rotate(0)" d="M0,0 L0,-11.74 A11.74,11.74 0 0 1 11.74,0 Z" fill="#66a7ff"/><rect transform="rotate(90)" x="0" y="-11.74" width="11.74" height="11.74" fill="#fcf52a"/><path transform="rotate(180)" d="M0,0 L0,-11.74 A11.74,11.74 0 0 1 11.74,0 Z" fill="#fcf52a"/><path transform="rotate(270)" d="M0,0 L0,-11.74 A11.74,11.74 0 0 1 11.74,0 Z" fill="#ff666a"/><rect transform="rotate(90)" x="0" y="-8.87" width="8.87" height="8.87" fill="#ff666a"/><path transform="rotate(180)" d="M0,0 L0,-8.87 A8.87,8.87 0 0 1 8.87,0 Z" fill="#fcf52a"/></g></g>
<g transform="translate(1574.3,559.9)"><circle r="15" fill="rgba(40,50,65,0.1)"/><g stroke="#555" stroke-width="0.95" stroke-linejoin="miter"><path transform="rotate(0)" d="M0,0 L0,-11.74 A11.74,11.74 0 0 1 11.74,0 Z" fill="#87fff5"/><path transform="rotate(90)" d="M0,0 L0,-11.74 A11.74,11.74 0 0 1 11.74,0 Z" fill="#ff666a"/><path transform="rotate(180)" d="M0,0 L0,-11.74 A11.74,11.74 0 0 1 11.74,0 Z" fill="#ff666a"/><rect transform="rotate(270)" x="0" y="-11.74" width="11.74" height="11.74" fill="#fcf52a"/><path transform="rotate(0)" d="M0,0 L0,-8.87 A8.87,8.87 0 0 1 8.87,0 Z" fill="#87fff5"/><rect transform="rotate(90)" x="0" y="-8.87" width="8.87" height="8.87" fill="#66a7ff"/><path transform="rotate(180)" d="M0,0 L0,-8.87 A8.87,8.87 0 0 1 8.87,0 Z" fill="#ff666a"/><path transform="rotate(270)" d="M0,0 L0,-8.87 A8.87,8.87 0 0 1 8.87,0 Z" fill="#ff666a"/><path transform="rotate(0)" d="M0,0 L0,-6.00 A6.00,6.00 0 0 1 6.00,0 Z" fill="#66a7ff"/><path transform="rotate(270)" d="M0,0 L0,-6.00 A6.00,6.00 0 0 1 6.00,0 Z" fill="#78ff66"/></g></g>
<g transform="translate(1574.3,599.4)"><circle r="15" fill="rgba(40,50,65,0.1)"/><g stroke="#555" stroke-width="0.95" stroke-linejoin="miter"><path transform="rotate(90)" d="M0,0 L0,-11.74 A11.74,11.74 0 0 1 11.74,0 Z" fill="#ff666a"/><path transform="rotate(180)" d="M0,0 L0,-11.74 A11.74,11.74 0 0 1 11.74,0 Z" fill="#ff666a"/><path transform="rotate(0)" d="M0,0 L0,-8.87 A8.87,8.87 0 0 1 8.87,0 Z" fill="#87fff5"/><rect transform="rotate(90)" x="0" y="-8.87" width="8.87" height="8.87" fill="#fcf52a"/><path transform="rotate(180)" d="M0,0 L0,-8.87 A8.87,8.87 0 0 1 8.87,0 Z" fill="#dd66ff"/><rect transform="rotate(270)" x="0" y="-8.87" width="8.87" height="8.87" fill="#66a7ff"/><rect transform="rotate(180)" x="0" y="-6.00" width="6.00" height="6.00" fill="#66a7ff"/><path transform="rotate(270)" d="M0,0 L0,-6.00 A6.00,6.00 0 0 1 6.00,0 Z" fill="#78ff66"/></g></g>
<g transform="translate(1574.3,627.2)"><circle r="15" fill="rgba(40,50,65,0.1)"/><g stroke="#555" stroke-width="0.95" stroke-linejoin="miter"><path transform="rotate(90)" d="M0,0 L0,-11.74 A11.74,11.74 0 0 1 11.74,0 Z" fill="#dd66ff"/><rect transform="rotate(270)" x="0" y="-11.74" width="11.74" height="11.74" fill="#78ff66"/><rect transform="rotate(0)" x="0" y="-8.87" width="8.87" height="8.87" fill="#66a7ff"/><rect transform="rotate(180)" x="0" y="-8.87" width="8.87" height="8.87" fill="#78ff66"/><path transform="rotate(270)" d="M0,0 L0,-8.87 A8.87,8.87 0 0 1 8.87,0 Z" fill="#ff666a"/><rect transform="rotate(0)" x="0" y="-6.00" width="6.00" height="6.00" fill="#fcf52a"/><rect transform="rotate(90)" x="0" y="-6.00" width="6.00" height="6.00" fill="#66a7ff"/><rect transform="rotate(180)" x="0" y="-6.00" width="6.00" height="6.00" fill="#78ff66"/><rect transform="rotate(270)" x="0" y="-6.00" width="6.00" height="6.00" fill="#66a7ff"/></g></g>
<g transform="translate(1574.3,665.4)"><circle r="15" fill="rgba(40,50,65,0.1)"/><g stroke="#555" stroke-width="0.95" stroke-linejoin="miter"><path transform="rotate(0)" d="M0,0 L0,-11.74 A11.74,11.74 0 0 1 11.74,0 Z" fill="#ff666a"/><path transform="rotate(90)" d="M0,0 L0,-11.74 A11.74,11.74 0 0 1 11.74,0 Z" fill="#78ff66"/><path transform="rotate(180)" d="M0,0 L0,-11.74 A11.74,11.74 0 0 1 11.74,0 Z" fill="#66a7ff"/><rect transform="rotate(270)" x="0" y="-11.74" width="11.74" height="11.74" fill="#dd66ff"/><path transform="rotate(0)" d="M0,0 L0,-8.87 A8.87,8.87 0 0 1 8.87,0 Z" fill="#ff666a"/><path transform="rotate(90)" d="M0,0 L0,-8.87 A8.87,8.87 0 0 1 8.87,0 Z" fill="#66a7ff"/><path transform="rotate(180)" d="M0,0 L0,-8.87 A8.87,8.87 0 0 1 8.87,0 Z" fill="#66a7ff"/><path transform="rotate(270)" d="M0,0 L0,-8.87 A8.87,8.87 0 0 1 8.87,0 Z" fill="#87fff5"/><rect transform="rotate(90)" x="0" y="-6.00" width="6.00" height="6.00" fill="#ff666a"/><rect transform="rotate(180)" x="0" y="-6.00" width="6.00" height="6.00" fill="#78ff66"/></g></g>
<g transform="translate(1574.25,703.75)"><circle r="15" fill="rgba(40,50,65,0.1)"/><g stroke="#555" stroke-width="0.95" stroke-linejoin="miter"><path transform="rotate(0)" d="M0,0 L0,-11.74 A11.74,11.74 0 0 1 11.74,0 Z" fill="#ff666a"/><path transform="rotate(90)" d="M0,0 L0,-11.74 A11.74,11.74 0 0 1 11.74,0 Z" fill="#78ff66"/><path transform="rotate(180)" d="M0,0 L0,-11.74 A11.74,11.74 0 0 1 11.74,0 Z" fill="#dd66ff"/><path transform="rotate(270)" d="M0,0 L0,-11.74 A11.74,11.74 0 0 1 11.74,0 Z" fill="#dd66ff"/><path transform="rotate(0)" d="M0,0 L0,-8.87 A8.87,8.87 0 0 1 8.87,0 Z" fill="#87fff5"/><path transform="rotate(90)" d="M0,0 L0,-8.87 A8.87,8.87 0 0 1 8.87,0 Z" fill="#ff666a"/><path transform="rotate(180)" d="M0,0 L0,-8.87 A8.87,8.87 0 0 1 8.87,0 Z" fill="#ff666a"/><rect transform="rotate(270)" x="0" y="-8.87" width="8.87" height="8.87" fill="#fcf52a"/></g></g>
<g transform="translate(1574.25,740)"><circle r="15" fill="rgba(40,50,65,0.1)"/><g stroke="#555" stroke-width="0.95" stroke-linejoin="miter"><path transform="rotate(0)" d="M0,0 L0,-11.74 A11.74,11.74 0 0 1 11.74,0 Z" fill="#66a7ff"/><rect transform="rotate(0)" x="0" y="-8.87" width="8.87" height="8.87" fill="#fcf52a"/><path transform="rotate(90)" d="M0,0 L0,-8.87 A8.87,8.87 0 0 1 8.87,0 Z" fill="#ff666a"/><path transform="rotate(180)" d="M0,0 L0,-8.87 A8.87,8.87 0 0 1 8.87,0 Z" fill="#87fff5"/><path transform="rotate(270)" d="M0,0 L0,-8.87 A8.87,8.87 0 0 1 8.87,0 Z" fill="#ff666a"/></g></g>
<g transform="translate(1575,787.5)"><circle r="15" fill="rgba(40,50,65,0.1)"/><g stroke="#555" stroke-width="0.95" stroke-linejoin="miter"><path transform="rotate(0)" d="M0,0 L0,-11.74 A11.74,11.74 0 0 1 11.74,0 Z" fill="#66a7ff"/><path transform="rotate(90)" d="M0,0 L0,-11.74 A11.74,11.74 0 0 1 11.74,0 Z" fill="#dd66ff"/><rect transform="rotate(180)" x="0" y="-11.74" width="11.74" height="11.74" fill="#78ff66"/><rect transform="rotate(270)" x="0" y="-11.74" width="11.74" height="11.74" fill="#78ff66"/></g></g>
<g transform="translate(1574.25,840)"><circle r="15" fill="rgba(40,50,65,0.1)"/><g stroke="#555" stroke-width="0.95" stroke-linejoin="miter"><path transform="rotate(90)" d="M0,0 L0,-11.74 A11.74,11.74 0 0 1 11.74,0 Z" fill="#dd66ff"/><rect transform="rotate(180)" x="0" y="-11.74" width="11.74" height="11.74" fill="#78ff66"/><rect transform="rotate(0)" x="0" y="-8.87" width="8.87" height="8.87" fill="#66a7ff"/><rect transform="rotate(90)" x="0" y="-8.87" width="8.87" height="8.87" fill="#66a7ff"/><rect transform="rotate(270)" x="0" y="-8.87" width="8.87" height="8.87" fill="#78ff66"/></g></g>
<g transform="translate(1526.25,658.75)"><circle r="15" fill="rgba(40,50,65,0.1)"/><g stroke="#555" stroke-width="0.95" stroke-linejoin="miter"><path transform="rotate(90)" d="M0,0 L0,-11.74 A11.74,11.74 0 0 1 11.74,0 Z" fill="#ff666a"/><rect transform="rotate(180)" x="0" y="-11.74" width="11.74" height="11.74" fill="#ff666a"/><path transform="rotate(90)" d="M0,0 L0,-8.87 A8.87,8.87 0 0 1 8.87,0 Z" fill="#ff666a"/><path transform="rotate(180)" d="M0,0 L0,-8.87 A8.87,8.87 0 0 1 8.87,0 Z" fill="#ff666a"/><rect transform="rotate(0)" x="0" y="-6.00" width="6.00" height="6.00" fill="#fcf52a"/><path transform="rotate(270)" d="M0,0 L0,-6.00 A6.00,6.00 0 0 1 6.00,0 Z" fill="#87fff5"/></g></g>
<g transform="translate(1526.25,693.75)"><circle r="15" fill="rgba(40,50,65,0.1)"/><g stroke="#555" stroke-width="0.95" stroke-linejoin="miter"><rect transform="rotate(0)" x="0" y="-11.74" width="11.74" height="11.74" fill="#66a7ff"/><path transform="rotate(180)" d="M0,0 L0,-11.74 A11.74,11.74 0 0 1 11.74,0 Z" fill="#78ff66"/><rect transform="rotate(0)" x="0" y="-8.87" width="8.87" height="8.87" fill="#dd66ff"/><rect transform="rotate(90)" x="0" y="-8.87" width="8.87" height="8.87" fill="#fcf52a"/><path transform="rotate(180)" d="M0,0 L0,-8.87 A8.87,8.87 0 0 1 8.87,0 Z" fill="#87fff5"/><path transform="rotate(270)" d="M0,0 L0,-8.87 A8.87,8.87 0 0 1 8.87,0 Z" fill="#ff666a"/></g></g>
<g transform="translate(1527.5,740)"><circle r="15" fill="rgba(40,50,65,0.1)"/><g stroke="#555" stroke-width="0.95" stroke-linejoin="miter"><path transform="rotate(0)" d="M0,0 L0,-11.74 A11.74,11.74 0 0 1 11.74,0 Z" fill="#78ff66"/><path transform="rotate(90)" d="M0,0 L0,-11.74 A11.74,11.74 0 0 1 11.74,0 Z" fill="#dd66ff"/><path transform="rotate(180)" d="M0,0 L0,-11.74 A11.74,11.74 0 0 1 11.74,0 Z" fill="#dd66ff"/><path transform="rotate(270)" d="M0,0 L0,-11.74 A11.74,11.74 0 0 1 11.74,0 Z" fill="#dd66ff"/></g></g>
<g transform="translate(1526.25,793.75)"><circle r="15" fill="rgba(40,50,65,0.1)"/><g stroke="#555" stroke-width="0.95" stroke-linejoin="miter"><rect transform="rotate(90)" x="0" y="-11.74" width="11.74" height="11.74" fill="#fcf52a"/><path transform="rotate(180)" d="M0,0 L0,-11.74 A11.74,11.74 0 0 1 11.74,0 Z" fill="#87fff5"/><path transform="rotate(270)" d="M0,0 L0,-11.74 A11.74,11.74 0 0 1 11.74,0 Z" fill="#87fff5"/><rect transform="rotate(90)" x="0" y="-8.87" width="8.87" height="8.87" fill="#fcf52a"/><path transform="rotate(180)" d="M0,0 L0,-8.87 A8.87,8.87 0 0 1 8.87,0 Z" fill="#78ff66"/><path transform="rotate(270)" d="M0,0 L0,-8.87 A8.87,8.87 0 0 1 8.87,0 Z" fill="#dd66ff"/></g></g>
<g transform="translate(1478,694)"><circle r="15" fill="rgba(40,50,65,0.1)"/><g stroke="#555" stroke-width="0.95" stroke-linejoin="miter"><path transform="rotate(0)" d="M0,0 L0,-11.74 A11.74,11.74 0 0 1 11.74,0 Z" fill="#dd66ff"/><path transform="rotate(90)" d="M0,0 L0,-11.74 A11.74,11.74 0 0 1 11.74,0 Z" fill="#fcf52a"/><path transform="rotate(180)" d="M0,0 L0,-11.74 A11.74,11.74 0 0 1 11.74,0 Z" fill="#66a7ff"/><path transform="rotate(270)" d="M0,0 L0,-11.74 A11.74,11.74 0 0 1 11.74,0 Z" fill="#dd66ff"/></g></g>
<g transform="translate(1478,743.75)"><circle r="15" fill="rgba(40,50,65,0.1)"/><g stroke="#555" stroke-width="0.95" stroke-linejoin="miter"><path transform="rotate(0)" d="M0,0 L0,-11.74 A11.74,11.74 0 0 1 11.74,0 Z" fill="#87fff5"/><path transform="rotate(90)" d="M0,0 L0,-11.74 A11.74,11.74 0 0 1 11.74,0 Z" fill="#ff666a"/><path transform="rotate(180)" d="M0,0 L0,-11.74 A11.74,11.74 0 0 1 11.74,0 Z" fill="#ff666a"/><path transform="rotate(270)" d="M0,0 L0,-11.74 A11.74,11.74 0 0 1 11.74,0 Z" fill="#fcf52a"/><path transform="rotate(0)" d="M0,0 L0,-8.87 A8.87,8.87 0 0 1 8.87,0 Z" fill="#87fff5"/><rect transform="rotate(90)" x="0" y="-8.87" width="8.87" height="8.87" fill="#66a7ff"/><path transform="rotate(180)" d="M0,0 L0,-8.87 A8.87,8.87 0 0 1 8.87,0 Z" fill="#ff666a"/><path transform="rotate(270)" d="M0,0 L0,-8.87 A8.87,8.87 0 0 1 8.87,0 Z" fill="#ff666a"/></g></g>
<g transform="translate(1430,696)"><circle r="15" fill="rgba(40,50,65,0.1)"/><g stroke="#555" stroke-width="0.95" stroke-linejoin="miter"><path transform="rotate(0)" d="M0,0 L0,-11.74 A11.74,11.74 0 0 1 11.74,0 Z" fill="#78ff66"/><path transform="rotate(90)" d="M0,0 L0,-11.74 A11.74,11.74 0 0 1 11.74,0 Z" fill="#66a7ff"/><path transform="rotate(180)" d="M0,0 L0,-11.74 A11.74,11.74 0 0 1 11.74,0 Z" fill="#78ff66"/><path transform="rotate(270)" d="M0,0 L0,-11.74 A11.74,11.74 0 0 1 11.74,0 Z" fill="#87fff5"/><path transform="rotate(0)" d="M0,0 L0,-8.87 A8.87,8.87 0 0 1 8.87,0 Z" fill="#ff666a"/><path transform="rotate(90)" d="M0,0 L0,-8.87 A8.87,8.87 0 0 1 8.87,0 Z" fill="#fcf52a"/><path transform="rotate(180)" d="M0,0 L0,-8.87 A8.87,8.87 0 0 1 8.87,0 Z" fill="#66a7ff"/><path transform="rotate(270)" d="M0,0 L0,-8.87 A8.87,8.87 0 0 1 8.87,0 Z" fill="#87fff5"/></g></g>
<g transform="translate(1704.4,1006.9)"><circle r="15" fill="rgba(40,50,65,0.1)"/><g stroke="#555" stroke-width="0.95" stroke-linejoin="miter"><path transform="rotate(0)" d="M0,0 L0,-11.74 A11.74,11.74 0 0 1 11.74,0 Z" fill="#66a7ff"/><rect transform="rotate(90)" x="0" y="-11.74" width="11.74" height="11.74" fill="#78ff66"/><path transform="rotate(180)" d="M0,0 L0,-11.74 A11.74,11.74 0 0 1 11.74,0 Z" fill="#87fff5"/><rect transform="rotate(0)" x="0" y="-8.87" width="8.87" height="8.87" fill="#fcf52a"/><path transform="rotate(90)" d="M0,0 L0,-8.87 A8.87,8.87 0 0 1 8.87,0 Z" fill="#ff666a"/><rect transform="rotate(180)" x="0" y="-8.87" width="8.87" height="8.87" fill="#dd66ff"/><path transform="rotate(270)" d="M0,0 L0,-8.87 A8.87,8.87 0 0 1 8.87,0 Z" fill="#ff666a"/></g></g>
<g transform="translate(1742.5,1006.9)"><circle r="15" fill="rgba(40,50,65,0.1)"/><g stroke="#555" stroke-width="0.95" stroke-linejoin="miter"><rect transform="rotate(0)" x="0" y="-11.74" width="11.74" height="11.74" fill="#fcf52a"/><path transform="rotate(90)" d="M0,0 L0,-11.74 A11.74,11.74 0 0 1 11.74,0 Z" fill="#dd66ff"/><path transform="rotate(180)" d="M0,0 L0,-11.74 A11.74,11.74 0 0 1 11.74,0 Z" fill="#66a7ff"/><rect transform="rotate(270)" x="0" y="-11.74" width="11.74" height="11.74" fill="#78ff66"/><rect transform="rotate(0)" x="0" y="-8.87" width="8.87" height="8.87" fill="#fcf52a"/><rect transform="rotate(90)" x="0" y="-8.87" width="8.87" height="8.87" fill="#ff666a"/><rect transform="rotate(180)" x="0" y="-8.87" width="8.87" height="8.87" fill="#ff666a"/><rect transform="rotate(270)" x="0" y="-8.87" width="8.87" height="8.87" fill="#66a7ff"/><path transform="rotate(270)" d="M0,0 L0,-6.00 A6.00,6.00 0 0 1 6.00,0 Z" fill="#78ff66"/></g></g>
<g transform="translate(1771.25,1006.9)"><circle r="15" fill="rgba(40,50,65,0.1)"/><g stroke="#555" stroke-width="0.95" stroke-linejoin="miter"><path transform="rotate(0)" d="M0,0 L0,-11.74 A11.74,11.74 0 0 1 11.74,0 Z" fill="#ff666a"/><path transform="rotate(90)" d="M0,0 L0,-11.74 A11.74,11.74 0 0 1 11.74,0 Z" fill="#66a7ff"/><path transform="rotate(180)" d="M0,0 L0,-11.74 A11.74,11.74 0 0 1 11.74,0 Z" fill="#78ff66"/><path transform="rotate(270)" d="M0,0 L0,-11.74 A11.74,11.74 0 0 1 11.74,0 Z" fill="#87fff5"/><path transform="rotate(0)" d="M0,0 L0,-8.87 A8.87,8.87 0 0 1 8.87,0 Z" fill="#87fff5"/><rect transform="rotate(90)" x="0" y="-8.87" width="8.87" height="8.87" fill="#ff666a"/><rect transform="rotate(180)" x="0" y="-8.87" width="8.87" height="8.87" fill="#78ff66"/><path transform="rotate(270)" d="M0,0 L0,-8.87 A8.87,8.87 0 0 1 8.87,0 Z" fill="#dd66ff"/></g></g>
<g transform="translate(1810,1006.9)"><circle r="15" fill="rgba(40,50,65,0.1)"/><g stroke="#555" stroke-width="0.95" stroke-linejoin="miter"><rect transform="rotate(0)" x="0" y="-11.74" width="11.74" height="11.74" fill="#78ff66"/><path transform="rotate(90)" d="M0,0 L0,-11.74 A11.74,11.74 0 0 1 11.74,0 Z" fill="#fcf52a"/><path transform="rotate(180)" d="M0,0 L0,-11.74 A11.74,11.74 0 0 1 11.74,0 Z" fill="#66a7ff"/><path transform="rotate(90)" d="M0,0 L0,-8.87 A8.87,8.87 0 0 1 8.87,0 Z" fill="#78ff66"/><rect transform="rotate(180)" x="0" y="-8.87" width="8.87" height="8.87" fill="#66a7ff"/><rect transform="rotate(270)" x="0" y="-8.87" width="8.87" height="8.87" fill="#dd66ff"/><path transform="rotate(0)" d="M0,0 L0,-6.00 A6.00,6.00 0 0 1 6.00,0 Z" fill="#ff666a"/></g></g>
<g transform="translate(1848,1006.9)"><circle r="15" fill="rgba(40,50,65,0.1)"/><g stroke="#555" stroke-width="0.95" stroke-linejoin="miter"><rect transform="rotate(90)" x="0" y="-11.74" width="11.74" height="11.74" fill="#fcf52a"/><rect transform="rotate(270)" x="0" y="-11.74" width="11.74" height="11.74" fill="#ff666a"/><rect transform="rotate(0)" x="0" y="-8.87" width="8.87" height="8.87" fill="#ff666a"/><rect transform="rotate(270)" x="0" y="-8.87" width="8.87" height="8.87" fill="#87fff5"/><path transform="rotate(0)" d="M0,0 L0,-6.00 A6.00,6.00 0 0 1 6.00,0 Z" fill="#ff666a"/><path transform="rotate(90)" d="M0,0 L0,-6.00 A6.00,6.00 0 0 1 6.00,0 Z" fill="#66a7ff"/><path transform="rotate(180)" d="M0,0 L0,-6.00 A6.00,6.00 0 0 1 6.00,0 Z" fill="#78ff66"/><path transform="rotate(270)" d="M0,0 L0,-6.00 A6.00,6.00 0 0 1 6.00,0 Z" fill="#87fff5"/></g></g>
<g transform="translate(1886.9,1006.9)"><circle r="15" fill="rgba(40,50,65,0.1)"/><g stroke="#555" stroke-width="0.95" stroke-linejoin="miter"><rect transform="rotate(0)" x="0" y="-11.74" width="11.74" height="11.74" fill="#dd66ff"/><rect transform="rotate(90)" x="0" y="-11.74" width="11.74" height="11.74" fill="#fcf52a"/><rect transform="rotate(180)" x="0" y="-11.74" width="11.74" height="11.74" fill="#78ff66"/><path transform="rotate(270)" d="M0,0 L0,-11.74 A11.74,11.74 0 0 1 11.74,0 Z" fill="#dd66ff"/><path transform="rotate(0)" d="M0,0 L0,-8.87 A8.87,8.87 0 0 1 8.87,0 Z" fill="#78ff66"/><path transform="rotate(90)" d="M0,0 L0,-8.87 A8.87,8.87 0 0 1 8.87,0 Z" fill="#66a7ff"/><rect transform="rotate(180)" x="0" y="-8.87" width="8.87" height="8.87" fill="#66a7ff"/><path transform="rotate(270)" d="M0,0 L0,-8.87 A8.87,8.87 0 0 1 8.87,0 Z" fill="#dd66ff"/><path transform="rotate(180)" d="M0,0 L0,-6.00 A6.00,6.00 0 0 1 6.00,0 Z" fill="#78ff66"/></g></g>
<g transform="translate(1915.6,1006.9)"><circle r="15" fill="rgba(40,50,65,0.1)"/><g stroke="#555" stroke-width="0.95" stroke-linejoin="miter"><path transform="rotate(0)" d="M0,0 L0,-11.74 A11.74,11.74 0 0 1 11.74,0 Z" fill="#87fff5"/><path transform="rotate(90)" d="M0,0 L0,-11.74 A11.74,11.74 0 0 1 11.74,0 Z" fill="#66a7ff"/><path transform="rotate(180)" d="M0,0 L0,-11.74 A11.74,11.74 0 0 1 11.74,0 Z" fill="#ff666a"/><rect transform="rotate(270)" x="0" y="-11.74" width="11.74" height="11.74" fill="#fcf52a"/><path transform="rotate(0)" d="M0,0 L0,-8.87 A8.87,8.87 0 0 1 8.87,0 Z" fill="#78ff66"/><path transform="rotate(90)" d="M0,0 L0,-8.87 A8.87,8.87 0 0 1 8.87,0 Z" fill="#66a7ff"/><path transform="rotate(180)" d="M0,0 L0,-8.87 A8.87,8.87 0 0 1 8.87,0 Z" fill="#ff666a"/><path transform="rotate(270)" d="M0,0 L0,-8.87 A8.87,8.87 0 0 1 8.87,0 Z" fill="#ff666a"/></g></g>
<g transform="translate(1721.9,1065)"><circle r="15" fill="rgba(40,50,65,0.1)"/><g stroke="#555" stroke-width="0.95" stroke-linejoin="miter"><path transform="rotate(0)" d="M0,0 L0,-11.74 A11.74,11.74 0 0 1 11.74,0 Z" fill="#78ff66"/><rect transform="rotate(90)" x="0" y="-11.74" width="11.74" height="11.74" fill="#fcf52a"/><rect transform="rotate(180)" x="0" y="-11.74" width="11.74" height="11.74" fill="#66a7ff"/><path transform="rotate(270)" d="M0,0 L0,-11.74 A11.74,11.74 0 0 1 11.74,0 Z" fill="#dd66ff"/><rect transform="rotate(0)" x="0" y="-8.87" width="8.87" height="8.87" fill="#ff666a"/><rect transform="rotate(90)" x="0" y="-8.87" width="8.87" height="8.87" fill="#fcf52a"/><path transform="rotate(180)" d="M0,0 L0,-8.87 A8.87,8.87 0 0 1 8.87,0 Z" fill="#78ff66"/><rect transform="rotate(270)" x="0" y="-8.87" width="8.87" height="8.87" fill="#ff666a"/><rect transform="rotate(0)" x="0" y="-6.00" width="6.00" height="6.00" fill="#ff666a"/><path transform="rotate(180)" d="M0,0 L0,-6.00 A6.00,6.00 0 0 1 6.00,0 Z" fill="#78ff66"/><rect transform="rotate(270)" x="0" y="-6.00" width="6.00" height="6.00" fill="#87fff5"/></g></g>
<g transform="translate(1742.5,1054.4)"><circle r="15" fill="rgba(40,50,65,0.1)"/><g stroke="#555" stroke-width="0.95" stroke-linejoin="miter"><path transform="rotate(0)" d="M0,0 L0,-11.74 A11.74,11.74 0 0 1 11.74,0 Z" fill="#ff666a"/><path transform="rotate(90)" d="M0,0 L0,-11.74 A11.74,11.74 0 0 1 11.74,0 Z" fill="#66a7ff"/><path transform="rotate(180)" d="M0,0 L0,-11.74 A11.74,11.74 0 0 1 11.74,0 Z" fill="#78ff66"/><path transform="rotate(270)" d="M0,0 L0,-11.74 A11.74,11.74 0 0 1 11.74,0 Z" fill="#87fff5"/><rect transform="rotate(0)" x="0" y="-8.87" width="8.87" height="8.87" fill="#78ff66"/><path transform="rotate(90)" d="M0,0 L0,-8.87 A8.87,8.87 0 0 1 8.87,0 Z" fill="#66a7ff"/><path transform="rotate(180)" d="M0,0 L0,-8.87 A8.87,8.87 0 0 1 8.87,0 Z" fill="#66a7ff"/><path transform="rotate(270)" d="M0,0 L0,-8.87 A8.87,8.87 0 0 1 8.87,0 Z" fill="#87fff5"/><path transform="rotate(90)" d="M0,0 L0,-6.00 A6.00,6.00 0 0 1 6.00,0 Z" fill="#fcf52a"/><rect transform="rotate(180)" x="0" y="-6.00" width="6.00" height="6.00" fill="#66a7ff"/></g></g>
<g transform="translate(1780.6,1054.4)"><circle r="15" fill="rgba(40,50,65,0.1)"/><g stroke="#555" stroke-width="0.95" stroke-linejoin="miter"><path transform="rotate(0)" d="M0,0 L0,-11.74 A11.74,11.74 0 0 1 11.74,0 Z" fill="#ff666a"/><path transform="rotate(90)" d="M0,0 L0,-11.74 A11.74,11.74 0 0 1 11.74,0 Z" fill="#78ff66"/><path transform="rotate(180)" d="M0,0 L0,-11.74 A11.74,11.74 0 0 1 11.74,0 Z" fill="#66a7ff"/><rect transform="rotate(270)" x="0" y="-11.74" width="11.74" height="11.74" fill="#dd66ff"/><path transform="rotate(0)" d="M0,0 L0,-8.87 A8.87,8.87 0 0 1 8.87,0 Z" fill="#ff666a"/><path transform="rotate(90)" d="M0,0 L0,-8.87 A8.87,8.87 0 0 1 8.87,0 Z" fill="#66a7ff"/><path transform="rotate(180)" d="M0,0 L0,-8.87 A8.87,8.87 0 0 1 8.87,0 Z" fill="#66a7ff"/><path transform="rotate(270)" d="M0,0 L0,-8.87 A8.87,8.87 0 0 1 8.87,0 Z" fill="#87fff5"/><rect transform="rotate(90)" x="0" y="-6.00" width="6.00" height="6.00" fill="#ff666a"/><rect transform="rotate(180)" x="0" y="-6.00" width="6.00" height="6.00" fill="#78ff66"/></g></g>
<g transform="translate(1819.4,1054.4)"><circle r="15" fill="rgba(40,50,65,0.1)"/><g stroke="#555" stroke-width="0.95" stroke-linejoin="miter"><path transform="rotate(0)" d="M0,0 L0,-11.74 A11.74,11.74 0 0 1 11.74,0 Z" fill="#87fff5"/><rect transform="rotate(90)" x="0" y="-11.74" width="11.74" height="11.74" fill="#ff666a"/><rect transform="rotate(180)" x="0" y="-11.74" width="11.74" height="11.74" fill="#ff666a"/><path transform="rotate(270)" d="M0,0 L0,-11.74 A11.74,11.74 0 0 1 11.74,0 Z" fill="#dd66ff"/><rect transform="rotate(0)" x="0" y="-8.87" width="8.87" height="8.87" fill="#fcf52a"/><rect transform="rotate(90)" x="0" y="-8.87" width="8.87" height="8.87" fill="#ff666a"/><path transform="rotate(180)" d="M0,0 L0,-8.87 A8.87,8.87 0 0 1 8.87,0 Z" fill="#78ff66"/><path transform="rotate(270)" d="M0,0 L0,-8.87 A8.87,8.87 0 0 1 8.87,0 Z" fill="#dd66ff"/><path transform="rotate(180)" d="M0,0 L0,-6.00 A6.00,6.00 0 0 1 6.00,0 Z" fill="#66a7ff"/></g></g>
<g transform="translate(1857.5,1054.4)"><circle r="15" fill="rgba(40,50,65,0.1)"/><g stroke="#555" stroke-width="0.95" stroke-linejoin="miter"><path transform="rotate(90)" d="M0,0 L0,-11.74 A11.74,11.74 0 0 1 11.74,0 Z" fill="#dd66ff"/><rect transform="rotate(270)" x="0" y="-11.74" width="11.74" height="11.74" fill="#78ff66"/><path transform="rotate(0)" d="M0,0 L0,-8.87 A8.87,8.87 0 0 1 8.87,0 Z" fill="#66a7ff"/><path transform="rotate(90)" d="M0,0 L0,-8.87 A8.87,8.87 0 0 1 8.87,0 Z" fill="#78ff66"/><rect transform="rotate(270)" x="0" y="-8.87" width="8.87" height="8.87" fill="#66a7ff"/><rect transform="rotate(0)" x="0" y="-6.00" width="6.00" height="6.00" fill="#fcf52a"/><path transform="rotate(90)" d="M0,0 L0,-6.00 A6.00,6.00 0 0 1 6.00,0 Z" fill="#ff666a"/></g></g>
<g transform="translate(1886.9,1054.4)"><circle r="15" fill="rgba(40,50,65,0.1)"/><g stroke="#555" stroke-width="0.95" stroke-linejoin="miter"><path transform="rotate(0)" d="M0,0 L0,-11.74 A11.74,11.74 0 0 1 11.74,0 Z" fill="#ff666a"/><rect transform="rotate(180)" x="0" y="-11.74" width="11.74" height="11.74" fill="#dd66ff"/><path transform="rotate(270)" d="M0,0 L0,-11.74 A11.74,11.74 0 0 1 11.74,0 Z" fill="#ff666a"/><path transform="rotate(0)" d="M0,0 L0,-8.87 A8.87,8.87 0 0 1 8.87,0 Z" fill="#87fff5"/><path transform="rotate(90)" d="M0,0 L0,-8.87 A8.87,8.87 0 0 1 8.87,0 Z" fill="#87fff5"/><path transform="rotate(180)" d="M0,0 L0,-8.87 A8.87,8.87 0 0 1 8.87,0 Z" fill="#87fff5"/><path transform="rotate(270)" d="M0,0 L0,-8.87 A8.87,8.87 0 0 1 8.87,0 Z" fill="#ff666a"/><path transform="rotate(0)" d="M0,0 L0,-6.00 A6.00,6.00 0 0 1 6.00,0 Z" fill="#87fff5"/><path transform="rotate(90)" d="M0,0 L0,-6.00 A6.00,6.00 0 0 1 6.00,0 Z" fill="#66a7ff"/><path transform="rotate(180)" d="M0,0 L0,-6.00 A6.00,6.00 0 0 1 6.00,0 Z" fill="#78ff66"/><path transform="rotate(270)" d="M0,0 L0,-6.00 A6.00,6.00 0 0 1 6.00,0 Z" fill="#fcf52a"/></g></g>
<g transform="translate(1925,1054)"><circle r="15" fill="rgba(40,50,65,0.1)"/><g stroke="#555" stroke-width="0.95" stroke-linejoin="miter"><rect transform="rotate(270)" x="0" y="-11.74" width="11.74" height="11.74" fill="#78ff66"/><path transform="rotate(180)" d="M0,0 L0,-8.87 A8.87,8.87 0 0 1 8.87,0 Z" fill="#78ff66"/></g></g>
<g transform="translate(1813.3,405)"><circle r="15" fill="rgba(40,50,65,0.1)"/><g stroke="#555" stroke-width="0.95" stroke-linejoin="miter"><rect transform="rotate(90)" x="0" y="-11.74" width="11.74" height="11.74" fill="#78ff66"/><rect transform="rotate(180)" x="0" y="-11.74" width="11.74" height="11.74" fill="#66a7ff"/><rect transform="rotate(270)" x="0" y="-11.74" width="11.74" height="11.74" fill="#66a7ff"/><path transform="rotate(0)" d="M0,0 L0,-8.87 A8.87,8.87 0 0 1 8.87,0 Z" fill="#ff666a"/><path transform="rotate(90)" d="M0,0 L0,-8.87 A8.87,8.87 0 0 1 8.87,0 Z" fill="#78ff66"/><path transform="rotate(180)" d="M0,0 L0,-8.87 A8.87,8.87 0 0 1 8.87,0 Z" fill="#66a7ff"/><path transform="rotate(270)" d="M0,0 L0,-8.87 A8.87,8.87 0 0 1 8.87,0 Z" fill="#66a7ff"/><path transform="rotate(0)" d="M0,0 L0,-6.00 A6.00,6.00 0 0 1 6.00,0 Z" fill="#78ff66"/><path transform="rotate(90)" d="M0,0 L0,-6.00 A6.00,6.00 0 0 1 6.00,0 Z" fill="#78ff66"/></g></g>
<g transform="translate(1861.7,560)"><circle r="15" fill="rgba(40,50,65,0.1)"/><g stroke="#555" stroke-width="0.95" stroke-linejoin="miter"><path transform="rotate(0)" d="M0,0 L0,-11.74 A11.74,11.74 0 0 1 11.74,0 Z" fill="#fcf52a"/><path transform="rotate(90)" d="M0,0 L0,-11.74 A11.74,11.74 0 0 1 11.74,0 Z" fill="#78ff66"/><path transform="rotate(180)" d="M0,0 L0,-11.74 A11.74,11.74 0 0 1 11.74,0 Z" fill="#ff666a"/><rect transform="rotate(270)" x="0" y="-11.74" width="11.74" height="11.74" fill="#ff666a"/><path transform="rotate(0)" d="M0,0 L0,-8.87 A8.87,8.87 0 0 1 8.87,0 Z" fill="#78ff66"/><path transform="rotate(90)" d="M0,0 L0,-8.87 A8.87,8.87 0 0 1 8.87,0 Z" fill="#78ff66"/><path transform="rotate(180)" d="M0,0 L0,-8.87 A8.87,8.87 0 0 1 8.87,0 Z" fill="#ff666a"/><rect transform="rotate(270)" x="0" y="-8.87" width="8.87" height="8.87" fill="#ff666a"/><path transform="rotate(0)" d="M0,0 L0,-6.00 A6.00,6.00 0 0 1 6.00,0 Z" fill="#ff666a"/><path transform="rotate(90)" d="M0,0 L0,-6.00 A6.00,6.00 0 0 1 6.00,0 Z" fill="#ff666a"/><path transform="rotate(180)" d="M0,0 L0,-6.00 A6.00,6.00 0 0 1 6.00,0 Z" fill="#78ff66"/></g></g>
<use href="#bal" transform="translate(182.35,262.35) rotate(0)"/>
<use href="#bal" transform="translate(230.35,310.35) rotate(0)"/>
<use href="#bal" transform="translate(182.35,358.35) rotate(0)"/>
<use href="#bal" transform="translate(518.35,358.35) rotate(0)"/>
<use href="#bal" transform="translate(662.35,358.35) rotate(0)"/>
<use href="#bal" transform="translate(278.35,454.35) rotate(0)"/>
<use href="#bal" transform="translate(422.35,502.35) rotate(0)"/>
<use href="#bal" transform="translate(566.35,550.35) rotate(0)"/>
<use href="#bal" transform="translate(998.35,454.35) rotate(0)"/>
<use href="#bal" transform="translate(998.35,550.35) rotate(0)"/>
<use href="#bal" transform="translate(998.35,646.35) rotate(0)"/>
<use href="#bal" transform="translate(1094.35,310.35) rotate(0)"/>
<use href="#bal" transform="translate(1094.35,502.35) rotate(0)"/>
<use href="#bal" transform="translate(1094.35,598.35) rotate(0)"/>
<use href="#bal" transform="translate(1190.35,550.35) rotate(0)"/>
<use href="#bal" transform="translate(1382.35,310.35) rotate(0)"/>
<use href="#bal" transform="translate(1478.35,214.35) rotate(0)"/>
<use href="#bal" transform="translate(1574.35,214.35) rotate(0)"/>
<use href="#bal" transform="translate(1670.35,214.35) rotate(0)"/>
<use href="#bal" transform="translate(350.35,670.35) rotate(90)"/>
<use href="#bal" transform="translate(494.35,670.35) rotate(90)"/>
<use href="#bal" transform="translate(638.35,670.35) rotate(90)"/>
<use href="#bal" transform="translate(1646.35,382.35) rotate(90)"/>
<use href="#bal" transform="translate(1598.35,430.35) rotate(90)"/>
<use href="#bal" transform="translate(1550.35,478.35) rotate(90)"/>
<use href="#bal" transform="translate(1502.35,526.35) rotate(90)"/>
<use href="#bal" transform="translate(1454.35,574.35) rotate(90)"/>
<use href="#bal" transform="translate(1406.35,622.35) rotate(90)"/>
<use href="#bal" transform="translate(1454.35,670.35) rotate(90)"/>
<use href="#bal" transform="translate(1502.35,718.35) rotate(90)"/>
<use href="#bal" transform="translate(1550.35,766.35) rotate(90)"/>
<use href="#bal" transform="translate(1598.35,814.35) rotate(90)"/>
<use href="#bal" transform="translate(1646.35,862.35) rotate(90)"/>
<use href="#bal" transform="translate(1214.35,430.35) rotate(270)"/>
<g transform="translate(230.35,478.35) rotate(0)"><use href="#fR"/><use href="#fRt" fill="#5c9eff"/></g>
<g transform="translate(278.35,526.35) rotate(0)"><use href="#fR"/><use href="#fRt" fill="#5c9eff"/></g>
<g transform="translate(422.35,766.35) rotate(0)"><use href="#fR"/><use href="#fRt" fill="#5c9eff"/></g>
<g transform="translate(758.35,574.35) rotate(0)"><use href="#fR"/><use href="#fRt" fill="#5c9eff"/></g>
<g transform="translate(1046.35,286.35) rotate(0)"><use href="#fR"/><use href="#fRt" fill="#5c9eff"/></g>
<g transform="translate(-9.65,526.35) rotate(0)"><use href="#fL"/><use href="#fLt" fill="#30d624"/></g>
<g transform="translate(374.35,478.35) rotate(0)"><use href="#fL"/><use href="#fLt" fill="#30d624"/></g>
<g transform="translate(518.35,526.35) rotate(0)"><use href="#fL"/><use href="#fLt" fill="#30d624"/></g>
<g transform="translate(662.35,766.35) rotate(0)"><use href="#fL"/><use href="#fLt" fill="#30d624"/></g>
<g transform="translate(950.35,574.35) rotate(0)"><use href="#fL"/><use href="#fLt" fill="#30d624"/></g>
<g transform="translate(1190.35,286.35) rotate(0)"><use href="#fL"/><use href="#fLt" fill="#30d624"/></g>
<g transform="translate(1190.35,190.35) rotate(270)"><use href="#fL"/><use href="#fLt" fill="#30d624"/></g>
<g transform="translate(1190.35,382.35) rotate(270)"><use href="#fR"/><use href="#fRt" fill="#5c9eff"/></g>
<g transform="translate(734.35,694.35)"><path d="M0.5,4.2 Q0.5,-0.3 4.6,1.2 L32,11.3 L38.4,3.2 Q40.3,0.9 43,0.9 H44.6 Q48.5,0.9 48.5,4.8 V67 L25.6,94.8 H3 Q0.5,94.8 0.5,92.3 V56 L5.7,50.1 V42.7 H0.5 Z" fill="#dee0ea" stroke="#60626a" stroke-width="1.7" stroke-linejoin="round"/><g fill="#8e909b" stroke="#62636b" stroke-width="1.2" stroke-linejoin="round"><path d="M0.6,21.2 H38.5 V15.2 L51.2,23.2 L38.5,31.4 V25 H27.6 V30.4 H23.6 V25 H0.6 Z"/><path d="M0.6,72.7 H23.7 V68.7 H27.5 V76.5 H0.6 Z"/></g><g><circle cx="29.04" cy="44.98" r="8.70" fill="none" stroke="#5f6168" stroke-width="2.2"/><circle cx="21.84" cy="48.94" r="8.70" fill="none" stroke="#5f6168" stroke-width="2.2"/><circle cx="28.68" cy="53.62" r="8.70" fill="none" stroke="#5f6168" stroke-width="2.2"/><clipPath id="w258_493r"><circle cx="29.04" cy="44.98" r="8.70"/></clipPath><clipPath id="w258_493b"><circle cx="21.84" cy="48.94" r="8.70"/></clipPath><circle cx="29.04" cy="44.98" r="8.70" fill="#ff666a"/><circle cx="21.84" cy="48.94" r="8.70" fill="#66a7ff"/><circle cx="28.68" cy="53.62" r="8.70" fill="#78ff66"/><circle cx="21.84" cy="48.94" r="8.70" fill="#dd66ff" clip-path="url(#w258_493r)"/><circle cx="28.68" cy="53.62" r="8.70" fill="#fcf52a" clip-path="url(#w258_493r)"/><circle cx="28.68" cy="53.62" r="8.70" fill="#87fff5" clip-path="url(#w258_493b)"/><g clip-path="url(#w258_493r)"><circle cx="28.68" cy="53.62" r="8.70" fill="#ffffff" clip-path="url(#w258_493b)"/></g></g></g>
<g transform="translate(734.35,790.35)"><path d="M0.5,4.2 Q0.5,-0.3 4.6,1.2 L32,11.3 L38.4,3.2 Q40.3,0.9 43,0.9 H44.6 Q48.5,0.9 48.5,4.8 V67 L25.6,94.8 H3 Q0.5,94.8 0.5,92.3 V56 L5.7,50.1 V42.7 H0.5 Z" fill="#dee0ea" stroke="#60626a" stroke-width="1.7" stroke-linejoin="round"/><g fill="#8e909b" stroke="#62636b" stroke-width="1.2" stroke-linejoin="round"><path d="M0.6,21.2 H38.5 V15.2 L51.2,23.2 L38.5,31.4 V25 H27.6 V30.4 H23.6 V25 H0.6 Z"/><path d="M0.6,72.7 H23.7 V68.7 H27.5 V76.5 H0.6 Z"/></g><g><circle cx="29.04" cy="44.98" r="8.70" fill="none" stroke="#5f6168" stroke-width="2.2"/><circle cx="21.84" cy="48.94" r="8.70" fill="none" stroke="#5f6168" stroke-width="2.2"/><circle cx="28.68" cy="53.62" r="8.70" fill="none" stroke="#5f6168" stroke-width="2.2"/><clipPath id="w258_493r"><circle cx="29.04" cy="44.98" r="8.70"/></clipPath><clipPath id="w258_493b"><circle cx="21.84" cy="48.94" r="8.70"/></clipPath><circle cx="29.04" cy="44.98" r="8.70" fill="#ff666a"/><circle cx="21.84" cy="48.94" r="8.70" fill="#66a7ff"/><circle cx="28.68" cy="53.62" r="8.70" fill="#78ff66"/><circle cx="21.84" cy="48.94" r="8.70" fill="#dd66ff" clip-path="url(#w258_493r)"/><circle cx="28.68" cy="53.62" r="8.70" fill="#fcf52a" clip-path="url(#w258_493r)"/><circle cx="28.68" cy="53.62" r="8.70" fill="#87fff5" clip-path="url(#w258_493b)"/><g clip-path="url(#w258_493r)"><circle cx="28.68" cy="53.62" r="8.70" fill="#ffffff" clip-path="url(#w258_493b)"/></g></g></g>
<g transform="translate(734.35,886.35)"><path d="M0.5,4.2 Q0.5,-0.3 4.6,1.2 L32,11.3 L38.4,3.2 Q40.3,0.9 43,0.9 H44.6 Q48.5,0.9 48.5,4.8 V67 L25.6,94.8 H3 Q0.5,94.8 0.5,92.3 V56 L5.7,50.1 V42.7 H0.5 Z" fill="#dee0ea" stroke="#60626a" stroke-width="1.7" stroke-linejoin="round"/><g fill="#8e909b" stroke="#62636b" stroke-width="1.2" stroke-linejoin="round"><path d="M0.6,21.2 H38.5 V15.2 L51.2,23.2 L38.5,31.4 V25 H27.6 V30.4 H23.6 V25 H0.6 Z"/><path d="M0.6,72.7 H23.7 V68.7 H27.5 V76.5 H0.6 Z"/></g><g><circle cx="29.04" cy="44.98" r="8.70" fill="none" stroke="#5f6168" stroke-width="2.2"/><circle cx="21.84" cy="48.94" r="8.70" fill="none" stroke="#5f6168" stroke-width="2.2"/><circle cx="28.68" cy="53.62" r="8.70" fill="none" stroke="#5f6168" stroke-width="2.2"/><clipPath id="w258_493r"><circle cx="29.04" cy="44.98" r="8.70"/></clipPath><clipPath id="w258_493b"><circle cx="21.84" cy="48.94" r="8.70"/></clipPath><circle cx="29.04" cy="44.98" r="8.70" fill="#ff666a"/><circle cx="21.84" cy="48.94" r="8.70" fill="#66a7ff"/><circle cx="28.68" cy="53.62" r="8.70" fill="#78ff66"/><circle cx="21.84" cy="48.94" r="8.70" fill="#dd66ff" clip-path="url(#w258_493r)"/><circle cx="28.68" cy="53.62" r="8.70" fill="#fcf52a" clip-path="url(#w258_493r)"/><circle cx="28.68" cy="53.62" r="8.70" fill="#87fff5" clip-path="url(#w258_493b)"/><g clip-path="url(#w258_493r)"><circle cx="28.68" cy="53.62" r="8.70" fill="#ffffff" clip-path="url(#w258_493b)"/></g></g></g>
<g transform="translate(1262.35,214.35)"><path d="M0.5,4.2 Q0.5,-0.3 4.6,1.2 L32,11.3 L38.4,3.2 Q40.3,0.9 43,0.9 H44.6 Q48.5,0.9 48.5,4.8 V67 L25.6,94.8 H3 Q0.5,94.8 0.5,92.3 V56 L5.7,50.1 V42.7 H0.5 Z" fill="#dee0ea" stroke="#60626a" stroke-width="1.7" stroke-linejoin="round"/><g fill="#8e909b" stroke="#62636b" stroke-width="1.2" stroke-linejoin="round"><path d="M0.6,21.4 H38.5 V15.4 L51.2,23.4 L38.5,31.6 V25.2 H27.2 V30 H23.4 V25.2 H0.6 Z"/></g><path d="M5.8,23.2 L9.5,16.2 H17 L20.8,23.2 L17,30.2 H9.5 Z" fill="#ffffff" stroke="#62636b" stroke-width="1.4" stroke-linejoin="round"/><path d="M25.8,48.2 H28.6 V60 Q28.6,63.6 32.5,63.6 H35 Q38.4,63.6 38.4,60" fill="none" stroke="#62636b" stroke-width="4.2" stroke-linecap="round"/><path d="M25.8,48.2 H28.6 V60 Q28.6,63.6 32.5,63.6 H35 Q38.4,63.6 38.4,60" fill="none" stroke="#8e909b" stroke-width="2" stroke-linecap="round"/><rect x="11.3" y="44.3" width="14.5" height="7.8" rx="2" fill="#8e909b" stroke="#62636b" stroke-width="1.3"/><rect x="31.9" y="36.6" width="10.3" height="23.3" rx="2.3" fill="#8e909b" stroke="#62636b" stroke-width="1.3"/><g fill="#8e909b" stroke="#62636b" stroke-width="1.2" stroke-linejoin="round"><path d="M0.6,72.6 H6 V76.2 H0.6 Z"/><path d="M19,73.1 H23.2 V68.8 H27 V76.8 H19 Z"/></g><g><circle cx="15.67" cy="71.64" r="5.20" fill="none" stroke="#5f6168" stroke-width="2.2"/><circle cx="11.07" cy="74.17" r="5.20" fill="none" stroke="#5f6168" stroke-width="2.2"/><circle cx="15.44" cy="77.16" r="5.20" fill="none" stroke="#5f6168" stroke-width="2.2"/><clipPath id="w136_744r"><circle cx="15.67" cy="71.64" r="5.20"/></clipPath><clipPath id="w136_744b"><circle cx="11.07" cy="74.17" r="5.20"/></clipPath><circle cx="15.67" cy="71.64" r="5.20" fill="#ff666a"/><circle cx="11.07" cy="74.17" r="5.20" fill="#66a7ff"/><circle cx="15.44" cy="77.16" r="5.20" fill="#78ff66"/><circle cx="11.07" cy="74.17" r="5.20" fill="#dd66ff" clip-path="url(#w136_744r)"/><circle cx="15.44" cy="77.16" r="5.20" fill="#fcf52a" clip-path="url(#w136_744r)"/><circle cx="15.44" cy="77.16" r="5.20" fill="#87fff5" clip-path="url(#w136_744b)"/><g clip-path="url(#w136_744r)"><circle cx="15.44" cy="77.16" r="5.20" fill="#ffffff" clip-path="url(#w136_744b)"/></g></g></g>
<g transform="translate(1262.35,310.35)"><path d="M0.5,4.2 Q0.5,-0.3 4.6,1.2 L32,11.3 L38.4,3.2 Q40.3,0.9 43,0.9 H44.6 Q48.5,0.9 48.5,4.8 V67 L25.6,94.8 H3 Q0.5,94.8 0.5,92.3 V56 L5.7,50.1 V42.7 H0.5 Z" fill="#dee0ea" stroke="#60626a" stroke-width="1.7" stroke-linejoin="round"/><g fill="#8e909b" stroke="#62636b" stroke-width="1.2" stroke-linejoin="round"><path d="M0.6,21.4 H38.5 V15.4 L51.2,23.4 L38.5,31.6 V25.2 H27.2 V30 H23.4 V25.2 H0.6 Z"/></g><path d="M5.8,23.2 L9.5,16.2 H17 L20.8,23.2 L17,30.2 H9.5 Z" fill="#ffffff" stroke="#62636b" stroke-width="1.4" stroke-linejoin="round"/><path d="M25.8,48.2 H28.6 V60 Q28.6,63.6 32.5,63.6 H35 Q38.4,63.6 38.4,60" fill="none" stroke="#62636b" stroke-width="4.2" stroke-linecap="round"/><path d="M25.8,48.2 H28.6 V60 Q28.6,63.6 32.5,63.6 H35 Q38.4,63.6 38.4,60" fill="none" stroke="#8e909b" stroke-width="2" stroke-linecap="round"/><rect x="11.3" y="44.3" width="14.5" height="7.8" rx="2" fill="#8e909b" stroke="#62636b" stroke-width="1.3"/><rect x="31.9" y="36.6" width="10.3" height="23.3" rx="2.3" fill="#8e909b" stroke="#62636b" stroke-width="1.3"/><g fill="#8e909b" stroke="#62636b" stroke-width="1.2" stroke-linejoin="round"><path d="M0.6,72.6 H6 V76.2 H0.6 Z"/><path d="M19,73.1 H23.2 V68.8 H27 V76.8 H19 Z"/></g><g><circle cx="15.67" cy="71.64" r="5.20" fill="none" stroke="#5f6168" stroke-width="2.2"/><circle cx="11.07" cy="74.17" r="5.20" fill="none" stroke="#5f6168" stroke-width="2.2"/><circle cx="15.44" cy="77.16" r="5.20" fill="none" stroke="#5f6168" stroke-width="2.2"/><clipPath id="w136_744r"><circle cx="15.67" cy="71.64" r="5.20"/></clipPath><clipPath id="w136_744b"><circle cx="11.07" cy="74.17" r="5.20"/></clipPath><circle cx="15.67" cy="71.64" r="5.20" fill="#ff666a"/><circle cx="11.07" cy="74.17" r="5.20" fill="#66a7ff"/><circle cx="15.44" cy="77.16" r="5.20" fill="#78ff66"/><circle cx="11.07" cy="74.17" r="5.20" fill="#dd66ff" clip-path="url(#w136_744r)"/><circle cx="15.44" cy="77.16" r="5.20" fill="#fcf52a" clip-path="url(#w136_744r)"/><circle cx="15.44" cy="77.16" r="5.20" fill="#87fff5" clip-path="url(#w136_744b)"/><g clip-path="url(#w136_744r)"><circle cx="15.44" cy="77.16" r="5.20" fill="#ffffff" clip-path="url(#w136_744b)"/></g></g></g>
<g transform="translate(1502.35,166.35)"><path d="M0.5,4.2 Q0.5,-0.3 4.6,1.2 L32,11.3 L38.4,3.2 Q40.3,0.9 43,0.9 H44.6 Q48.5,0.9 48.5,4.8 V67 L25.6,94.8 H3 Q0.5,94.8 0.5,92.3 V56 L5.7,50.1 V42.7 H0.5 Z" fill="#dee0ea" stroke="#60626a" stroke-width="1.7" stroke-linejoin="round"/><g fill="#8e909b" stroke="#62636b" stroke-width="1.2" stroke-linejoin="round"><path d="M0.6,21.2 H38.5 V15.2 L51.2,23.2 L38.5,31.4 V25 H27.6 V30.4 H23.6 V25 H0.6 Z"/><path d="M0.6,72.7 H23.7 V68.7 H27.5 V76.5 H0.6 Z"/></g><g fill="#8e909b" stroke="#62636b" stroke-width="1.5" stroke-linejoin="round"><path transform="translate(-11.3,0)" d="M22.7,49 L29.7,34.6 Q30.2,34 31,34 H34.5 Q35.2,34 35.7,34.6 L42.7,49 L35.7,63.6 Q35.2,64.3 34.5,64.3 H31 Q30.2,64.3 29.7,63.6 Z"/><path transform="translate(-5.4,0)" d="M22.7,49 L29.7,34.6 Q30.2,34 31,34 H34.5 Q35.2,34 35.7,34.6 L42.7,49 L35.7,63.6 Q35.2,64.3 34.5,64.3 H31 Q30.2,64.3 29.7,63.6 Z"/><path transform="translate(0,0)" d="M22.7,49 L29.7,34.6 Q30.2,34 31,34 H34.5 Q35.2,34 35.7,34.6 L42.7,49 L35.7,63.6 Q35.2,64.3 34.5,64.3 H31 Q30.2,64.3 29.7,63.6 Z"/></g></g>
<g transform="translate(1598.35,166.35)"><path d="M0.5,4.2 Q0.5,-0.3 4.6,1.2 L32,11.3 L38.4,3.2 Q40.3,0.9 43,0.9 H44.6 Q48.5,0.9 48.5,4.8 V67 L25.6,94.8 H3 Q0.5,94.8 0.5,92.3 V56 L5.7,50.1 V42.7 H0.5 Z" fill="#dee0ea" stroke="#60626a" stroke-width="1.7" stroke-linejoin="round"/><g fill="#8e909b" stroke="#62636b" stroke-width="1.2" stroke-linejoin="round"><path d="M0.6,21.2 H38.5 V15.2 L51.2,23.2 L38.5,31.4 V25 H27.6 V30.4 H23.6 V25 H0.6 Z"/><path d="M0.6,72.7 H23.7 V68.7 H27.5 V76.5 H0.6 Z"/></g><g fill="#8e909b" stroke="#62636b" stroke-width="1.5" stroke-linejoin="round"><path transform="translate(-11.3,0)" d="M22.7,49 L29.7,34.6 Q30.2,34 31,34 H34.5 Q35.2,34 35.7,34.6 L42.7,49 L35.7,63.6 Q35.2,64.3 34.5,64.3 H31 Q30.2,64.3 29.7,63.6 Z"/><path transform="translate(-5.4,0)" d="M22.7,49 L29.7,34.6 Q30.2,34 31,34 H34.5 Q35.2,34 35.7,34.6 L42.7,49 L35.7,63.6 Q35.2,64.3 34.5,64.3 H31 Q30.2,64.3 29.7,63.6 Z"/><path transform="translate(0,0)" d="M22.7,49 L29.7,34.6 Q30.2,34 31,34 H34.5 Q35.2,34 35.7,34.6 L42.7,49 L35.7,63.6 Q35.2,64.3 34.5,64.3 H31 Q30.2,64.3 29.7,63.6 Z"/></g></g>
<g transform="translate(1694.35,166.35)"><path d="M0.5,4.2 Q0.5,-0.3 4.6,1.2 L32,11.3 L38.4,3.2 Q40.3,0.9 43,0.9 H44.6 Q48.5,0.9 48.5,4.8 V67 L25.6,94.8 H3 Q0.5,94.8 0.5,92.3 V56 L5.7,50.1 V42.7 H0.5 Z" fill="#dee0ea" stroke="#60626a" stroke-width="1.7" stroke-linejoin="round"/><g fill="#8e909b" stroke="#62636b" stroke-width="1.2" stroke-linejoin="round"><path d="M0.6,21.2 H38.5 V15.2 L51.2,23.2 L38.5,31.4 V25 H27.6 V30.4 H23.6 V25 H0.6 Z"/><path d="M0.6,72.7 H23.7 V68.7 H27.5 V76.5 H0.6 Z"/></g><g fill="#8e909b" stroke="#62636b" stroke-width="1.5" stroke-linejoin="round"><path transform="translate(-11.3,0)" d="M22.7,49 L29.7,34.6 Q30.2,34 31,34 H34.5 Q35.2,34 35.7,34.6 L42.7,49 L35.7,63.6 Q35.2,64.3 34.5,64.3 H31 Q30.2,64.3 29.7,63.6 Z"/><path transform="translate(-5.4,0)" d="M22.7,49 L29.7,34.6 Q30.2,34 31,34 H34.5 Q35.2,34 35.7,34.6 L42.7,49 L35.7,63.6 Q35.2,64.3 34.5,64.3 H31 Q30.2,64.3 29.7,63.6 Z"/><path transform="translate(0,0)" d="M22.7,49 L29.7,34.6 Q30.2,34 31,34 H34.5 Q35.2,34 35.7,34.6 L42.7,49 L35.7,63.6 Q35.2,64.3 34.5,64.3 H31 Q30.2,64.3 29.7,63.6 Z"/></g></g>
<g transform="translate(446.35,310.35)"><path d="M0.4,4.5 Q0.4,1.7 3.2,1.7 H9.4 Q11.4,1.7 11.4,3.7 V6 H36.9 V4.2 Q36.9,2.2 38.9,2.2 H45 Q48,2.2 48,5.2 V91.9 Q48,95.2 44.8,94.9 L21.5,93 Q19.3,92.8 18.6,90.8 L0.9,43.5 Q0.4,42.2 0.4,40.8 Z" fill="#dee0ea" stroke="#60626a" stroke-width="1.7" stroke-linejoin="round"/><g fill="#8e909b" stroke="#62636b" stroke-width="1.2" stroke-linejoin="round"><path d="M0.6,21.2 H38.5 V15.4 L50,23.4 L38.5,31.5 V25 H29.2 V31 H25.5 V25 H0.6 Z"/><path d="M25.4,66.1 H29.2 V72.2 H38.5 V66.1 L50,74 L38.5,81.8 V76 H25.4 Z"/></g><g fill="none" stroke-linecap="round"><g stroke="#62636b" stroke-width="6.6"><path d="M24,44.5 L42,55.5"/><path d="M24,53 L42,41.7"/><circle cx="19.9" cy="40.9" r="3.9"/><circle cx="19.9" cy="56.2" r="3.9"/></g><g stroke="#8e909b" stroke-width="4.2"><path d="M24,44.5 L42,55.5"/><path d="M24,53 L42,41.7"/><circle cx="19.9" cy="40.9" r="3.9"/><circle cx="19.9" cy="56.2" r="3.9"/></g></g><rect x="36.5" y="47" width="6.5" height="3.4" rx="1" fill="#8e909b" stroke="#62636b" stroke-width="1"/></g>
<g transform="translate(590.35,310.35)"><path d="M0.4,4.5 Q0.4,1.7 3.2,1.7 H9.4 Q11.4,1.7 11.4,3.7 V6 H36.9 V4.2 Q36.9,2.2 38.9,2.2 H45 Q48,2.2 48,5.2 V91.9 Q48,95.2 44.8,94.9 L21.5,93 Q19.3,92.8 18.6,90.8 L0.9,43.5 Q0.4,42.2 0.4,40.8 Z" fill="#dee0ea" stroke="#60626a" stroke-width="1.7" stroke-linejoin="round"/><g fill="#8e909b" stroke="#62636b" stroke-width="1.2" stroke-linejoin="round"><path d="M0.6,21.2 H38.5 V15.4 L50,23.4 L38.5,31.5 V25 H29.2 V31 H25.5 V25 H0.6 Z"/><path d="M25.4,66.1 H29.2 V72.2 H38.5 V66.1 L50,74 L38.5,81.8 V76 H25.4 Z"/></g><g fill="none" stroke-linecap="round"><g stroke="#62636b" stroke-width="6.6"><path d="M24,44.5 L42,55.5"/><path d="M24,53 L42,41.7"/><circle cx="19.9" cy="40.9" r="3.9"/><circle cx="19.9" cy="56.2" r="3.9"/></g><g stroke="#8e909b" stroke-width="4.2"><path d="M24,44.5 L42,55.5"/><path d="M24,53 L42,41.7"/><circle cx="19.9" cy="40.9" r="3.9"/><circle cx="19.9" cy="56.2" r="3.9"/></g></g><rect x="36.5" y="47" width="6.5" height="3.4" rx="1" fill="#8e909b" stroke="#62636b" stroke-width="1"/></g>
<g transform="translate(542.35,310.35)"><path d="M0.6,8 Q0.6,4.5 3.5,3.6 Q23.6,-5.2 45,3.2 Q48,4.3 48,7.5 V45.7 Q48.4,50 44.5,49.2 Q24.3,41.5 4.5,49.3 Q0.8,50.2 0.8,46 Z" fill="#dee0ea" stroke="#60626a" stroke-width="1.7" stroke-linejoin="round"/><path d="M17.9,29.4 A7.7,7.7 0 1 1 30.4,24.8" fill="none" stroke="#62636b" stroke-width="7" stroke-linecap="butt"/><path d="M17.9,29.4 A7.7,7.7 0 1 1 30.4,24.8" fill="none" stroke="#8e909b" stroke-width="4.6" stroke-linecap="butt"/><path d="M23.8,26.2 H33.6 V33.6 H23.8 Z" fill="#8e909b" stroke="#62636b" stroke-width="1.2" stroke-linejoin="round"/><path d="M26.6,24.8 H34.2" stroke="#8e909b" stroke-width="4.6"/><g fill="#8e909b" stroke="#62636b" stroke-width="1.2" stroke-linejoin="round"><path d="M2,22.5 H8.8 V26.2 H2 Z"/><path d="M35.2,22.6 H39 V16.2 L48.6,24.4 L39,32.4 V26.4 H35.2 Z"/></g></g>
<g transform="translate(1357.95,838.05)"><path d="M6.1,-1 L33.9,1.3 L43.1,-1 L51.6,6.8 L47.9,32.4 L51.5,41.9 L43.1,49.8 L16.4,47.8 L6.1,49.8 L-1.6,42.4 L1.4,17.6 L-1.6,6.8 Z" fill="#dddfe9" stroke="#60626a" stroke-width="1.8" stroke-linejoin="round"/><g fill="#ffffff" stroke="#8b3a4e" stroke-width="1.4" stroke-linejoin="round"><path d="M18.3,15 V13 Q18.3,10.1 21.2,10.1 H28 Q30.9,10.1 30.9,13 V15" fill="none"/><path d="M20.6,15 V13.4 Q20.6,12.4 21.6,12.4 H27.6 Q28.6,12.4 28.6,13.4 V15" fill="#8b3a4e" stroke-width="0.8"/><path d="M15.4,19.4 H33.6 L33.6,36 Q33.6,39 30.6,39 H18.4 Q15.4,39 15.4,36 Z"/><rect x="13.3" y="15.1" width="22.4" height="4.3" rx="2"/><path d="M20.5,22.2 V33.8 M24.5,22.2 V33.8 M28.5,22.2 V33.8" stroke-width="1" fill="none"/></g></g>
<rect x="22" y="22" width="28" height="22.8" rx="3.5" fill="none" stroke="#767988" stroke-width="2"/><text x="25.8" y="41.2" font-family="Liberation Sans, sans-serif" font-weight="bold" font-size="18" fill="#767988" textLength="19.2" lengthAdjust="spacingAndGlyphs">F2</text><text x="66" y="41.8" font-family="Liberation Sans, sans-serif" font-size="21" fill="#8c8e99" textLength="121.6" lengthAdjust="spacingAndGlyphs">TOGGLE HUD</text>
</svg></body></html>
